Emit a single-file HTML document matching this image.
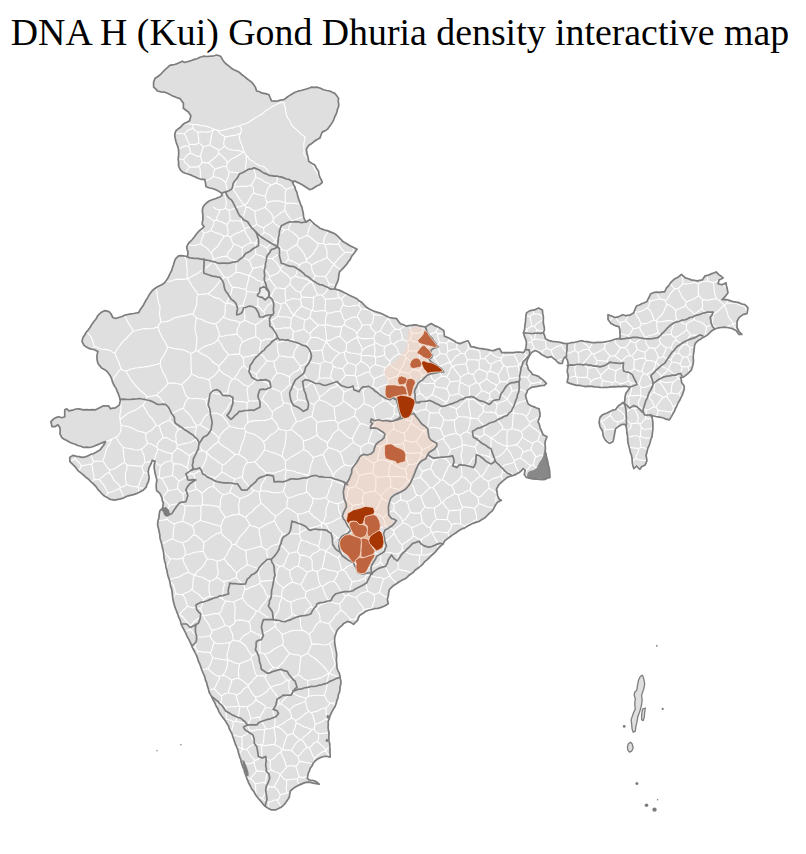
<!DOCTYPE html>
<html><head><meta charset="utf-8"><style>
html,body{margin:0;padding:0;background:#fff;}
body{width:806px;height:854px;overflow:hidden;position:relative;}
h1{position:absolute;left:-3px;top:14px;width:806px;margin:0;text-align:center;font-family:"Liberation Serif",serif;font-weight:normal;font-size:37.85px;line-height:1;color:#000;}
svg{position:absolute;left:0;top:0;}
</style></head><body>
<svg width="806" height="854" viewBox="0 0 806 854">
<polygon points="153.6,82.3 154.9,78.5 158.6,76.0 164.8,69.9 169.8,65.4 177.2,63.6 182.2,61.2 184.7,62.4 189.6,61.2 197.0,58.7 203.3,56.2 210.7,56.2 216.9,55.0 220.6,56.2 224.4,62.4 231.8,68.6 239.3,72.3 246.7,78.5 251.7,82.3 255.4,87.2 256.6,91.0 264.0,93.4 269.0,94.7 271.5,100.9 277.7,100.9 283.9,99.6 288.9,95.9 295.1,92.2 303.8,89.7 311.2,87.2 317.4,87.2 323.6,89.7 329.8,91.0 334.8,93.4 338.5,98.4 338.5,107.0 336.0,114.5 331.0,124.4 327.3,129.4 322.4,131.9 319.9,138.1 313.7,141.8 308.7,145.5 306.3,149.3 307.4,155.0 308.6,161.2 314.8,164.9 318.5,171.1 319.8,177.3 322.3,182.3 319.8,184.7 314.8,187.2 309.9,189.7 306.1,187.2 299.9,183.5 295.0,181.0 292.5,182.3 295.0,187.2 297.4,194.7 299.9,202.1 302.4,209.6 303.6,217.0 306.1,222.0 309.9,219.5 314.8,224.4 319.8,228.2 327.2,230.6 333.4,233.1 338.4,236.8 343.3,241.8 349.6,245.5 357.0,249.3 353.3,254.2 348.3,261.7 344.6,266.6 339.6,271.6 338.4,279.0 335.9,285.2 334.7,289.0 342.1,291.4 347.1,293.9 354.5,297.6 362.0,302.6 366.9,307.6 374.4,311.3 381.8,313.8 389.3,317.5 396.7,318.7 400.4,323.7 406.6,326.2 414.1,324.9 421.9,326.3 425.4,327.0 427.6,325.6 431.1,323.5 434.6,325.6 439.5,327.7 443.7,330.5 444.4,336.2 447.9,337.6 452.1,339.7 456.3,342.5 460.0,343.6 464.0,342.0 467.9,340.7 470.9,346.7 475.9,347.6 481.8,348.6 487.8,349.6 493.7,350.6 499.7,348.6 501.7,352.6 507.6,352.6 513.6,352.6 519.6,352.0 523.5,352.6 525.5,349.6 526.5,342.7 524.5,336.7 523.5,332.8 524.5,329.8 525.5,321.8 526.5,312.9 529.5,310.9 534.4,309.9 538.4,307.9 542.4,309.9 543.4,316.9 543.4,323.8 544.4,329.8 543.4,332.8 545.4,338.7 549.3,340.7 555.3,341.7 561.2,342.7 567.2,343.7 571.2,342.7 577.1,341.7 581.1,340.7 587.0,341.7 595.0,342.7 600.0,342.4 607.0,341.5 614.0,339.5 619.9,338.4 619.9,330.0 618.9,326.6 614.9,325.6 611.0,323.6 608.0,319.6 608.0,314.7 611.0,315.7 614.9,317.6 618.9,316.6 622.9,314.7 625.8,315.7 629.8,315.2 633.8,312.7 634.8,309.7 636.8,305.7 641.7,303.7 646.7,301.8 648.7,297.8 650.7,293.8 654.6,292.3 659.6,292.3 664.6,291.8 666.5,287.9 670.5,282.9 674.5,278.9 678.4,276.9 681.4,274.5 685.4,277.9 691.3,279.9 697.3,280.8 702.2,279.9 705.2,275.9 711.2,273.9 716.1,271.9 719.1,274.9 723.1,277.9 719.1,279.9 718.1,283.8 722.1,284.8 726.1,282.8 727.1,287.8 728.0,292.8 725.1,296.7 722.1,299.7 727.1,299.7 733.0,301.7 739.0,302.7 744.9,304.7 747.9,307.6 746.9,313.6 742.9,314.6 739.0,317.6 737.0,321.5 737.0,327.5 739.0,331.5 741.9,334.4 739.0,334.4 736.0,330.5 732.0,328.5 727.1,327.5 721.1,327.5 716.1,328.5 712.2,330.5 708.2,334.4 703.2,337.4 698.3,340.4 695.3,343.4 694.3,348.3 693.3,355.3 693.3,363.2 691.3,370.2 687.3,374.1 683.4,377.1 680.7,377.4 681.6,382.6 684.2,386.1 684.2,389.5 682.5,394.7 679.9,400.0 676.4,406.9 672.9,413.8 669.4,419.9 666.0,419.1 660.7,417.3 655.5,416.5 650.3,414.7 652.1,417.3 652.9,422.5 652.9,429.5 652.1,436.4 650.3,441.6 647.7,448.6 646.0,455.5 646.9,460.7 645.1,465.1 641.6,466.8 639.9,469.4 636.4,466.0 633.8,468.6 633.0,466.0 632.1,459.0 630.3,452.1 628.6,445.1 627.7,439.9 626.9,433.0 626.0,426.0 625.1,424.3 622.5,424.3 619.1,426.0 615.6,428.6 614.7,433.0 613.8,438.2 613.0,441.6 609.5,443.4 606.9,441.6 605.2,439.9 603.4,436.4 602.6,431.2 600.0,426.9 599.1,422.5 600.0,417.3 602.6,414.7 606.9,413.0 612.1,410.4 615.6,409.5 618.2,406.0 622.5,402.6 624.3,403.4 625.1,396.5 626.0,393.0 629.8,387.5 624.3,386.1 615.6,386.9 605.2,387.4 594.7,386.9 582.6,386.0 573.9,384.6 567.2,382.4 568.2,377.4 567.2,371.5 568.2,365.5 567.2,359.6 565.2,356.6 563.2,359.6 562.2,363.5 559.3,363.5 555.3,359.6 551.3,356.6 547.3,357.6 543.4,355.6 539.4,352.6 535.4,350.6 531.5,352.6 529.5,355.6 527.5,359.6 526.5,363.5 528.5,369.5 532.5,374.4 538.4,376.4 542.4,379.4 546.4,383.4 544.4,385.4 537.4,386.4 531.5,387.3 527.5,390.3 525.5,395.3 526.5,399.3 528.2,404.0 534.1,406.9 539.1,408.9 540.1,415.9 538.1,421.8 540.1,427.8 543.1,434.7 547.0,436.7 545.1,441.7 545.1,451.6 547.0,459.6 549.0,467.5 550.0,477.4 545.1,479.4 539.1,479.4 531.2,478.4 526.2,477.4 524.2,474.4 525.2,470.5 523.2,468.5 519.3,472.5 513.3,475.4 507.3,477.4 502.4,481.4 498.4,485.4 496.4,489.3 497.4,495.3 499.4,499.3 501.4,500.2 497.4,502.2 495.4,505.2 493.4,509.2 489.5,513.2 484.5,518.1 479.6,521.1 473.6,523.1 467.6,526.1 461.7,529.0 455.7,533.0 449.8,537.0 444.8,540.9 442.9,544.0 437.0,549.9 431.0,555.9 427.0,559.9 423.1,563.8 417.1,568.8 411.2,573.7 405.2,578.7 399.3,581.7 393.3,585.7 389.3,589.6 388.3,595.6 387.3,599.6 388.3,603.5 383.4,606.5 377.4,608.5 371.5,609.5 365.5,611.5 359.6,615.4 357.6,620.4 353.6,624.4 350.6,622.4 347.6,621.4 343.7,623.4 339.7,627.3 336.7,631.3 334.7,637.3 334.7,643.2 335.7,649.2 336.7,655.1 336.7,663.1 337.0,667.9 340.0,675.9 341.0,681.8 340.0,689.8 338.0,697.7 336.1,703.7 333.1,709.6 330.1,715.6 328.1,721.5 328.1,727.5 329.1,733.5 329.1,741.4 330.1,749.3 330.1,757.3 325.1,756.3 321.2,757.3 317.2,759.3 313.2,763.2 310.2,768.2 308.3,773.2 307.3,778.1 309.3,780.1 315.2,781.1 319.2,784.1 313.2,783.1 307.3,782.1 301.3,784.1 295.4,787.0 290.4,791.0 289.4,797.0 285.4,802.9 281.5,806.9 275.5,809.9 271.5,809.9 267.6,807.9 263.6,804.9 259.6,799.9 255.7,795.0 251.7,789.0 248.7,783.1 245.7,775.1 242.8,767.2 239.8,757.3 236.8,747.3 233.8,739.4 230.8,731.5 226.9,723.5 222.9,717.6 218.9,711.6 216.0,705.7 213.0,699.7 209.1,692.0 206.7,682.7 203.2,673.3 199.7,663.9 196.2,654.6 191.5,645.2 186.8,635.8 182.2,626.5 178.6,617.1 175.1,607.7 172.8,598.4 171.6,589.0 169.3,579.6 166.9,570.3 164.6,560.9 163.4,551.5 160.5,540.0 159.8,534.8 158.7,529.2 157.6,523.6 158.0,520.8 159.1,515.1 159.8,510.9 162.6,508.1 163.3,503.2 161.9,497.6 159.8,493.4 156.6,490.5 156.2,484.2 156.9,480.0 155.1,473.3 154.1,467.3 155.1,461.4 152.2,460.4 151.2,463.4 149.2,467.3 148.2,471.3 149.2,477.3 148.2,482.2 146.2,487.2 143.2,490.2 137.3,493.2 131.3,495.1 125.4,497.1 119.4,499.1 114.4,500.1 109.5,499.1 104.5,496.1 99.6,491.2 94.6,485.2 88.6,479.3 82.7,474.3 77.7,470.3 73.7,465.4 69.8,461.4 69.8,457.4 72.8,455.4 76.7,456.4 81.7,457.4 86.6,456.4 90.6,454.4 95.6,452.5 100.5,449.5 103.5,445.5 105.5,441.5 100.5,443.5 95.6,445.5 89.6,447.5 83.7,447.5 77.7,445.5 72.8,443.5 66.8,440.5 61.8,437.6 59.9,433.6 59.9,427.6 57.9,424.7 54.9,426.7 51.9,426.7 50.9,421.7 53.9,418.7 58.9,416.7 61.8,417.7 64.8,416.7 64.8,409.8 66.8,408.8 68.8,410.8 73.7,409.8 78.7,408.8 83.7,409.8 89.6,409.8 95.6,409.8 99.6,407.8 103.5,405.8 108.5,405.8 110.5,408.8 115.4,407.8 119.4,404.8 120.4,399.9 118.4,393.9 116.4,388.9 113.4,384.0 111.8,379.2 109.9,375.2 106.9,371.3 101.9,368.3 97.9,363.3 96.9,357.3 97.9,351.4 93.9,349.4 89.0,348.4 84.0,345.4 82.0,341.4 83.0,337.4 86.0,332.5 90.0,327.5 93.9,321.5 97.9,315.5 100.9,312.6 104.9,310.6 108.9,311.6 110.8,313.5 112.8,317.5 115.8,318.5 121.8,316.5 127.8,314.5 133.7,313.5 138.7,312.6 141.7,307.6 144.7,302.6 147.7,297.6 150.6,292.7 154.6,288.7 159.6,285.7 164.6,282.7 168.6,276.7 171.5,270.8 173.5,264.8 175.5,258.8 178.5,255.8 183.5,255.8 187.5,256.8 188.0,251.9 186.7,246.9 188.6,243.2 192.3,239.5 196.1,234.5 199.2,230.8 202.3,228.3 204.1,226.5 202.3,224.6 202.9,219.6 202.9,215.3 202.3,210.9 202.9,207.2 204.7,204.7 207.2,202.3 212.2,199.8 215.9,198.5 220.2,196.7 222.1,195.4 221.5,193.0 218.4,191.1 214.7,189.2 209.7,188.0 206.0,186.7 205.4,182.4 204.7,179.3 201.0,179.3 194.8,176.8 188.6,174.3 182.4,171.9 180.5,170.0 178.5,165.4 178.5,156.7 178.5,149.3 176.0,141.8 174.7,135.6 176.0,130.6 180.9,126.9 184.7,123.2 189.6,120.7 190.9,115.8 188.4,112.0 183.4,108.3 183.4,103.3 179.7,98.4 172.3,95.9 164.8,92.2 157.4,91.0 153.6,87.2" fill="#dfdfdf" stroke="none"/>
<path d="M70.2 461.9L70.4 461.8 72.5 460.2 74.8 458.8M75.8 456.2L75.7 456.4 74.8 458.8M176.0 442.0L176.1 438.9 175.7 435.7 176.2 432.6 178.1 429.8M169.4 420.3L171.4 422.0 173.1 423.9 175.1 425.6 177.1 427.3 178.1 429.8M169.4 420.3L166.7 421.3 164.1 422.5 161.5 423.8 159.1 425.6M176.0 442.0L173.4 441.1 170.9 440.0 168.5 438.6 165.9 437.6 163.1 437.4M159.1 425.6L160.1 428.5 160.8 431.6 162.3 434.4 163.1 437.4M158.1 327.0L159.0 324.4 160.8 322.3M160.8 322.3L160.5 319.8 160.1 317.3 159.5 314.9 159.6 312.3 159.9 309.8 160.0 307.2 159.5 304.7 158.3 302.4 158.0 299.9 157.6 297.4 157.1 294.9 156.9 292.4 156.7 289.9 155.9 287.9M133.3 331.1L135.8 330.5 138.2 329.7 140.7 329.6 143.1 328.8 145.6 328.6 148.2 328.8 150.7 328.8 153.2 328.5 155.6 327.6 158.1 327.0M133.3 331.1L132.0 328.8 130.7 326.5 129.3 324.2 127.7 322.1 126.6 319.7 125.4 317.3 124.6 315.6M94.6 346.5L93.6 344.0 92.8 341.4 91.9 338.8 90.7 336.4 88.9 334.3 87.1 332.3 86.7 331.7M94.6 346.5L92.7 348.4 91.9 349.0M114.9 353.0L112.4 351.9 110.1 350.4 107.5 349.8 104.9 349.4 102.1 349.2 99.5 348.5 97.1 347.3 94.6 346.5M114.9 353.0L116.3 350.8 117.6 348.5 119.3 346.5 120.7 344.3 122.3 342.2 124.1 340.3 126.3 338.8 127.9 336.7 129.6 334.8 131.5 333.0 133.3 331.1M120.9 368.6L120.0 366.0 119.3 363.3 118.2 360.7 116.9 358.2 115.8 355.7 114.9 353.0M120.9 368.6L119.3 370.6 117.7 372.6 116.2 374.6 114.7 376.6 113.5 378.8 112.5 381.2 112.5 381.3M187.6 278.6L185.0 279.1 182.4 279.4 179.8 279.4 177.2 279.1 174.6 279.7 172.1 280.8 169.6 281.3 167.0 281.3 165.6 281.2M187.6 278.6L187.1 276.1 187.1 273.6 187.3 271.0 187.0 268.5 186.7 266.1 186.7 263.5 186.6 261.0 185.6 258.6 184.5 256.2 184.5 256.1M341.4 299.3L343.0 297.1 345.1 295.5 346.8 293.8M341.4 299.3L339.1 297.5M339.1 297.5L338.2 295.2 337.8 292.7 337.4 290.1 337.4 289.9M200.6 608.8L201.6 606.5 202.3 604.1 202.7 601.6 204.0 599.3M200.6 608.8L198.0 607.9 195.4 607.7 192.6 607.8 190.1 607.0 187.5 606.1M187.5 606.1L186.4 603.2 185.6 600.1 184.6 597.2 182.7 594.6M204.0 599.3L201.9 597.8 200.2 595.8 198.3 594.0 196.0 592.6 193.7 591.2 192.2 589.0M192.2 589.0L190.0 590.7 187.7 592.2 185.0 593.1 182.7 594.6M168.9 578.1L169.9 579.3M169.9 579.3L169.6 581.0M196.4 426.5L193.8 426.9 191.1 427.0 188.5 427.3 185.8 427.6 183.3 428.3 180.7 428.9 178.1 429.8M196.4 426.5L196.1 429.6 195.2 432.6 195.0 435.7 195.8 438.9M176.0 442.0L177.3 445.5M177.3 445.5L180.0 444.8 182.7 444.0 185.5 443.4 188.3 443.0 191.0 442.1 193.5 440.8 195.8 438.9M171.7 413.4L174.1 412.6 176.3 411.2 178.6 410.0 180.8 408.8 183.5 408.5M169.4 420.3L170.8 416.9 171.7 413.4M196.4 426.5L197.1 425.6M183.5 408.5L185.3 410.5 187.2 412.5 189.1 414.4 190.9 416.5 192.4 418.8 193.5 421.4 195.1 423.6 197.1 425.6M168.0 383.5L166.3 385.6 164.7 387.7 162.6 389.5 160.7 391.4 158.5 393.0 156.7 395.0M168.0 383.5L167.3 380.9 166.1 378.4 165.2 375.9 163.7 373.6 162.3 371.2 161.7 368.5 160.6 366.0 160.1 363.3M125.7 370.7L127.1 372.9 128.3 375.3 129.6 377.6 131.0 379.8 132.5 381.8 134.1 383.9 135.7 385.9 137.6 387.7 139.3 389.7 141.4 391.3 143.5 393.0 145.4 394.8 146.7 397.1M125.7 370.7L128.1 370.2 130.5 369.3 132.9 368.5 135.4 368.0 137.9 367.8 140.4 367.3 142.9 367.3 145.4 366.6 147.9 366.6 150.3 365.8 152.8 365.4 155.2 364.7 157.7 364.0 160.1 363.3M146.7 397.1L149.2 396.3 151.8 396.3 154.2 395.6 156.7 395.0M171.7 413.4L170.0 411.5 168.6 409.2 167.0 407.0 165.2 405.1 163.9 402.7 162.1 400.8 160.6 398.6 158.8 396.7 156.7 395.0M188.4 397.8L186.8 400.3 185.1 402.8 184.1 405.6 183.5 408.5M181.7 384.6L179.0 384.0 176.3 383.5 173.6 382.9 170.8 383.1 168.0 383.5M181.7 384.6L183.0 387.3 183.9 390.1 184.8 393.0 186.1 395.7 188.4 397.8M120.9 368.6L123.0 370.3 125.7 370.7M167.7 346.7L166.2 344.4 165.1 341.9 163.5 339.6 162.0 337.3 161.0 334.8 159.7 332.3 159.0 329.6 158.1 327.0M167.7 346.7L166.9 349.2 165.8 351.6 164.7 353.9 163.2 356.1 161.8 358.3 160.6 360.6 160.1 363.3M188.0 278.8L189.2 281.2 190.7 283.5 191.9 285.9 193.6 287.9 195.0 290.2 196.6 292.3 198.1 294.5M187.6 278.6L188.0 278.8M160.8 322.3L163.3 321.7 165.9 321.6 168.4 321.1 170.7 319.9 173.0 318.6 175.4 317.4 177.9 317.1 180.4 316.5 182.9 315.9 185.5 315.7 187.9 314.8 190.3 314.1 193.0 314.1M193.0 314.1L193.9 311.7 195.2 309.4 195.9 307.0 196.6 304.6 196.9 302.1 196.8 299.4 197.1 296.9 198.1 294.5M268.8 802.3L266.3 801.4 264.1 800.1 262.2 798.3M268.8 802.3L268.6 805.0 268.3 807.7 268.3 808.3M258.2 798.1L259.5 797.8 262.2 798.3M599.8 418.3L601.0 420.6M599.3 421.5L601.0 420.6M610.2 415.3L608.2 416.9 606.2 418.6 604.1 420.2 601.4 420.7M610.2 415.3L611.8 417.3 613.2 419.6 615.1 421.3 617.9 422.0M601.4 420.7L602.8 423.5 604.5 426.2 605.6 429.2M605.6 429.2L608.2 429.5 610.9 429.4 613.6 429.1 615.4 429.8M616.7 427.8L616.8 427.4 617.5 424.7 617.9 422.0M341.4 299.3L342.9 301.9 343.2 304.9M359.8 301.1L359.5 302.3 358.8 305.2M358.8 305.2L356.2 305.3 353.6 305.6 351.0 306.2 348.4 306.5 345.8 306.1 343.2 304.9M745.7 305.5L745.0 306.5M747.2 311.9L746.2 309.9 745.0 306.5M707.8 280.9L707.5 278.0 706.9 275.3M707.8 280.9L705.3 281.4 702.7 281.6 700.3 282.3 698.4 284.4M698.4 284.4L694.6 282.3M694.6 282.3L694.4 280.4M694.6 282.3L691.7 283.2 688.8 283.6 685.8 283.9 682.8 284.0M680.9 274.9L681.3 275.5 682.4 278.1 683.0 280.9 682.8 284.0M182.7 594.6L179.3 594.5 176.0 593.6M176.0 593.6L175.0 591.0 174.4 588.1 173.6 585.4 171.8 583.1 169.7 581.1M192.2 589.0L192.6 586.2 193.0 583.4 193.0 580.5 193.6 577.7 194.6 574.9M169.9 579.3L172.3 578.5 174.8 578.0 177.3 577.4 179.7 576.5 182.0 575.3 184.2 574.1 186.5 572.9 189.0 572.3M189.0 572.3L191.5 574.1 194.6 574.9M166.3 567.9L166.5 566.7 167.8 564.1 169.2 561.5 169.9 558.6M169.9 558.6L172.5 558.8 175.2 558.9 177.8 559.3 180.5 558.5 183.1 558.1M189.0 572.3L187.8 570.0 186.7 567.7 185.5 565.4 184.2 563.2 183.2 560.8 183.1 558.1M194.1 534.7L191.8 536.3 189.8 538.3 187.8 540.4 185.2 541.6 182.6 542.7M182.6 542.7L183.7 545.6 184.7 548.5 185.4 551.5 185.1 554.7M203.6 542.2L201.5 540.0 199.2 538.0 197.0 536.0 194.1 534.7M203.6 542.2L203.8 545.2 203.3 548.2 203.0 551.2M185.1 554.7L187.7 554.5 190.3 554.0 192.7 553.0 195.2 552.3 197.8 551.7 200.4 551.6 203.0 551.2M169.9 558.6L168.0 556.3 165.7 554.3 164.2 551.6 163.0 548.8 162.6 548.4M172.4 538.7L174.8 540.0 177.3 541.2 179.9 542.0 182.6 542.7M183.1 558.1L185.1 554.7M172.4 538.7L170.0 539.8 167.6 540.9 165.3 542.2 163.0 543.4 161.8 545.0M174.4 523.9L174.1 526.9 173.4 529.8 173.1 532.8 173.3 535.8 172.4 538.7M174.4 523.9L171.6 522.8 169.2 521.1 166.9 519.2M166.9 519.2L164.0 520.1 161.1 520.3 158.1 520.8 158.0 520.8M182.9 493.9L183.2 497.2 183.4 500.5 182.6 503.8M182.6 503.8L180.0 504.0 177.3 504.0 174.6 504.3 172.0 504.6 169.5 505.8M167.8 490.9L170.2 490.3 172.7 490.0 175.2 489.5 177.7 488.7M182.9 493.9L180.1 491.5 177.7 488.7M167.8 490.9L165.8 493.1 164.3 495.5 162.8 497.9M169.5 505.8L168.1 503.6 166.1 501.9 164.5 499.8 162.8 497.9M74.8 458.8L77.3 460.8 79.6 463.0 81.3 465.7M81.3 465.7L80.4 468.1 79.1 470.3 78.7 471.1M275.3 626.1L272.9 627.8 270.6 629.5 268.2 631.1 265.4 632.2 263.1 634.1 260.8 635.8M282.1 634.4L280.3 632.4 278.5 630.4 276.5 628.6 275.3 626.1M282.5 644.8L280.2 645.9 277.9 647.1 275.6 648.2 273.4 649.5 271.3 651.2 269.2 652.7 266.7 653.5 264.0 653.7M282.1 634.4L282.3 637.0 283.0 639.6 283.3 642.2 282.5 644.8M264.0 653.7L259.9 652.6M259.9 652.6L260.0 649.8 259.8 647.0 259.9 644.2 260.5 641.4 260.7 638.6 260.8 635.8M260.8 635.8L258.4 634.5 255.8 633.5 253.4 632.1 250.8 631.2M250.8 631.2L248.3 632.9 245.8 634.5 243.1 636.0 241.3 638.5 239.6 641.0M259.9 652.6L257.3 653.5 254.5 654.0 252.3 655.8M252.3 655.8L250.5 653.7 248.8 651.5 247.4 649.0 246.0 646.5 244.1 644.5 241.9 642.7 239.6 641.0M264.0 653.7L265.6 655.9 267.1 658.2 268.2 660.7 269.7 663.1 271.3 665.2 273.3 667.2M252.3 655.8L250.6 659.0M256.9 675.8L255.6 673.5 254.8 671.1 253.9 668.7 253.4 666.1 252.8 663.6 252.2 661.1 250.6 659.0M256.9 675.8L259.6 675.7 262.3 675.4 264.9 676.6M273.3 667.2L271.4 668.9 269.6 670.7 268.0 672.6 266.5 674.7 264.9 676.6M282.5 644.8L284.4 646.9 286.1 649.1 287.6 651.6 289.9 653.3M289.9 653.3L288.1 655.3 286.4 657.4 285.0 659.8 283.5 662.0 281.5 663.8 279.5 665.7 277.5 667.5M273.3 667.2L277.5 667.5M307.5 653.2L309.5 654.9 311.7 656.5 314.1 657.8 316.3 659.5 318.2 661.3 320.1 663.2 322.1 665.0 323.8 667.0 325.7 669.0 327.4 671.1 328.7 673.5M328.7 673.6L328.7 673.5M301.2 656.4L300.6 659.0 300.3 661.6 300.1 664.3 299.6 666.9 299.6 669.6 298.9 672.2 298.3 674.8M301.2 656.4L304.4 654.9 307.5 653.2M328.7 673.6L326.2 674.8 323.7 676.1 321.3 677.6 318.7 678.4 316.0 679.2 313.2 679.2 310.5 680.0 307.7 680.3M298.3 674.8L300.7 676.2 302.7 678.1 305.0 679.6 307.7 680.3M200.9 506.0L198.2 505.7 195.5 505.8 192.9 506.1 190.2 505.8 187.5 505.5 184.9 506.3M200.9 506.0L201.1 508.8 200.8 511.6 201.1 514.4 200.5 517.1 200.5 519.9M184.9 506.3L184.8 508.9 185.0 511.5 184.5 514.0 183.7 516.5 183.1 519.0 182.8 521.5M200.5 519.9L198.5 521.5 196.1 522.6 194.0 524.0 192.7 526.4M192.7 526.4L190.5 524.8 188.0 523.5 185.4 522.5 182.8 521.5M174.4 523.9L177.1 522.7 179.8 521.7 182.8 521.5M166.9 519.2L167.2 516.5 167.4 513.7 167.6 511.0 168.2 508.3 169.5 505.8M182.6 503.8L184.9 506.3M194.1 534.7L194.1 531.9 193.7 529.1 192.7 526.4M220.7 526.3L221.3 529.4 221.0 532.5M203.6 542.2L206.1 540.9 208.5 539.4 210.7 537.4 213.1 535.9 215.5 534.3 218.1 533.1 221.0 532.5M220.7 526.3L218.1 525.6 215.7 524.6 213.0 524.3 210.5 523.4 208.0 522.5 205.4 522.0 202.9 521.2 200.5 519.9M161.7 478.5L164.3 477.3 167.0 476.8 169.8 476.5 172.3 475.2M161.7 478.5L163.2 480.8 164.4 483.3 166.0 485.6 167.4 488.0 167.8 490.9M177.7 488.7L177.8 486.1 178.0 483.5 179.1 481.0M179.1 481.0L176.9 479.1 174.9 476.9 172.3 475.2M156.1 425.3L154.3 427.1 152.7 429.2 150.6 430.8 148.2 431.9 146.2 433.4M156.1 425.3L154.8 422.9 153.5 420.6 151.9 418.4 149.9 416.5 148.4 414.3 146.8 412.1 145.7 409.6 144.2 407.4 142.6 405.2M146.2 433.4L143.7 432.4 141.1 431.7 138.4 431.2 135.9 430.1 133.5 428.8 131.1 427.5 128.5 426.7 125.8 426.2 123.1 425.8 120.6 424.8 120.5 424.8M142.6 405.2L140.3 406.6 138.3 408.4 135.9 409.7 133.3 410.8 130.9 412.0 128.4 413.1 126.2 414.7 124.0 416.2 122.0 418.0 120.0 419.5M156.6 446.9L153.7 445.4 150.9 443.8 147.5 443.5M163.1 437.4L161.1 439.5 158.8 441.4 157.5 444.1 156.6 446.9M159.1 425.6L156.1 425.3M147.5 443.5L146.8 441.0 145.9 438.6 145.9 436.0 146.2 433.4M146.7 397.1L145.7 400.0 144.8 402.9 142.6 405.2M123.1 447.3L121.3 445.0 119.5 442.8 117.9 440.3 116.5 437.7 115.9 437.1M123.1 447.3L125.7 448.0 128.4 448.3 131.0 448.9 133.6 449.5 136.2 450.0 138.9 449.9 141.6 449.1M141.6 449.1L143.8 447.4 145.5 445.3 147.5 443.5M167.7 346.7L170.3 347.5 172.8 348.4 175.5 348.7 178.2 349.1 180.9 349.5 183.6 349.9 186.1 350.9 188.5 352.1 190.8 353.6M193.0 314.1L196.3 317.7M196.3 317.7L195.9 320.2 195.8 322.8 195.4 325.4 194.9 327.9 195.2 330.5 195.7 333.1 196.4 335.7 197.1 338.2 196.8 340.8 196.4 343.4 196.3 345.9 196.2 348.5 195.3 351.0M190.8 353.6L193.3 352.6 195.3 351.0M181.7 384.6L183.6 382.5 185.8 380.5 188.1 378.7 189.9 376.4 191.3 373.8M190.8 353.6L190.8 356.1 191.1 358.6 190.8 361.2 191.2 363.7 191.1 366.2 191.1 368.7 191.5 371.2 191.3 373.8M296.7 244.5L298.4 246.6 300.1 248.6 301.8 250.6 303.5 252.6 304.6 255.1 305.6 257.5 306.5 260.1M296.7 244.5L297.8 241.8 298.7 239.0M318.4 243.2L316.0 242.0 314.0 240.2 311.9 238.5 309.8 236.8 307.4 235.6M306.5 260.1L308.3 258.2 310.4 256.5 312.2 254.6 313.8 252.6 315.2 250.4 316.5 248.2 317.7 245.8 318.4 243.2M298.7 239.0L301.6 237.9 304.3 236.3 307.4 235.6M277.0 176.3L277.2 177.6 277.3 180.4 276.3 183.1M294.6 186.4L294.2 186.6 291.6 187.6 289.0 188.3 286.5 189.4M286.5 189.4L284.0 187.7 281.8 185.6 279.1 184.2 276.3 183.1M267.2 202.5L265.8 199.3 265.4 195.8M285.4 202.4L282.8 202.0 280.2 201.3 277.6 200.9 275.0 200.9 272.4 201.1 269.8 201.7 267.2 202.5M285.4 202.4L285.3 199.8 285.2 197.1 285.1 194.5 285.5 191.9 286.5 189.4M276.3 183.1L273.7 183.9 271.2 185.1M265.4 195.8L266.5 192.9 267.3 189.9 268.6 187.1 271.2 185.1M187.5 245.4L187.9 245.3 190.4 245.3 193.1 245.6 195.6 245.4 198.1 244.5 200.6 243.8M200.6 243.8L201.3 241.1 201.9 238.4 203.2 235.9 204.0 233.2M204.0 233.2L202.4 231.2 200.7 229.6M247.0 778.6L248.1 778.3 250.7 778.8M255.8 795.1L255.9 794.2 255.9 791.6 255.6 789.1 255.6 786.5 255.2 783.9M250.7 778.8L253.1 781.3 255.2 783.9M268.8 802.3L271.7 801.3 274.5 800.0 277.6 799.9M281.6 806.8L280.0 804.8 278.4 802.6 277.6 799.9M313.0 763.6L310.4 763.2 307.6 762.7 304.9 762.2 302.1 761.4 299.3 761.6M299.3 761.6L297.9 764.2 295.8 766.2M295.8 766.2L296.7 768.8 297.5 771.4 298.3 774.1 299.1 776.8M307.6 776.7L305.5 776.9 302.3 777.6 299.1 776.8M314.5 758.2L312.8 755.8 311.8 753.1 310.7 750.4 309.3 747.9M314.5 758.2L316.6 756.4 318.6 754.5 320.8 752.9 323.2 751.6 325.9 750.9M309.3 747.9L311.2 746.1 312.9 744.0 315.0 742.5 317.6 741.7M317.6 741.7L319.9 743.7 322.3 745.6 324.4 747.8 325.9 750.5M325.9 750.9L325.9 750.5M330.1 755.8L329.3 755.2 327.2 753.5 325.9 750.9M313.3 763.1L314.0 760.9 314.5 758.2M309.3 747.9L307.4 747.4M299.3 761.6L298.6 758.9 297.9 756.1M307.4 747.4L305.3 748.9 303.2 750.5 301.7 752.7 300.0 754.7 297.9 756.1M282.5 749.6L285.4 750.1 288.3 750.1 291.2 750.5M282.5 749.6L281.7 750.0M295.8 766.2L292.6 765.9 289.5 765.6 286.5 766.7M286.5 766.7L285.6 764.2 285.0 761.6 284.1 759.0 282.6 756.7 281.4 754.3 281.1 751.6M281.7 750.0L281.1 751.6M291.2 750.5L293.5 752.3 295.5 754.4 297.9 756.1M318.2 783.3L317.5 783.7 317.5 783.8M312.5 783.0L312.1 782.0 311.6 780.5M605.6 429.2L603.3 433.4M601.0 420.6L601.4 420.7M603.3 433.4L603.0 433.6M610.2 415.3L611.3 410.8M196.5 489.2L193.8 490.3 191.0 491.0 188.2 491.6 185.3 492.2 182.9 493.9M196.5 489.2L199.3 491.0 202.0 493.0M200.9 506.0L202.2 504.6M202.2 504.6L202.6 501.7 202.6 498.8 201.9 495.9 202.0 493.0M188.4 397.8L190.8 398.5 193.3 398.7 195.9 398.3 198.4 398.8 200.9 398.8 203.4 399.1 205.8 400.2M200.0 424.4L201.6 422.4 202.8 420.1 203.9 417.7 205.7 415.8 207.7 414.2 210.2 413.0M197.1 425.6L200.0 424.4M210.2 413.0L209.1 410.5 208.2 408.0 207.0 405.5 206.2 402.9 205.8 400.2M229.5 426.2L227.4 428.1 225.1 429.7 223.1 431.6 221.4 433.7 219.8 435.9 218.9 438.7M200.0 424.4L202.1 426.0 204.4 427.3 206.7 428.7 209.0 429.9 211.3 431.3 213.5 432.7 215.5 434.5 217.3 436.4 218.9 438.7M229.5 426.2L228.2 423.9 227.0 421.6 225.3 419.6 223.7 417.6 222.0 415.7M210.2 413.0L213.2 413.3 216.4 413.1 219.3 414.2 222.0 415.7M458.8 393.9L459.0 390.9 459.0 388.0 459.4 385.0 460.4 382.2M458.8 393.9L461.6 395.6 464.5 397.1 467.0 399.3M460.4 382.2L463.3 383.7 466.3 385.2 469.4 386.4M467.0 399.3L467.4 399.3M469.4 386.4L469.4 389.1 469.6 391.8 469.7 394.4 468.7 396.9 467.4 399.3M467.5 359.9L470.4 359.8 473.2 359.7 476.0 359.9 478.8 360.4M467.5 359.9L465.9 363.8M468.4 372.9L467.7 369.8 467.0 366.8 465.9 363.8M473.2 374.4L474.9 372.5 476.5 370.4 479.0 369.3M468.4 372.9L470.7 373.9 473.2 374.4M478.8 360.4L479.3 363.4 479.1 366.4 479.0 369.3M335.9 285.3L332.7 284.8 329.6 283.8M329.6 283.8L327.9 281.5 326.8 278.9 325.1 276.6M325.1 276.6L327.0 274.8 328.2 272.6 329.9 270.7 331.3 268.5 332.4 266.2 334.2 264.3M341.1 270.1L340.4 269.6 338.3 267.9 335.9 266.5 334.2 264.3M325.1 276.6L321.8 276.3 318.6 276.2 315.4 275.8M327.2 257.6L329.4 259.8 331.5 262.2 334.1 264.0M327.2 257.6L324.8 258.6 322.6 259.8 320.3 260.7 317.9 261.5 315.7 262.7 313.6 264.0 311.1 264.6M311.1 264.6L311.7 267.5 312.1 270.6 313.4 273.3 315.4 275.8M334.2 264.3L334.1 264.0M440.3 353.5L443.2 354.0 446.2 354.5M440.3 353.5L437.4 355.9 434.0 357.4M434.0 357.4L435.7 360.3 437.8 362.9 439.0 366.0M439.0 366.0L441.8 365.4 444.4 364.3 446.9 362.9 449.8 362.6M449.8 362.6L448.8 359.8 447.5 357.1 446.2 354.5M437.6 344.9L434.9 344.9 432.3 344.9 429.7 345.9M427.3 348.8L429.7 345.9M427.3 348.8L429.2 351.3 430.6 354.0 431.4 357.0M431.4 357.0L434.0 357.4M437.6 344.9L438.5 347.8 439.2 350.7 440.3 353.5M427.3 348.8L424.5 348.6 421.8 348.6M421.8 348.6L418.8 351.3M419.6 359.7L419.6 356.9 419.3 354.1 418.8 351.3M419.6 359.7L421.6 361.5 424.0 362.7M431.4 357.0L429.8 359.1 427.9 360.9 425.8 362.6M424.0 362.7L425.8 362.6M418.8 351.3L416.3 351.1 413.7 350.8 411.1 351.1 408.5 351.2M408.5 351.2L408.0 348.7 408.3 346.2 408.3 343.7 408.2 341.2M421.8 348.6L420.1 345.6 418.9 342.3M408.2 341.2L409.9 339.9M418.9 342.3L415.8 341.8 412.8 341.3 409.9 339.9M299.7 265.0L298.3 267.7 297.2 270.5 296.6 273.5 295.0 276.1M299.7 265.0L297.5 263.7 295.2 262.6 292.8 261.6 290.5 260.4 288.0 259.7M288.0 259.7L286.0 261.9 283.8 263.8 282.2 266.3 280.4 268.6M290.8 278.8L295.0 276.1M290.8 278.8L288.9 276.8 287.0 274.8 284.7 273.2 282.5 271.5 280.3 269.8M280.4 268.6L280.3 269.8M306.6 261.5L304.2 262.5 301.6 263.1 299.7 265.0M306.6 261.5L306.5 260.1M286.6 250.9L289.2 249.5 291.6 247.6 294.2 246.2 296.7 244.5M286.6 250.9L287.6 253.8 288.3 256.7 288.0 259.7M339.1 297.5L336.4 298.1 333.7 298.9 330.9 298.9 328.1 298.9 325.3 299.2M329.6 283.8L328.4 286.3 327.4 288.9 326.4 291.5 324.5 293.6 322.0 295.2M322.0 295.2L323.7 297.2 325.3 299.2M327.2 312.8L325.3 310.7M340.6 310.7L338.0 311.4 335.3 311.8 332.6 312.3 330.0 313.1 327.2 312.8M343.2 304.9L341.3 307.6 340.6 310.7M325.3 299.2L325.5 302.1 325.4 304.9 325.1 307.8 325.3 310.7M176.0 593.6L174.0 596.0 172.8 598.4M217.3 561.2L214.9 560.2 212.5 559.3 209.9 559.3 207.3 558.7M217.3 561.2L217.0 563.9 217.3 566.8 217.9 569.6 218.2 572.4 217.7 575.1 216.4 577.8M207.3 558.7L206.1 561.0 204.8 563.2 203.6 565.6 201.7 567.4 200.0 569.3 197.8 570.9 196.0 572.7 194.7 574.9M194.7 574.9L197.1 576.0 199.8 576.7 202.5 577.2 204.8 578.8 207.2 580.1 209.6 581.3M216.4 577.8L214.3 579.3 212.0 580.4 209.6 581.3M224.0 558.7L225.5 556.5 227.2 554.3 228.3 551.8 229.5 549.3 231.0 547.1 232.0 544.5M221.0 532.5L222.6 534.7 224.4 536.8 226.6 538.4 228.8 540.1 230.9 541.8 232.0 544.5M203.0 551.2L204.5 553.7 205.8 556.3 207.3 558.7M224.0 558.7L220.8 560.3 217.3 561.2M194.6 574.9L194.7 574.9M204.0 599.3L206.7 597.3 210.0 596.2M210.0 596.2L209.4 593.2 209.0 590.3 208.9 587.3 209.3 584.3 209.6 581.3M210.0 596.2L212.5 596.6 215.0 597.0 217.5 597.5 220.0 597.6 222.4 598.6M222.4 598.6L222.5 595.8 222.9 592.9 223.1 590.1 223.7 587.3 224.3 584.5 223.8 581.6M223.8 581.6L221.3 580.4 219.1 578.7 216.4 577.8M256.4 611.1L255.2 613.4 254.1 615.8 252.2 617.7 250.7 619.8 248.9 621.7M256.4 611.1L254.3 609.4 251.8 608.0 249.6 606.3 247.4 604.6 245.5 602.6 243.8 600.5 242.5 597.8M248.9 621.7L246.2 621.1 243.5 620.3 240.7 619.9 238.0 620.1 235.2 621.3M235.2 621.3L234.8 618.6 234.9 615.8 234.8 613.0 235.0 610.2 235.3 607.4 234.4 604.7 233.7 602.0M242.5 597.8L239.6 599.3 236.6 600.5 233.7 602.0M275.3 626.1L275.1 623.0M273.5 620.5L275.1 623.0M273.5 620.5L271.0 619.1 268.2 618.0 265.9 616.2 263.6 614.5 261.1 612.9 258.9 611.1M258.9 611.1L256.4 611.1M250.8 631.2L250.4 628.0 250.0 624.8 248.9 621.7M239.6 641.0L236.3 641.1 233.2 640.0M229.7 626.8L230.4 629.4 231.5 631.9 232.7 634.4 232.9 637.2 233.2 640.0M229.7 626.8L231.9 625.3 234.0 623.7 235.2 621.3M212.0 630.4L214.7 629.6 217.5 629.0 220.0 627.8 222.6 626.7 225.0 625.2M212.0 630.4L210.4 628.1 209.4 625.5 208.0 623.1 206.2 620.9 204.7 618.6 204.0 615.9M225.0 625.2L223.9 622.8 223.0 620.3 221.8 617.9 220.3 615.8 218.9 613.5M204.0 615.9L206.4 615.3 208.9 614.9 211.4 614.4 213.8 613.6 216.3 613.6 218.9 613.5M225.5 601.3L228.2 601.4 230.9 601.8 233.7 602.0M225.5 601.3L224.1 603.7 222.9 606.2 222.1 608.9 221.2 611.6 218.9 613.5M229.7 626.8L225.0 625.2M200.6 608.8L201.7 611.8 202.3 615.0M222.4 598.6L225.5 601.3M202.3 615.0L204.0 615.9M108.1 492.9L110.5 492.2 112.9 491.4 115.2 490.6 117.5 489.5 119.8 488.5M123.4 497.8L123.2 496.4 122.4 493.7 121.1 491.1 119.8 488.5M108.1 492.9L106.3 495.3 105.3 496.6M162.8 497.9L162.0 498.0M277.5 667.5L279.6 669.4 281.1 671.7 282.3 674.1 284.0 676.3 285.5 678.6 287.9 680.1M264.9 676.6L265.9 679.4 267.3 682.1 268.8 684.7 270.8 687.1M270.8 687.1L273.3 686.3 275.7 685.3 278.3 684.6 280.9 684.1 283.3 682.9 285.5 681.3 287.9 680.1M289.9 653.3L292.7 654.2 295.6 654.6 298.6 654.9 301.2 656.4M298.3 674.8L295.9 676.1 293.4 677.2 291.3 679.1 288.9 680.4M287.9 680.1L288.9 680.4M337.2 700.1L337.2 700.2 335.4 702.1 333.1 703.4M333.1 703.4L335.1 705.5 335.2 705.5M328.7 673.5L329.8 673.2M312.0 644.2L310.6 646.3 309.8 648.7 308.6 650.9 307.5 653.2M312.0 644.2L314.9 643.9 317.8 644.1 320.8 644.5 323.7 645.0 326.6 644.7 329.5 643.4M329.5 643.4L330.2 645.9 331.3 648.4 331.9 650.9 332.5 653.4 332.6 656.1 333.5 658.6 334.5 661.0 335.2 663.6M329.8 673.2L330.9 670.7 332.5 668.4 334.2 666.2 335.2 663.6M336.7 662.3L335.2 663.6M340.4 678.1L339.6 677.8 337.3 676.5 334.7 675.6 332.0 674.7 329.8 673.2M196.5 489.2L195.5 486.8 195.1 484.3 195.2 481.6 195.0 479.1 194.4 476.6 193.3 474.2M179.1 481.0L181.6 479.7 184.0 478.3 186.1 476.5 188.5 475.1 190.7 473.4M193.3 474.2L190.7 473.4M156.6 446.9L157.9 449.1M141.6 449.1L142.3 451.7 143.6 454.2 144.3 456.8 144.6 459.5 145.0 462.2M157.9 449.1L157.1 452.1 155.7 454.9 154.9 457.9 153.5 460.8M153.5 460.8L153.3 460.8M152.0 461.1L150.7 461.4 147.9 462.1 145.0 462.2M127.3 465.1L124.6 462.5M124.6 462.5L124.4 460.0 123.8 457.5 123.7 454.9 123.5 452.4 123.1 449.9 123.1 447.3M127.3 465.1L130.2 465.5 133.2 465.6 136.1 465.9 139.0 466.2 141.9 466.4M141.9 466.4L143.5 464.3 145.0 462.2M94.4 479.5L93.8 477.0 93.7 474.4 92.9 471.9 92.6 469.3 92.4 466.7 91.6 464.2M94.4 479.5L99.2 479.6M99.2 479.6L101.5 477.6 104.0 475.7 106.3 473.6 109.2 472.4M102.7 461.2L104.6 463.2 106.0 465.7 107.5 468.0 109.8 469.7M102.7 461.2L99.7 461.2 96.6 461.0 93.7 461.8M109.8 469.7L109.2 472.4M93.7 461.8L91.6 464.2M81.3 465.7L83.9 465.4 86.4 465.0 88.9 464.2 91.6 464.2M91.1 481.7L92.1 480.9 94.4 479.5M108.1 492.9L106.9 490.5 105.5 488.2 104.4 485.8 102.6 483.7 101.2 481.5 99.2 479.6M119.8 488.5L120.5 487.4M120.5 487.4L118.9 485.2 117.1 483.2 115.1 481.4 113.3 479.4 112.3 476.8 110.8 474.6 109.2 472.4M124.6 462.5L122.1 463.7 119.8 465.2 117.6 466.8 115.2 468.3 112.8 469.5 109.8 469.7M112.2 438.9L111.5 439.9 110.3 442.2 109.1 444.4 107.7 446.6 106.8 449.0 105.7 451.3 105.4 453.9 104.4 456.3 103.7 458.8 102.7 461.2M90.7 454.4L90.7 454.5 91.5 457.0 92.6 459.4 93.7 461.8M126.7 484.5L123.8 486.3 120.5 487.4M127.3 465.1L127.0 467.9 126.2 470.6 125.5 473.4 125.4 476.1 125.5 478.9 125.9 481.7 126.7 484.5M226.5 303.1L229.2 303.4 232.0 304.1 234.6 305.2 237.3 306.0 240.1 305.9 243.0 305.2M226.5 303.1L227.8 300.6 228.8 298.0 229.9 295.4 231.3 292.9 231.8 290.1 232.4 287.4M243.0 305.2L243.7 302.4 244.6 299.6 245.8 296.9 246.2 294.0 246.6 291.2M232.4 287.4L235.1 287.4 237.8 287.6 240.4 288.3 243.1 288.8 245.7 289.5M246.6 291.2L245.7 289.5M198.1 294.5L201.4 294.4 204.6 293.9 207.8 294.0M207.8 294.0L210.2 294.9 212.4 296.2 214.6 297.4 217.1 298.1 219.6 298.8 221.6 300.4 223.6 302.1 225.7 303.5M196.3 317.7L198.7 318.7 201.2 319.1 203.5 320.2 205.7 321.7 208.2 322.3 210.6 323.1 213.1 323.8 215.8 323.9M225.7 303.5L225.2 306.2 225.1 309.0 225.2 311.8 224.8 314.6 223.1 317.1M215.8 323.9L217.9 322.5 219.8 320.9 221.3 318.8 223.1 317.1M300.8 204.7L299.7 204.3 297.1 203.7 294.4 203.4 291.6 203.1 288.9 203.0 286.0 203.6M303.6 216.7L301.9 217.1 299.4 218.0 296.9 219.0 294.4 220.0 291.8 220.9M291.8 220.9L290.5 218.6 288.8 216.6 287.1 214.7 285.9 212.3 284.9 209.9M286.0 203.6L284.9 206.6 284.9 209.9M285.4 202.4L286.0 203.6M311.7 221.3L311.6 222.8 310.5 225.3 309.1 227.7 308.6 230.3 307.8 232.9 307.4 235.6M288.2 229.5L290.6 231.1 293.1 232.6 295.1 234.5 297.3 236.3 298.7 239.0M288.2 229.5L289.2 226.6 290.7 223.8 291.8 220.9M284.5 230.0L281.9 228.5 279.5 226.7 277.0 225.2 274.5 223.6 273.0 220.8M273.2 218.9L273.0 220.8M273.2 218.9L275.4 216.9 277.8 215.2 280.0 213.3 282.6 211.8 284.9 209.9M284.5 230.0L288.2 229.5M265.1 207.2L266.3 204.9 267.2 202.5M265.1 207.2L267.0 209.3 269.2 211.2 271.2 213.3 272.6 215.8 273.2 218.9M271.2 185.1L268.7 183.6 265.9 182.6 263.4 181.0 261.0 179.3 258.3 178.2 255.7 177.0M253.4 168.1L253.5 168.7 254.3 171.4 255.4 174.1 255.7 177.0M253.8 193.1L256.7 194.1 259.5 194.8 262.4 195.7 265.4 195.8M253.8 193.1L253.4 190.3 253.3 187.5 251.5 185.1M251.5 185.1L252.9 182.4 254.3 179.7 255.7 177.0M211.1 253.2L212.6 251.0 214.5 249.0 216.7 247.3 218.5 245.3 219.7 242.8 221.2 240.6 222.8 238.5 224.4 236.3M211.1 253.2L209.3 251.0 207.6 248.7 205.4 246.9 202.8 245.5 200.6 243.8M204.0 233.2L207.5 231.9 210.9 230.4M210.9 230.4L213.5 231.7 216.2 232.9 219.1 233.6 221.8 234.9 224.4 236.3M254.8 211.0L255.1 213.7 255.2 216.3 255.9 218.8 256.1 221.5 256.6 224.0M265.1 207.2L262.6 208.3 260.0 209.3 257.5 210.5 254.8 211.0M273.0 220.8L270.9 222.9 268.4 224.6 265.7 226.0 263.6 228.1M256.6 224.0L258.8 225.7 261.2 226.9 263.6 228.1M284.5 230.0L282.6 232.1 280.4 233.9 278.3 235.9 276.5 238.1 275.6 241.0M275.6 241.0L273.5 238.9 271.6 236.6 269.4 234.7 266.6 233.5 264.0 232.2M263.6 228.1L264.0 232.2M236.7 261.3L234.2 260.2 231.5 259.5 228.9 258.4 227.0 256.1M236.7 261.3L236.2 264.1 236.1 266.9 236.2 269.7 235.6 272.5M235.6 272.5L233.1 274.6 230.5 276.4 227.5 277.7M227.0 256.1L224.2 256.4 221.4 256.9 218.7 257.5 216.1 258.6 213.4 259.5M224.2 276.9L222.6 274.7 221.0 272.6 219.7 270.1 217.9 268.1 216.5 265.8 215.0 263.5 212.9 261.8M224.2 276.9L227.5 277.7M213.4 259.5L212.9 261.8M249.2 275.6L248.6 278.4 248.1 281.3 247.2 284.0 246.8 286.9 245.7 289.5M232.4 287.4L230.9 285.1 229.4 282.8 228.3 280.3 227.5 277.7M249.2 275.6L249.2 275.6M249.2 275.6L246.5 274.8 243.9 273.9 241.2 273.0 238.5 272.3 235.6 272.5M224.4 236.3L227.3 235.4M230.2 236.9L227.3 235.4M211.1 253.2L212.7 256.2 213.4 259.5M230.2 236.9L231.4 239.2 232.0 241.8 233.6 243.9M233.6 243.9L232.7 246.5 231.3 249.0 229.3 251.1 227.6 253.3 227.0 256.1M188.0 278.8L190.1 277.5 192.3 276.1 194.5 274.9 196.8 273.8 198.8 272.4 200.9 271.0 203.3 270.0 205.2 268.4 207.3 267.0 209.1 265.1 211.1 263.6 212.9 261.8M207.8 294.0L209.8 292.2 211.9 290.6 213.6 288.6 215.4 286.7 217.2 284.7 218.5 282.4 220.5 280.6 222.6 279.0 224.2 276.9M225.7 303.5L226.5 303.1M259.7 717.2L256.8 717.4 253.9 718.0 251.0 718.2M265.8 728.5L264.5 726.2 263.4 723.9 261.8 721.9 260.1 719.9 259.7 717.2M265.8 728.5L264.6 729.5M249.8 730.6L252.8 730.6 255.7 730.1 258.7 729.5 261.7 729.7 264.6 729.5M249.8 730.6L248.2 727.5 247.6 723.9M247.6 723.9L249.7 721.3 251.0 718.2M325.9 750.5L327.6 748.4 329.5 746.3 329.7 746.1M265.2 783.1L265.4 780.4 266.3 777.8 266.4 775.1 267.0 772.5M265.2 783.1L267.4 784.7 268.9 787.1M274.1 786.9L271.5 786.6 268.9 787.1M274.1 786.9L275.3 784.4 276.8 782.1 278.2 779.7 279.2 777.2 280.1 774.5M280.1 774.5L280.0 774.2M280.0 774.2L277.4 772.4 274.3 771.4 271.5 770.1M271.5 770.1L269.0 770.7 267.0 772.5M256.4 771.0L254.5 773.6 252.4 776.0 250.7 778.8M256.4 771.0L259.1 771.1 261.8 771.1 264.4 771.7 267.0 772.5M255.2 783.9L258.5 783.3 261.8 782.5 265.2 783.1M262.2 798.3L263.7 796.1 264.9 793.8 265.7 791.2 267.3 789.1 268.9 787.1M280.3 794.7L279.5 797.6 277.6 799.9M280.3 794.7L278.6 791.8 276.7 789.1 274.1 786.9M286.5 766.7L284.7 769.6 282.6 772.0 280.0 774.2M281.1 751.6L278.8 753.2 276.8 755.2 275.1 757.5 272.7 759.0 270.3 760.4M270.3 760.4L270.3 763.7 270.1 767.0 271.5 770.1M286.6 779.9L289.4 779.6 292.1 779.2 294.9 779.1 297.6 778.8M286.6 779.9L286.7 782.4 286.5 785.0 286.3 787.6 286.4 790.2 287.2 792.7M297.6 778.8L297.5 781.4 298.2 783.8 298.6 785.4M287.2 792.7L290.0 793.6M299.1 776.8L297.6 778.8M280.1 774.5L282.0 776.7 283.8 778.9 286.6 779.9M280.3 794.7L283.8 793.9 287.2 792.7M641.1 395.7L640.2 398.4 638.9 401.1 638.2 403.8 639.0 406.9M641.1 395.7L643.6 396.5 646.1 397.4 648.9 397.1M648.9 397.1L650.6 399.3 652.5 401.4 653.3 404.0 654.2 406.7M639.0 406.9L641.4 408.1 644.1 408.7 646.3 410.3M654.2 406.7L651.6 407.9 649.1 409.4 646.3 410.3M655.9 407.1L654.2 406.7M658.0 409.9L655.9 407.1M652.5 419.7L651.0 419.3 648.3 418.4 645.4 418.8M658.0 409.9L657.7 412.7 657.1 415.4 657.2 416.8M645.4 418.8L645.6 415.9 646.1 413.1 646.3 410.3M542.3 432.9L540.6 433.3M537.6 440.7L538.7 438.2 539.7 435.8 540.6 433.3M537.6 440.7L539.8 442.2 542.1 443.8 543.9 445.9 545.1 447.2M223.8 581.6L226.4 580.9 229.1 580.5 231.5 579.5 234.0 578.4 236.3 577.2M242.5 597.8L242.8 594.9 243.8 592.3 244.9 589.6M236.3 577.2L237.6 579.3 239.4 581.2 241.4 582.8 243.3 584.6 244.4 586.9 244.9 589.6M224.0 558.7L225.7 560.8 227.3 563.1 229.2 565.0 231.3 566.9 232.8 569.1 234.9 571.0 236.7 573.0M236.3 577.2L236.7 573.0M238.9 514.1L239.2 511.6 239.0 509.0 238.3 506.4 239.0 503.8 239.3 501.3 240.0 498.7M238.9 514.1L236.1 514.7 233.2 514.9 230.5 515.7 227.9 516.8 225.1 517.4M225.1 517.4L223.8 515.0 222.1 512.9 220.7 510.5 219.8 507.9M219.8 507.9L220.2 505.2 220.4 502.4 220.5 499.6 221.5 497.0 223.2 494.5M240.0 498.7L237.5 496.9 234.8 495.6 232.4 493.7 229.7 492.5M229.7 492.5L226.6 494.1 223.2 494.5M249.9 524.9L248.3 527.0 246.6 529.1 245.1 531.4 243.2 533.3 241.2 535.2 239.6 537.4 238.2 539.7 236.9 542.1 235.5 544.4M232.0 544.5L235.5 544.4M220.7 526.3L222.0 523.2 223.0 520.0 225.1 517.4M245.7 517.4L246.9 520.0 248.5 522.4 249.9 524.9M245.7 517.4L243.4 516.3 241.2 515.0 238.9 514.1M202.2 504.6L204.8 505.0 207.3 505.1 209.9 505.2 212.5 505.5 215.0 506.1 217.5 506.5 219.8 507.9M213.7 486.6L216.0 488.7 218.0 491.1 220.5 492.9 223.2 494.5M202.0 493.0L204.2 491.5 206.2 489.5 208.2 487.8 210.7 486.8 213.7 486.6M247.0 402.7L244.6 402.0 242.1 401.6 239.5 401.6 237.0 401.4 234.6 400.7 232.1 400.2M247.0 402.7L247.0 405.6 247.0 408.4 246.9 411.2 247.1 414.0 247.6 416.8 247.9 419.6 247.7 422.5M229.5 426.2L232.4 427.0 235.3 427.5 238.2 428.4 241.2 428.7 244.3 428.3M222.0 415.7L223.3 413.4 224.9 411.2 226.8 409.3 228.1 407.0 229.1 404.5 230.8 402.5 232.1 400.2M247.7 422.5L245.7 425.2 244.3 428.3M248.6 401.2L251.2 401.0 254.0 400.9 256.7 401.0 259.3 400.3 262.0 400.1M247.0 402.7L248.6 401.2M272.3 411.6L270.5 409.8 269.1 407.7 267.9 405.3 266.0 403.5 264.2 401.7 262.0 400.1M272.3 411.6L272.3 414.8 271.7 417.9M247.7 422.5L250.4 421.6 253.0 420.9 255.7 420.6 258.4 420.6 261.2 420.5 263.9 420.4 266.6 420.1 269.2 419.2 271.7 417.9M205.8 400.2L207.9 397.7 210.0 395.2 211.3 392.2M232.1 400.2L230.3 398.0 228.4 395.8 227.5 393.0M227.5 393.0L224.8 393.3 222.1 393.9 219.3 394.2 216.6 393.7 214.0 393.3 211.3 392.2M191.3 373.8L193.6 375.0 196.0 376.1 198.4 377.2 201.0 377.6 203.6 378.0 206.1 379.0 208.7 379.6M208.7 379.6L209.7 382.0 210.1 384.5 210.5 387.1 211.1 389.6 211.3 392.2M300.1 366.1L300.0 367.3M293.3 357.1L295.2 359.1 296.7 361.6 298.7 363.6 300.1 366.1M289.6 376.6L291.4 374.4 293.5 372.6 296.1 371.3 298.6 369.9 300.0 367.3M279.2 355.8L282.0 356.2 284.8 356.4 287.6 357.2 290.4 357.1 293.3 357.1M279.2 355.8L277.6 357.9 276.1 360.1 273.7 361.3M289.6 376.6L287.1 375.9 284.7 374.6 282.3 373.7 279.7 373.3 277.1 372.9M273.7 361.3L274.2 364.3 274.9 367.3 276.0 370.1 277.1 372.9M498.2 374.4L495.3 373.3 492.5 371.7 489.3 371.4M498.2 374.4L498.6 376.9 499.4 379.3 500.3 381.6M500.3 381.6L498.6 383.6 496.5 385.3M489.3 371.4L487.8 372.5M487.8 372.5L486.9 375.6 486.7 378.8M496.5 385.3L494.0 383.8 491.3 382.6 489.0 380.6 486.7 378.8M479.0 369.3L482.1 369.9 484.9 371.4 487.8 372.5M473.2 374.4L474.1 377.2 475.3 379.8 476.4 382.5M476.4 382.5L479.4 384.2M486.7 378.8L484.2 380.5 481.6 382.0 479.4 384.2M468.5 399.9L467.4 399.3M473.2 399.3L468.5 399.9M469.4 386.4L471.5 384.9 474.0 383.7 476.4 382.5M473.2 399.3L475.5 397.2 477.4 394.9 479.8 392.9 481.7 390.5M481.7 390.5L480.5 387.4 479.4 384.2M446.2 354.5L448.0 351.2M461.1 353.2L458.6 354.8 456.0 356.3 454.0 358.5 452.3 360.9 450.1 362.8M461.1 353.2L459.3 350.7 456.6 348.9M450.1 362.8L449.8 362.6M456.6 348.9L453.7 349.3 450.8 350.2 448.0 351.2M459.7 380.7L456.5 381.3 453.3 381.3 450.2 381.9M459.7 380.7L461.0 377.4M461.0 377.4L459.1 375.3 457.5 373.1 455.8 370.9 454.2 368.7 452.7 366.4M446.5 376.6L448.7 379.0 450.2 381.9M446.5 376.6L448.4 374.3 449.6 371.6 450.5 368.7 452.3 366.3M452.3 366.3L452.7 366.4M468.4 372.9L465.8 374.2 463.1 375.3 461.0 377.4M460.4 382.2L459.7 380.7M465.9 363.8L463.2 364.1 460.5 364.2 457.8 364.7 455.2 365.2 452.7 366.4M450.1 362.8L452.3 366.3M464.8 353.8L466.0 356.9 467.5 359.9M464.8 353.8L461.1 353.2M478.8 360.4L480.5 358.8M464.8 353.8L466.3 351.3 468.2 349.0M468.2 349.0L470.8 348.9 473.3 348.9 475.8 349.6 478.3 349.9M480.5 358.8L480.1 355.7 480.0 352.6 478.3 349.9M468.2 349.0L468.3 345.6 467.8 342.3M467.8 342.3L468.3 341.5M478.3 349.9L479.5 348.2M352.9 252.6L353.8 253.5M352.9 252.6L353.3 249.5 353.2 247.4M345.1 252.4L347.7 252.3 350.3 252.4 352.9 252.6M334.1 264.0L335.7 261.9 337.4 259.8 339.2 257.9 341.2 256.1 343.1 254.2 345.1 252.4M448.0 351.2L447.6 348.6 447.4 346.0 446.4 343.5M437.6 344.9L439.4 342.8M439.4 342.8L443.0 342.5 446.4 343.5M411.9 362.4L412.7 365.9 412.8 369.5M419.6 359.7L416.9 360.1 414.2 360.8 411.9 362.4M424.0 362.7L422.3 365.4 420.8 368.4 419.1 371.1M419.1 371.1L416.0 369.9 412.8 369.5M402.5 339.5L402.1 336.9 401.7 334.3 400.9 331.8 399.6 329.5M399.6 329.5L402.1 327.8 404.7 326.3 405.3 325.7M408.2 341.2L405.2 340.7 402.5 339.5M409.9 339.9L411.2 336.6 412.0 333.1M412.0 333.1L410.9 330.8 410.1 328.3 409.1 326.0 408.8 325.8M387.8 318.7L385.9 321.0 384.6 323.6 382.8 325.9 381.5 328.5 380.1 331.1M387.8 318.7L389.6 320.6 390.7 322.9 392.0 325.1 393.6 327.1 395.1 329.1M380.1 331.1L382.4 332.5 384.8 333.9 387.2 335.1 389.9 335.6M395.1 329.1L393.1 331.1 391.0 332.9 389.9 335.6M340.6 310.7L341.5 313.3 342.4 315.9 343.4 318.5 345.3 320.7M345.3 320.7L347.6 319.6 349.9 318.5 352.1 317.3 354.7 317.1 357.3 317.2M358.8 305.2L361.1 308.8M361.1 308.8L359.7 311.5 358.0 314.2 357.3 317.2M371.1 309.7L370.9 310.6M361.1 308.8L364.4 309.1 367.7 309.7 370.9 310.6M385.9 315.8L383.2 315.8 380.2 315.2 377.1 315.2 374.1 314.5M370.9 310.6L372.0 312.9 374.1 314.5M327.2 312.8L326.3 315.7 325.6 318.5 325.4 321.5 325.4 324.4M325.4 324.4L328.1 325.1 330.8 325.8 333.5 326.4 336.2 326.9 339.0 326.6 341.8 326.6M345.3 320.7L344.2 324.5M344.2 324.5L341.8 326.6M375.7 332.8L373.5 330.5 371.1 328.4 370.4 325.1M375.7 332.8L374.5 335.4 373.8 338.1M373.8 338.1L371.0 338.3 368.2 338.6 365.5 338.6 362.7 338.6 360.0 338.0 357.4 336.6M370.4 325.1L367.6 324.7 364.8 324.7 362.0 325.5M362.0 325.5L360.6 328.4 358.6 330.8 357.0 333.6M357.0 333.6L357.4 336.6M374.1 314.5L373.4 317.3 373.1 320.1 372.6 322.9 370.4 325.1M387.8 318.0L386.5 316.1M380.1 331.1L375.7 332.8M387.8 318.0L387.8 318.7M357.3 317.2L359.4 319.7 360.8 322.5 362.0 325.5M344.2 324.5L346.3 326.1 348.5 327.5 351.0 328.5 353.4 329.6 355.5 331.2 357.0 333.6M450.2 381.9L448.9 384.2 447.6 386.6 447.0 389.2M458.8 393.9L455.7 394.3 452.6 395.2 449.4 395.1M447.0 389.2L448.4 392.0 449.4 395.1M290.3 384.5L292.9 386.1 295.7 387.6 298.0 389.8M290.3 384.5L287.8 386.4 285.6 388.6 283.3 390.7 281.0 392.7M298.0 389.8L297.5 393.1 296.9 396.4 298.0 399.7M281.0 392.7L281.6 395.2 282.0 397.8 282.4 400.4 283.8 402.7M298.0 399.7L295.5 401.2 293.2 402.9 290.9 404.7M283.8 402.7L287.4 403.3 290.9 404.7M289.6 376.6L289.5 379.2 289.4 381.9 290.3 384.5M300.0 367.3L301.3 369.7 302.8 372.1 304.0 374.6 305.7 376.9 307.2 379.2 309.3 381.1 311.5 383.0M311.5 383.0L309.4 384.4 307.5 386.2 305.1 387.0 302.7 388.0 300.5 389.2 298.0 389.8M268.7 384.3L270.7 382.2 272.1 379.8 273.6 377.4 275.3 375.1 277.1 372.9M269.6 387.2L268.7 384.3M269.6 387.2L271.9 388.3 274.2 389.3 276.6 390.0 279.1 390.9 281.0 392.7M319.2 399.6L319.4 397.6M313.4 383.6L314.6 385.9 315.7 388.1 316.3 390.6 317.6 392.9 318.7 395.1 319.4 397.6M314.2 404.6L316.5 401.9 319.2 399.6M313.4 383.6L311.5 383.0M314.2 404.6L311.6 403.6 308.9 402.8 306.3 401.5 303.7 400.5 300.9 400.1 298.0 399.7M272.3 411.6L274.7 410.0 277.1 408.3 279.7 406.9 282.2 405.5 283.8 402.7M269.6 387.2L268.0 389.2 266.8 391.4 265.6 393.6 264.0 395.5 263.0 397.8 262.0 400.1M296.4 421.8L299.1 421.3 301.8 420.6 304.2 419.3 306.6 417.9 309.1 417.0 311.9 416.6M314.2 404.6L313.7 407.6 313.3 410.6 312.4 413.6 311.9 416.6M296.4 421.8L295.7 419.3 294.7 416.9 293.6 414.6 292.5 412.3 291.6 409.8 291.4 407.2 290.9 404.7M340.1 336.1L340.5 332.9 341.2 329.8 341.8 326.6M357.4 336.6L356.8 337.7M340.1 336.1L342.3 338.5 344.4 341.0 346.7 343.3M346.7 343.3L349.2 341.8 351.6 340.1 354.1 338.7 356.8 337.7M322.0 350.0L319.3 350.4 316.6 350.6 313.9 351.0 311.2 350.3M322.0 350.0L322.7 352.7 323.0 355.6 323.4 358.4 324.6 361.1M324.6 361.1L322.4 362.6 320.0 363.9M320.0 363.9L317.6 363.3 315.1 363.0 312.7 362.5 310.2 362.1 307.7 362.2M307.7 362.2L308.4 359.2 308.7 356.1 309.6 353.1 311.2 350.3M326.4 341.5L324.9 344.3 323.6 347.2 322.0 350.0M339.6 353.1L337.5 351.7 335.1 350.6 333.0 349.2 331.0 347.7 329.4 345.8 327.9 343.6 326.4 341.5M339.6 353.1L337.7 354.8 335.8 356.5 334.2 358.4 332.8 360.6 331.4 362.7M331.4 362.7L327.9 362.3 324.6 361.1M300.1 366.1L302.8 365.2 305.3 363.9 307.7 362.2M313.4 383.6L315.7 382.3 317.3 380.2 319.3 378.4M319.3 378.4L319.1 375.5 319.6 372.6 319.9 369.8 320.3 366.9 320.0 363.9M293.3 357.1L293.9 354.5 294.1 351.8 295.3 349.5 296.9 347.4 297.6 344.8M306.6 343.7L303.6 344.2 300.6 344.9 297.6 344.8M306.6 343.7L307.9 346.0 309.2 348.4 311.2 350.3M326.4 341.4L323.9 340.5 321.3 339.4 318.9 338.1 316.2 337.5 313.5 337.3 310.6 337.7M326.4 341.4L326.8 340.7M326.8 340.7L326.3 338.1 326.4 335.5 325.8 332.9 325.7 330.2 325.2 327.7 324.8 325.1M310.0 333.3L310.6 337.7M310.0 333.3L311.9 331.1 313.9 329.0 316.3 327.3 318.4 325.3M318.4 325.3L321.6 325.1 324.8 325.1M326.4 341.5L326.4 341.4M306.6 343.7L308.7 340.8 310.6 337.7M325.4 324.4L324.8 325.1M340.1 336.1L337.4 336.9 334.8 337.9 332.3 339.4 329.7 340.4 326.8 340.7M305.1 320.1L307.7 319.1 309.9 317.5M305.1 320.1L304.1 322.9 304.0 325.9 303.8 328.8M303.8 328.8L305.7 330.6 307.4 332.5 310.0 333.3M309.9 317.5L312.0 319.5 314.0 321.5 316.1 323.5 318.4 325.3M309.9 317.5L310.5 314.0 311.7 310.7M311.7 310.7L312.4 310.3M325.3 310.7L322.7 310.6 320.1 310.8 317.5 311.3 315.0 311.4 312.4 310.3M317.6 294.6L313.7 297.4M317.6 294.6L316.1 292.0 314.9 289.4 314.1 286.5 312.9 283.9 311.2 281.4M313.7 297.4L310.7 297.5 307.6 297.4 304.5 297.1 301.5 297.0M311.2 281.4L310.6 281.6M310.6 281.6L308.4 283.5 305.8 285.1 303.9 287.3 302.4 290.0 300.4 292.2M301.5 297.0L300.4 292.2M322.0 295.2L317.6 294.6M312.4 310.3L313.0 307.7 313.5 305.2 313.3 302.6 313.4 300.0 313.7 297.4M315.4 275.8L313.6 278.8 311.2 281.4M306.6 261.5L308.9 262.9 311.1 264.6M295.0 276.1L297.6 276.9 300.3 277.7 303.0 278.2 305.7 278.9 308.2 280.2 310.6 281.6M289.8 284.4L290.4 281.6 290.8 278.8M289.8 284.4L291.8 286.1 293.5 288.2 295.4 290.2 297.6 291.5 300.4 292.2M275.2 329.3L277.7 328.8 280.3 328.6 282.8 328.0 285.4 327.8 288.0 327.9 290.6 327.7M275.2 329.3L274.7 332.5 274.6 335.8 273.6 338.8M273.6 338.8L275.5 340.8 277.3 342.8M277.3 342.8L279.9 341.9 282.5 341.4 285.3 341.1 288.0 340.7 290.6 340.0 293.0 338.4M293.0 338.4L292.7 335.0 293.6 331.7M290.6 327.7L293.6 331.7M279.2 355.8L278.4 353.3 277.8 350.7 277.5 348.1 277.2 345.5 277.3 342.8M297.6 344.8L295.6 343.0 294.0 340.9 293.0 338.4M303.8 328.8L301.4 330.0 298.8 330.6 296.2 331.5 293.6 331.7M305.1 320.1L302.4 318.7 299.4 317.8 296.8 316.3 294.0 315.1M311.7 310.7L309.2 309.5 306.7 308.2 304.0 307.2 301.5 306.0M294.0 315.1L295.5 312.5 297.4 310.2 299.4 308.1 301.5 306.0M301.5 297.0L300.3 299.2M300.3 299.2L301.3 302.5 301.5 306.0M285.4 288.2L285.1 290.8 285.1 293.4 285.3 296.0 285.8 298.6 286.2 301.1M289.8 284.4L287.4 286.1 285.4 288.2M300.3 299.2L297.5 299.2 294.5 298.7 291.6 298.8 288.9 300.0 286.2 301.1M698.8 295.7L696.4 297.1 694.1 298.7 691.6 300.0 688.9 300.7 686.4 301.9M698.8 295.7L698.3 292.9 698.4 290.0 698.3 287.2 698.4 284.4M682.8 284.0L680.6 286.3 678.1 288.3M678.1 288.3L679.2 290.7 680.3 293.2 681.4 295.6 682.7 297.9 684.5 299.9 686.4 301.9M716.3 298.7L718.6 299.9 720.4 301.7 722.3 303.4 724.2 305.0M716.3 298.7L713.5 299.0 710.7 299.6 707.9 300.2 705.1 299.9 702.2 299.7M724.2 305.0L722.1 307.1 720.0 309.2 717.8 311.3 715.4 313.0 713.1 314.9M713.1 314.9L710.7 313.8 708.1 313.2 705.6 312.3 703.5 310.7 701.9 308.3M702.2 299.7L702.4 302.6 702.6 305.5 701.9 308.3M707.8 280.9L710.6 281.9 713.5 282.6M698.8 295.7L700.7 297.5 702.2 299.7M713.5 282.6L713.7 285.3 714.1 288.1 714.2 290.8 714.7 293.5 715.6 296.1 716.3 298.7M694.7 314.1L697.2 312.3 699.7 310.5 701.9 308.3M694.7 314.1L692.6 312.4 690.8 310.6 688.7 309.1 686.9 307.3 685.4 305.1M685.4 305.1L686.4 301.9M727.0 287.5L724.8 286.6 722.9 284.5 722.8 284.4M718.9 280.8L718.8 280.8M721.7 276.8L720.8 278.3 719.9 279.5M718.9 280.8L718.8 280.8M745.0 306.5L742.5 305.9 740.0 304.9 737.4 303.9 734.9 303.1 732.2 303.1 729.5 303.3 726.8 303.2M726.8 303.2L727.8 300.6 728.0 300.0M724.3 305.0L724.2 305.0M713.5 282.6L716.1 281.4 718.8 280.8M724.3 305.0L726.8 303.2M735.9 330.5L735.6 329.3 734.6 326.7 733.0 324.5M733.2 324.1L735.9 323.1 737.0 322.7M733.2 324.1L733.0 324.5M724.3 305.0L725.3 307.4 726.4 309.8 727.2 312.4 727.9 315.0 728.8 317.4 730.5 319.6 732.1 321.7 733.2 324.1M711.4 324.4L712.5 321.3 713.1 318.2 713.1 314.9M719.4 327.8L718.8 327.7 716.2 327.0 713.6 326.1 711.4 324.4M726.6 327.5L728.1 326.2 730.5 325.2 733.0 324.5M690.2 365.0L688.0 367.0M690.2 365.0L692.9 364.6M688.0 367.0L688.8 370.2 689.4 372.1M661.0 335.3L658.1 332.4M658.1 332.4L657.5 329.7 656.8 327.0 656.9 324.3 656.8 321.5M656.8 321.5L659.6 321.7 662.5 321.5 665.3 321.1 668.1 320.6 671.0 320.7 673.8 321.7M661.0 335.3L663.6 335.3 666.1 334.8 668.7 334.5 671.3 334.4M671.3 334.4L671.3 331.8 672.0 329.3 672.9 326.8 673.4 324.2 673.8 321.7M656.2 320.7L656.8 321.5M656.2 320.7L657.9 318.4 660.0 316.5 662.1 314.4 663.6 312.1 664.6 309.4 665.7 306.8 666.8 304.1M666.8 304.1L669.3 305.3 671.8 306.6 673.9 308.4 675.8 310.4M675.8 310.4L675.7 313.4 675.8 316.3 676.7 319.2M676.7 319.2L673.8 321.7M694.0 319.5L696.2 320.7 698.6 321.5 701.2 322.2 703.2 323.6 705.1 325.3 706.6 327.6M694.0 319.5L691.5 321.0 688.9 322.3 686.5 324.0M686.5 324.0L686.5 326.9 686.6 329.8M686.6 329.8L688.7 332.1 690.4 334.8M690.4 334.8L693.1 335.1 696.0 334.9 698.7 335.4 701.5 335.6 704.3 336.2M706.6 327.6L705.9 330.5 705.6 333.5 704.3 336.2M694.7 314.1L694.4 316.8 694.0 319.5M711.4 324.4L708.8 325.7 706.6 327.6M675.8 310.4L678.3 309.1 680.8 308.1 683.4 307.1 685.4 305.1M676.7 319.2L679.1 320.5 681.3 322.2 683.5 323.9 686.5 324.0M671.3 334.4L672.9 336.4 675.2 337.5M675.2 337.5L677.7 336.2 680.1 334.9 682.3 333.3 684.5 331.6 686.6 329.8M704.4 336.7L704.3 336.2M187.5 606.1L185.6 608.2 183.3 610.0 181.4 612.3 179.4 614.4M179.4 614.4L177.6 614.3M202.3 615.0L200.3 616.7 198.3 618.5 196.3 620.2 194.0 621.6 192.4 623.8 190.7 625.8M179.4 614.4L181.6 616.0 183.7 617.7 185.2 619.9 187.0 621.9 188.7 624.0 190.7 625.8M248.1 685.3L249.9 683.5 251.8 681.7 253.3 679.5 255.2 677.7 256.9 675.8M248.1 685.3L245.9 683.2 243.6 681.4 241.0 679.8 238.5 678.3M250.6 659.0L248.0 660.6 245.2 661.6 242.3 662.5 239.6 664.0M238.5 678.3L238.7 675.5 238.4 672.6 238.5 669.7 238.9 666.8 239.6 664.0M228.4 692.8L228.8 690.2 229.7 687.8 230.3 685.2 231.4 682.8 231.7 680.2M228.4 692.8L231.1 693.5 233.9 693.7 236.3 695.4M236.3 695.4L238.4 694.0 240.6 692.8 242.3 690.8 243.9 688.8 246.0 687.5 248.1 686.1M248.1 685.3L248.1 686.1M238.5 678.3L234.9 678.7 231.7 680.2M248.1 686.1L249.3 688.5 250.6 690.8 252.1 693.1 253.4 695.3 255.7 697.0M270.8 687.1L270.7 687.4M270.7 687.4L268.8 689.1 267.1 691.2 265.1 692.8 263.0 694.2 260.8 695.4 258.4 696.5 255.7 697.0M251.0 718.2L249.9 715.3 249.2 712.4 247.9 709.7 247.1 706.7M247.1 706.7L249.6 705.2 252.2 703.7 254.5 701.9 255.8 699.1M259.7 717.2L261.1 714.8 262.7 712.4 263.9 709.9 265.7 707.7M255.8 699.1L257.6 701.0 259.8 702.5 262.1 703.8 264.4 705.3 265.7 707.7M317.6 741.7L318.3 739.0 318.7 736.3 318.5 733.5M318.5 733.5L321.4 733.5 324.4 733.4 327.3 732.7 329.0 732.7M307.7 680.3L307.6 682.9 308.0 685.5 308.6 688.1 308.7 690.8 308.8 693.4 308.5 696.1M288.9 680.4L289.1 683.2 288.9 686.0 289.0 688.8 290.7 691.3M290.7 691.3L293.0 692.9 295.4 694.3 297.8 695.9 300.6 696.6 303.2 697.6 305.9 698.5M308.5 696.1L305.9 698.5M328.7 673.6L328.3 676.4 327.7 679.1 327.1 681.8 327.0 684.6 326.7 687.4 326.0 690.1 325.1 692.7 324.4 695.4M308.5 696.1L311.2 695.9 313.8 695.5 316.5 695.3 319.1 695.2 321.8 695.5 324.4 695.4M333.1 703.4L329.9 702.9M324.4 695.4L325.9 698.2 327.2 701.1 329.9 702.9M326.1 718.7L328.0 720.4 328.4 720.7M326.1 718.7L326.5 715.9 326.1 713.2 325.9 710.4 326.4 707.7M329.9 702.9L328.5 705.6 326.4 707.7M189.6 455.5L189.2 458.6 188.4 461.7 187.8 464.7 187.1 467.7M189.6 455.5L187.1 454.0 184.6 452.6 182.2 450.8 179.7 449.3 176.9 448.1M187.1 467.7L184.6 466.5 182.2 465.0 179.6 464.1 176.8 463.7 173.8 463.9M176.9 448.1L174.8 451.2 172.1 453.6M172.1 453.6L172.1 457.2 171.5 460.7M173.8 463.9L171.5 460.7M195.8 438.9L196.9 441.4 198.5 443.6 199.6 446.1 200.9 448.5 202.6 450.6M177.3 445.5L176.9 448.1M202.6 450.6L199.9 451.3 197.0 451.6 194.3 452.1 191.9 453.7 189.6 455.5M172.3 475.2L172.8 472.4 173.2 469.6 173.1 466.7 173.8 463.9M190.7 473.4L188.7 470.7 187.1 467.7M157.9 449.1L160.7 450.0 163.4 451.3 166.3 452.2 169.1 453.1 172.1 453.6M153.5 460.8L153.8 461.0M155.0 461.8L155.8 462.4 157.9 464.4 160.5 465.7M160.5 465.7L163.0 464.0 165.4 462.0 168.4 461.2 171.5 460.7M160.5 465.7L160.0 468.5 159.6 471.4 159.5 474.3 158.9 477.1M161.7 478.5L158.9 477.1M143.8 472.2L146.6 473.4 148.6 473.9M156.0 476.6L157.8 477.5M143.8 472.2L143.0 474.8 141.9 477.2 140.6 479.5 139.9 482.1 139.2 484.7 137.5 486.9M137.5 486.9L138.5 488.0M138.5 488.0L141.2 487.9 143.8 488.3 145.0 488.4M156.6 478.9L157.8 477.5M141.9 466.4L142.5 469.5 143.8 472.2M158.9 477.1L157.8 477.5M126.7 484.5L129.3 485.4 131.9 486.5 134.7 486.7 137.5 486.9M138.5 492.6L138.5 490.8 138.5 488.0M257.9 306.1L260.0 307.8 261.7 310.0 263.8 311.6M265.4 318.2L264.9 314.9 263.8 311.6M244.5 306.9L244.2 309.6 244.5 312.3 244.8 315.0 245.1 317.7 244.3 320.4M244.5 306.9L247.2 306.9 249.9 306.7 252.6 307.1 255.2 306.9 257.9 306.1M265.4 318.2L263.0 319.9 260.5 321.6 258.0 323.3 255.5 324.9M244.3 320.4L247.2 321.2 249.9 322.7 252.7 323.6 255.5 324.9M243.0 305.2L244.5 306.9M223.1 317.1L225.5 317.9 227.8 319.0 230.2 319.9 232.8 320.3 235.3 320.9 237.8 321.5 240.0 323.0M244.3 320.4L242.1 321.8 240.0 323.0M210.9 230.4L211.8 228.0 213.2 225.8 213.8 223.4 214.1 220.8M207.0 216.0L207.3 216.2 209.6 217.7 211.6 219.5 214.1 220.8M227.0 224.4L227.2 227.2 228.0 229.9 228.1 232.6 227.3 235.4M227.0 224.4L224.3 223.2 221.7 221.9 218.9 221.0 216.2 219.9M216.2 219.9L214.1 220.8M241.0 221.0L238.3 220.8 235.6 220.8 232.8 221.1 230.1 220.2M241.0 221.0L241.9 218.2 243.3 215.6 244.5 212.9 245.2 210.0 246.0 207.1M246.0 207.1L244.4 204.8M230.1 220.2L230.1 217.7 229.8 215.2 229.5 212.7 228.8 210.3M228.8 210.3L231.5 209.5 234.0 208.5 236.5 207.4 239.2 206.8 241.9 206.1 244.3 204.7M244.4 204.8L244.3 204.7M230.2 236.9L232.6 235.6 234.8 233.9 237.3 232.9 239.8 231.9 242.2 230.7 244.7 229.7M244.7 229.7L245.0 228.8M245.0 228.8L243.6 226.3 242.3 223.7 241.0 221.0M227.0 224.4L228.6 222.4 230.1 220.2M245.0 228.8L247.3 227.8 249.7 227.1 252.2 226.5 254.6 225.8 256.6 224.0M254.8 211.0L252.0 209.5 249.3 207.6 246.0 207.1M253.8 193.1L251.6 195.2 250.0 197.8 248.7 200.6 247.2 203.2 244.4 204.8M233.3 189.2L235.0 186.7M233.3 189.2L234.7 191.6 236.3 193.8 237.8 196.1 239.1 198.5 240.8 200.6 242.2 202.9 244.3 204.7M251.5 185.1L248.8 185.7 246.0 186.4 243.3 186.4 240.5 186.4 237.8 186.8 235.0 186.7M235.0 186.7L235.1 184.2 235.9 181.7 235.8 179.2M280.4 268.6L279.0 266.4 277.6 264.3 276.1 262.1 274.1 260.4 272.0 258.8M286.6 250.9L284.0 250.0 281.5 249.3M272.0 258.8L274.2 257.2 276.5 255.7 278.8 254.2 280.5 252.0 281.5 249.3M275.6 241.0L275.6 241.6M281.5 249.3L279.8 246.5 277.7 244.1 275.6 241.6M233.6 243.9L236.5 245.1 239.5 246.2 242.3 247.8M236.7 261.3L239.5 259.1 242.9 257.6M242.9 257.6L242.2 254.4 242.1 251.1 242.3 247.8M249.2 275.6L250.3 273.2 251.9 271.0 252.6 268.4M252.6 268.4L251.3 265.8 250.5 263.0 249.1 260.4M242.9 257.6L246.0 259.0 249.1 260.4M244.7 229.7L245.6 232.5 246.9 235.0 248.5 237.4 250.2 239.8 251.2 242.5M242.3 247.8L244.3 246.2 246.4 244.6 248.8 243.5 251.2 242.5M225.5 707.2L226.2 710.1 226.1 713.1 226.4 716.0 226.3 719.0M225.5 707.2L228.3 707.0 231.0 706.7 233.8 706.8 236.6 706.3 239.3 706.1M239.3 706.1L240.0 706.6M240.0 706.6L239.4 709.1 239.2 711.7 238.7 714.1 237.6 716.4 236.6 718.8 235.6 721.1M226.3 719.0L228.8 719.7 231.4 720.2 233.3 722.1M235.6 721.1L233.3 722.1M215.8 705.4L216.4 705.0 218.4 703.4 220.9 702.6M220.9 702.6L223.3 704.8 225.5 707.2M224.4 719.8L226.3 719.0M228.4 692.8L224.8 693.8 221.7 695.7M220.9 702.6L221.7 699.2 221.7 695.7M236.3 695.4L236.6 698.2 237.6 700.8 238.4 703.5 239.3 706.1M247.1 706.7L243.5 706.6 240.0 706.6M255.7 697.0L255.8 699.1M247.6 723.9L244.6 723.0 241.6 722.4 238.5 722.0 235.6 721.1M233.3 722.1L233.0 725.1 232.3 728.0 231.6 731.0 232.1 734.1M232.1 734.1L231.8 734.2M616.4 408.4L618.6 410.1 621.2 411.5 623.1 413.6 624.8 416.0M618.8 405.6L621.0 406.1 623.7 406.0 626.3 405.8 629.0 406.0M629.0 406.0L630.6 408.2M630.6 408.2L628.3 410.5 626.0 412.9 624.8 416.0M617.9 422.0L620.4 421.3 622.9 420.6 624.6 418.4M624.6 418.4L624.8 416.0M655.9 407.1L657.4 404.5 659.4 402.1 661.0 399.5 663.4 397.6M648.9 397.1L651.1 394.3 653.8 392.0M663.4 397.6L661.2 395.8 658.7 394.7 656.1 393.5 653.8 392.0M641.1 395.7L640.9 392.9 640.2 390.1 641.2 387.3M641.1 395.7L641.1 395.7M654.5 383.6L651.8 384.4 649.4 385.8 646.8 386.8 644.1 387.5 641.2 387.3M654.5 383.6L654.6 383.7M653.8 392.0L654.3 389.3 654.3 386.5 654.6 383.7M673.2 409.5L673.2 407.1M673.2 409.5L675.1 409.4M673.2 407.1L675.5 405.1 677.7 402.8 679.3 401.1M671.6 411.9L673.2 409.5M671.6 411.9L668.8 411.9 666.1 411.5 663.4 410.7 660.6 410.7 658.0 409.9M663.4 397.6L666.8 396.2M673.2 407.1L672.1 404.9 671.2 402.5 669.5 400.5 667.9 398.5 666.8 396.2M659.7 382.0L661.5 384.4 663.3 386.7 664.7 389.4 666.3 391.8 667.7 394.4M654.6 383.7L657.0 382.2 659.7 382.0M666.8 396.2L667.7 394.4M544.1 454.6L546.2 456.4M544.1 454.6L545.2 451.9M244.9 589.6L247.5 588.9 249.9 587.5 252.4 586.6 255.0 585.8 257.5 584.8 259.7 583.1M258.9 611.1L260.1 608.4 261.6 605.9 263.5 603.7 265.4 601.5 266.8 599.0 267.9 596.3M259.7 583.1L261.2 585.2 262.9 587.2 264.2 589.5 265.2 591.9 266.0 594.4 267.9 596.3M273.5 620.5L274.6 617.9 275.5 615.4 277.0 612.9 278.5 610.6 279.2 607.9 279.3 605.0 280.0 602.3 281.2 599.8 281.9 597.1M281.9 597.1L281.6 596.5M267.9 596.3L270.7 596.1 273.4 595.8 276.1 595.8 278.9 596.5 281.6 596.5M236.7 573.0L238.7 571.2 240.5 569.1 243.0 567.8 245.1 566.1 247.5 564.7M235.5 544.4L237.9 546.2 240.2 548.3 242.9 549.5 245.9 550.4M247.5 564.7L247.0 561.8 246.5 559.0 246.0 556.1 246.2 553.2 245.9 550.4M513.3 406.7L515.4 405.0 517.5 403.3 519.9 402.2 522.7 401.5 525.3 400.7 526.5 399.2M513.4 412.4L513.7 412.9M513.3 406.7L513.8 409.6 513.4 412.4M531.5 405.6L530.9 407.5 530.0 409.9 529.2 412.4 527.8 414.6 526.0 416.5M513.7 412.9L516.3 413.2 518.8 413.7 521.4 414.0 523.9 414.6 526.0 416.5M539.9 416.6L539.1 417.0 536.6 418.0 534.4 419.6 532.0 420.7 529.7 422.2M526.0 416.5L527.5 419.6 529.7 422.2M540.6 433.3L538.2 431.7 536.1 429.8 533.7 428.3 531.4 426.6 529.6 424.3M529.6 424.3L529.7 422.2M449.4 395.1L448.7 397.6 448.1 400.1 446.1 402.0M446.1 402.0L446.1 402.7M467.0 399.3L464.9 401.2 462.8 403.1 460.8 405.1 458.9 407.2 456.5 408.7M456.5 408.7L453.7 407.6 450.7 406.7 448.3 404.9 446.1 402.7M471.0 418.3L470.4 418.6M471.0 418.3L474.5 418.4 477.9 418.7M470.4 418.6L470.0 421.3 469.9 424.2 468.9 426.8 468.3 429.5 466.5 431.8M477.9 418.7L479.5 421.1 481.5 423.1 483.3 425.2 484.3 428.0M466.5 431.8L469.2 432.9 471.8 434.1 474.6 435.0 477.3 436.1 480.1 436.9M484.3 428.0L483.9 431.1 484.5 434.2M484.5 434.2L482.3 435.7 480.1 436.9M468.5 399.9L468.9 402.5 468.8 405.2 469.2 407.8 469.7 410.4 470.3 413.0 470.3 415.7 471.0 418.3M458.0 416.7L457.3 414.1 456.2 411.5 456.5 408.7M458.0 416.7L460.5 416.8 463.0 417.0 465.6 416.9 468.0 417.4 470.4 418.6M483.5 411.5L481.5 413.8 479.4 416.0 477.9 418.7M482.9 406.7L483.5 411.5M482.9 406.7L480.6 404.7 478.1 403.0 475.9 400.9 473.2 399.3M497.4 420.1L495.2 421.3 492.7 422.2 490.6 423.6 488.4 424.9 486.3 426.3 484.3 428.0M498.0 416.1L497.4 420.1M483.5 411.5L485.9 412.2 488.5 412.3 491.1 411.9 493.5 412.6 495.9 413.4M495.9 413.4L498.0 416.1M495.5 389.0L493.2 390.1 491.1 391.6 489.5 393.7M495.5 389.0L497.4 390.7 499.2 392.7 501.1 394.3 503.2 395.9 505.2 397.5 507.6 398.6M497.1 404.0L499.6 402.5 502.4 401.7 505.1 400.5 507.6 399.0M497.1 404.0L494.9 402.1 492.8 399.9 490.0 398.6M490.0 398.6L489.5 393.7M507.6 399.0L507.6 398.6M496.5 385.3L495.5 389.0M481.7 390.5L484.3 391.5 487.0 392.6 489.5 393.7M506.3 381.8L503.3 381.5 500.3 381.6M512.0 391.0L510.5 393.5 508.9 395.9 507.6 398.6M506.3 381.8L508.0 383.9 510.1 385.8 511.5 388.1 512.0 391.0M498.0 416.1L500.6 415.6 503.2 415.0 505.6 414.1 508.1 413.0 510.7 412.6 513.4 412.4M513.3 406.7L511.3 404.2 508.9 402.0 507.6 399.0M495.9 413.4L495.9 410.2 496.7 407.2 497.1 404.0M482.9 406.7L484.6 404.5 486.4 402.6 488.0 400.3 490.0 398.6M480.5 358.8L484.5 358.7M489.5 349.9L490.2 352.5M490.2 352.5L488.5 354.8 486.5 356.7 484.5 358.7M489.3 371.4L490.6 368.0 491.1 364.4M484.5 358.7L486.6 360.6 488.6 362.8 491.1 364.4M498.2 374.4L499.7 372.3 501.1 370.0 502.3 367.6 504.0 365.6M491.1 364.4L493.4 362.9 495.8 361.5 498.4 360.8 501.1 360.4M504.0 365.6L502.1 363.2 501.1 360.4M506.3 381.8L509.4 378.4M509.4 378.4L508.9 375.6 508.0 372.9 507.0 370.1 507.3 367.2M504.0 365.6L507.3 367.2M490.2 352.5L492.2 354.0 494.2 355.7 496.5 356.8 498.9 357.5 501.4 358.1M501.4 358.1L501.1 360.4M448.9 341.0L449.0 338.2M448.9 341.0L451.4 341.8 453.9 342.5 456.5 342.9M456.7 342.6L456.5 342.9M437.7 333.6L437.8 336.8 438.8 339.7 439.4 342.8M437.7 333.6L440.4 333.4 443.1 333.8 444.1 334.1M446.4 343.5L448.9 341.0M456.6 348.9L456.9 345.9 456.5 342.9M467.8 342.3L464.9 341.8 464.8 341.7M422.6 326.4L422.3 326.7M437.6 326.9L437.4 329.1 435.8 331.6M435.8 331.6L433.4 332.9 430.9 333.9 428.2 334.0M428.2 334.0L424.5 332.9M422.3 326.7L423.1 331.4M424.5 332.9L423.1 331.4M437.7 333.6L435.8 331.6M429.7 345.9L429.0 342.9 428.3 340.0 427.5 337.1 428.2 334.0M418.9 342.3L419.9 339.7 421.0 337.2 422.3 334.7 424.5 332.9M412.0 333.1L414.9 333.1 417.7 333.3 420.5 332.8 423.1 331.4M387.8 318.0L390.6 318.1 391.6 317.9M422.3 326.7L421.9 326.3M399.6 329.5L395.1 329.1M439.0 366.0L438.1 367.8M446.5 376.6L441.8 376.1M441.8 376.1L440.5 373.4 439.5 370.5 438.1 367.8M425.8 362.6L427.9 364.9 430.1 367.1 431.0 370.2M438.1 367.8L435.8 368.8 433.5 369.7 431.0 370.2M419.1 371.1L420.9 373.0 421.7 375.4M431.0 370.2L430.2 372.3M421.7 375.4L424.7 374.7 427.6 374.1 430.2 372.3M441.8 376.1L439.3 377.7 436.8 379.3 435.0 381.7M430.2 372.3L431.0 374.8 431.4 377.6 433.0 379.7 435.0 381.7M431.8 394.8L433.2 392.1 434.1 389.2 435.2 386.4M431.8 394.8L429.1 396.7 426.2 398.2M426.2 398.2L424.1 396.6 422.2 394.6 419.8 393.5M435.2 386.4L434.4 383.7M434.4 383.7L431.6 383.4 428.8 383.5 426.0 383.7 423.2 383.4 420.7 381.8M419.8 393.5L419.2 390.5 418.7 387.5 417.8 384.6M417.8 384.6L420.7 381.8M447.0 389.2L444.2 388.1 441.1 387.8 438.1 387.4 435.2 386.4M446.1 402.0L443.7 400.7 441.3 399.5 439.1 398.0 436.7 397.0 434.3 395.8 431.8 394.8M430.4 412.5L433.2 413.1 436.1 412.8 439.0 412.8M430.4 412.5L428.0 410.9 425.8 409.2M446.1 402.7L443.9 404.9 441.6 407.1 439.7 409.5 439.0 412.8M425.8 409.2L426.4 406.4 426.9 403.7 427.4 401.0 426.2 398.2M435.0 381.7L434.4 383.7M421.7 375.4L421.2 378.6 420.7 381.8M411.6 383.0L411.2 380.4 410.9 377.8 410.3 375.3 408.3 373.3M411.6 383.0L414.8 383.3 417.8 384.6M412.8 369.5L410.8 371.7 408.3 373.3M410.9 421.2L411.8 418.7 412.4 416.2 413.5 413.9 415.9 412.4M410.9 421.2L408.4 420.4 405.8 419.8 403.4 418.9 401.3 417.3 399.2 415.5 397.0 414.0 394.3 413.7M415.9 412.4L414.2 410.4 412.7 408.3 410.8 406.4 408.7 404.8 407.0 402.9 405.8 400.5M394.3 413.7L394.0 410.2 394.4 406.7M394.4 406.7L396.4 405.1 398.6 403.7 400.8 402.4 402.9 400.9 405.6 400.4M405.6 400.4L405.8 400.5M425.8 409.2L423.3 409.9 420.7 410.3 418.4 411.6 415.9 412.4M419.8 393.5L417.4 394.6 414.9 395.4 412.7 396.9 410.3 397.8 408.0 399.1 405.8 400.5M402.4 388.1L404.5 386.4 406.5 384.6 408.7 383.2 411.6 383.0M402.4 388.1L402.8 390.6 403.2 393.1 403.4 395.7 404.6 398.0 405.6 400.4M362.2 350.3L360.8 354.6M356.8 337.7L358.3 340.0 359.2 342.6 360.5 345.0 361.8 347.5 362.2 350.3M346.7 343.3L346.4 346.0 346.4 348.8 345.2 351.3M360.8 354.6L358.2 354.0 355.6 353.5 352.9 353.3 350.2 353.0 347.7 352.1 345.2 351.3M339.6 353.1L342.1 352.8 344.5 352.0M344.5 352.0L345.2 351.3M271.1 295.8L272.7 293.1 274.0 290.2 276.0 287.8M271.1 295.8L268.2 295.5 265.4 295.2 262.6 294.7 259.8 293.7M259.3 293.0L259.8 293.7M259.3 293.0L260.0 290.3 261.3 287.8 261.8 285.0 262.3 282.3M276.0 287.8L274.5 285.4 272.6 283.3 271.2 280.9 269.5 278.7M262.3 282.3L264.9 281.5 267.1 279.9 269.5 278.7M263.8 311.6L265.4 309.2 266.7 306.7 268.8 304.7 271.2 303.1 273.0 300.9M257.9 306.1L258.0 303.6 257.9 301.0 258.0 298.5 259.0 296.1 259.8 293.7M273.0 300.9L272.5 298.2 271.1 295.8M246.6 291.2L249.1 291.8 251.7 292.0 254.3 292.2 256.9 292.2 259.3 293.0M249.2 275.6L251.9 276.8 254.5 278.1 256.9 280.0 259.6 281.0 262.3 282.3M285.4 288.2L282.2 288.6 279.1 288.0 276.0 287.8M270.1 276.7L272.8 275.2 275.7 274.0 278.5 272.6 280.3 269.8M270.1 276.7L269.5 278.7M270.1 276.7L268.7 274.5 267.5 272.3 265.6 270.5 263.6 268.8 262.5 266.5M262.5 266.5L260.0 266.6 257.6 267.4 255.1 267.9 252.6 268.4M277.6 316.2L280.3 316.6 283.1 316.7 285.8 316.8 288.5 317.5 291.2 318.3M277.6 316.2L278.3 313.8 279.0 311.4 280.3 309.1 281.0 306.7 281.1 304.1M281.1 304.1L285.3 302.6M285.3 302.6L286.8 304.6 288.2 306.7 289.5 308.9 290.5 311.3 292.1 313.2 293.8 315.1M291.2 318.3L293.8 315.1M271.0 320.5L273.3 319.2 275.7 318.1 277.6 316.2M271.0 320.5L272.7 323.3 274.2 326.2 275.2 329.3M290.6 327.7L290.6 324.5 291.1 321.4 291.2 318.3M273.0 300.9L275.8 301.7 278.4 302.9 281.1 304.1M271.0 320.5L268.2 319.4 265.4 318.2M286.2 301.1L285.3 302.6M294.0 315.1L293.8 315.1M641.2 387.3L638.7 383.8M638.7 383.8L640.0 381.3 640.8 378.5 641.9 375.8 644.0 373.7M654.5 383.6L652.5 381.3 650.3 379.2 648.8 376.5 646.9 374.2M646.9 374.2L644.0 373.7M674.6 288.9L672.6 291.1 670.6 293.4 669.2 296.1 667.6 298.6 665.3 300.6M674.6 288.9L672.9 287.0 671.4 284.7 669.9 283.6M656.9 292.3L657.2 293.9 658.3 296.5 660.4 298.9M660.4 298.9L662.9 299.6 665.3 300.6M678.1 288.3L674.6 288.9M666.8 304.1L665.3 300.6M648.0 299.1L648.2 299.3 650.0 301.2M650.0 301.2L652.6 300.4 655.2 300.0 657.8 299.3 660.4 298.9M647.5 308.1L649.2 304.8 650.0 301.2M654.1 319.9L653.1 317.3 652.4 314.6 651.2 312.2 649.8 309.9 647.5 308.1M654.1 319.9L656.2 320.7M609.2 321.2L609.4 321.0 611.4 318.8 612.7 316.5M689.9 354.1L689.9 350.9 690.4 347.8M689.9 354.1L692.5 354.9 693.3 355.4M690.4 347.8L692.9 347.3 694.6 346.9M687.5 356.7L688.5 359.5 689.7 362.1 690.2 365.0M687.5 356.7L689.9 354.1M687.0 344.7L690.4 347.8M687.0 344.7L687.5 342.1 687.6 339.4 689.0 337.1 690.4 334.8M275.1 623.0L277.7 622.1 280.5 621.4 283.2 620.5 285.7 619.5 288.1 618.1 290.4 616.4 292.4 614.3M281.9 597.1L284.0 598.8 286.1 600.2 288.4 601.4 291.0 602.0M292.4 614.3L291.7 611.3 291.4 608.2 291.0 605.2 291.0 602.0M212.7 657.8L211.7 660.6 210.7 663.4 209.6 666.1 207.8 668.5M212.7 657.8L215.2 658.4 217.7 658.7 220.2 659.2 222.8 659.4 225.3 659.9 227.9 659.8M207.8 668.5L209.9 670.4 211.9 672.5 214.1 674.2 216.6 675.6 219.5 676.3M227.9 659.8L228.1 660.1M228.1 660.1L227.5 662.8 227.3 665.6 226.7 668.3 225.6 670.8 224.2 673.2 222.3 675.4M219.5 676.3L222.3 675.4M230.0 642.9L233.2 640.0M230.0 642.9L229.2 645.7 228.6 648.4 227.9 651.2 227.1 654.0 227.1 656.8 227.9 659.8M239.6 664.0L236.6 663.3 233.7 662.6 231.0 661.1 228.1 660.1M231.7 680.2L229.4 678.8 227.4 677.1 225.1 675.6 222.3 675.4M214.3 688.6L215.9 690.6 217.6 692.5 219.4 694.4 221.7 695.7M214.3 688.6L215.6 686.2 216.7 683.8 217.9 681.4 219.2 679.1 219.5 676.3M305.5 701.2L303.0 702.2 300.5 703.3 298.0 704.2 295.4 705.0 293.2 706.6 291.2 708.6 289.1 710.3M305.9 698.5L305.5 701.2M290.7 691.3L289.3 693.5 287.9 695.8 285.9 697.5 284.0 699.4 282.3 701.4 281.2 703.8M281.2 703.8L283.2 705.4 285.4 706.8 287.3 708.5 289.1 710.3M270.7 687.4L272.2 689.6 273.7 691.8 275.5 693.9 276.9 696.1 278.0 698.5 278.9 701.1 279.2 703.9M281.2 703.8L279.2 703.9M265.7 707.7L269.3 707.8 272.8 708.2M279.2 703.9L277.2 705.6 275.3 707.4 272.8 708.2M273.9 727.5L271.2 728.2 268.6 729.0 265.8 728.5M273.9 727.5L274.9 726.8M272.8 708.2L273.0 710.9 273.5 713.5 274.2 716.1 275.1 718.7 275.0 721.4 274.9 724.1 274.9 726.8M289.1 710.3L290.3 712.6 291.3 715.0 291.5 717.7M274.9 726.8L275.8 726.9M291.5 717.7L289.3 719.2 287.0 720.4 285.0 722.1 283.0 723.7 280.5 724.7 278.3 726.0 275.8 726.9M274.4 744.6L277.2 746.0 280.0 747.3 281.7 750.0M273.9 727.5L274.4 730.4 275.0 733.2 275.3 736.1 275.7 738.9 275.5 741.8 274.4 744.6M282.5 749.6L283.4 747.2 283.8 744.7 284.7 742.3 285.4 739.9 286.3 737.5 287.3 735.2M287.3 735.2L285.2 733.2 283.4 730.8 281.3 728.9 278.8 727.5 275.8 726.9M326.1 718.7L323.6 720.5 320.9 722.1 318.1 723.4 315.2 724.5M318.5 733.5L316.0 731.7 314.1 729.1M314.1 729.1L315.2 724.5M326.4 707.7L323.8 708.2 321.2 709.0 318.8 710.4 316.4 711.4 313.7 711.9 311.2 712.8M315.2 724.5L314.5 721.5 313.6 718.5 312.9 715.4 311.2 712.8M305.5 701.2L306.1 703.8 306.6 706.6 307.3 709.2 309.2 711.5M291.5 717.7L293.7 718.9 295.5 720.7M295.5 720.7L297.9 719.2 300.2 717.9 302.4 716.1 304.5 714.3 306.7 712.7 309.2 711.5M311.2 712.8L309.2 711.5M356.2 597.2L358.3 595.7 360.3 593.9 362.5 592.4 365.1 592.0 367.7 591.3M356.2 597.2L357.6 599.8 359.1 602.3 360.9 604.7 362.8 607.0 364.0 609.8M364.0 609.8L366.5 608.9 369.0 608.6 371.6 609.1M371.6 609.1L372.3 606.2 373.4 603.4 374.3 600.5 374.6 597.6 373.9 594.5M367.7 591.3L370.9 592.7 373.9 594.5M348.3 595.0L350.9 596.0 353.4 597.0 356.2 597.2M348.3 595.0L349.1 592.3 349.9 589.7 350.3 586.9 351.4 584.3 352.1 581.7M352.1 581.7L354.7 581.1 357.4 581.0 360.0 580.4 362.5 579.3 364.8 578.0M364.8 578.0L365.7 580.6 366.2 583.3 366.4 586.0 367.1 588.7 367.7 591.3M227.5 393.0L228.3 390.1 228.7 387.1 229.5 384.3 230.5 381.5 232.7 379.2M208.7 379.6L211.0 377.8 213.6 376.3 215.6 374.1 217.5 371.9 219.2 369.5M219.2 369.5L221.2 371.5 223.2 373.4 225.6 374.8 228.1 376.0 230.4 377.6 232.7 379.2M195.3 351.0L198.0 351.0M198.0 351.0L199.9 352.7 202.2 354.0 204.6 355.1 206.9 356.3 209.0 357.9 210.9 359.7 212.6 361.8 214.6 363.3 216.9 364.6 219.1 366.0M219.2 369.5L219.1 366.0M340.9 239.3L339.5 241.7 338.4 244.2M328.3 231.1L327.1 233.2 325.5 235.6 324.3 238.1 323.7 240.8 323.9 243.8M338.4 244.2L335.8 244.4 333.1 244.3 330.4 243.9 327.7 244.1 325.1 245.0M325.1 245.0L323.9 243.8M345.1 252.4L343.1 250.6 341.3 248.7 340.0 246.3 338.4 244.2M318.4 243.2L321.1 243.5 323.9 243.8M327.2 257.6L326.9 255.1 327.1 252.5 326.8 249.9 325.8 247.5 325.1 245.0M212.8 206.8L213.7 207.4 216.3 209.2 219.4 209.9M224.8 192.1L224.8 194.1 225.1 196.9 225.9 199.7 226.5 202.6 226.0 205.4 225.4 208.3M225.4 208.3L222.6 209.7 219.4 209.9M216.2 219.9L216.8 217.3 218.0 215.0 219.3 212.7 219.4 209.9M228.8 210.3L225.4 208.3M233.3 189.2L230.5 190.0 228.9 190.4M266.2 258.9L263.7 257.3 261.2 255.8 258.4 255.1 255.7 254.0M266.2 258.9L266.9 258.4M266.9 258.4L267.4 255.8 268.2 253.1 268.1 250.5 266.7 248.0M266.7 248.0L264.1 246.3 261.3 244.9 258.6 243.4 255.4 243.1M255.7 254.0L255.6 251.3 255.7 248.6 255.4 246.0 254.9 243.3M255.4 243.1L254.9 243.3M262.5 266.5L264.2 264.2 265.8 261.8 266.2 258.9M249.1 260.4L251.4 258.3 253.6 256.1 255.7 254.0M272.0 258.8L269.5 258.3 266.9 258.4M275.6 241.6L273.2 243.0 270.7 244.2 268.6 245.9 266.7 248.0M264.0 232.2L262.2 234.3 260.2 236.3 258.3 238.3 256.6 240.5 255.4 243.1M251.2 242.5L254.9 243.3M274.4 744.6L271.4 744.6 268.4 745.1 265.4 745.6 262.3 745.0M270.3 760.4L267.3 759.4 264.6 757.7 261.7 756.3M261.7 756.3L261.8 753.5 261.8 750.6 261.4 747.8 262.3 745.0M264.6 729.5L264.4 732.1 264.1 734.6 263.9 737.3 263.7 739.8 263.3 742.4 262.2 744.9M262.2 744.9L262.3 745.0M214.3 688.6L211.6 689.3 208.8 689.9 208.5 689.8M202.1 670.3L202.9 669.8 205.4 669.2 207.8 668.5M603.3 433.4L604.1 436.0 605.4 438.4 606.5 440.8M606.5 440.8L606.2 440.9M603.2 380.6L606.2 381.4 609.2 381.7 612.2 382.6M602.0 387.2L601.9 386.2 601.5 383.3 603.2 380.6M612.2 382.6L612.0 385.2 611.9 387.1M660.5 343.2L658.8 345.4 657.1 347.4 654.4 348.4M661.0 335.3L660.3 337.9 659.3 340.5 660.5 343.2M658.1 332.4L655.5 333.8 652.8 334.7 649.9 335.2 647.3 336.4 644.7 337.6M644.7 337.6L645.5 340.2 646.0 343.0 647.3 345.5 649.3 347.7M654.4 348.4L651.9 347.9 649.3 347.7M644.6 337.5L644.7 337.6M635.8 342.7L637.7 341.0 639.8 339.4 642.0 338.0 644.6 337.5M637.1 349.3L639.7 350.5 642.3 351.7 645.2 351.9M635.8 342.7L636.2 346.0 637.1 349.3M649.3 347.7L647.5 350.0 645.2 351.9M637.1 349.3L635.6 351.7 633.6 353.8 631.7 356.0M634.6 359.9L631.7 356.0M634.6 359.9L637.2 359.2 639.7 358.3 642.4 358.4 645.1 358.4M645.2 351.9L645.0 355.1 645.1 358.4M641.9 371.2L642.9 368.4 643.5 365.4 645.1 362.8 646.6 360.2M634.0 368.8L636.5 370.1 639.0 371.3 641.9 371.2M634.0 368.8L634.1 365.8 633.9 362.8 634.6 359.9M646.6 360.2L645.1 358.4M614.2 339.5L615.2 341.5 616.3 343.9 618.1 345.7 620.2 347.4M619.9 333.5L620.2 333.5 622.9 334.2 625.6 335.0 628.4 335.4M630.7 340.9L628.9 343.4 627.1 345.9 624.3 347.6M630.7 340.9L629.1 338.3 628.4 335.4M624.3 347.6L620.2 347.4M620.3 322.6L617.7 320.6 615.5 318.2 614.5 317.4M620.3 322.6L620.0 325.4 620.2 328.2 619.8 329.6M635.8 342.7L633.0 342.3 630.7 340.9M629.9 355.6L631.7 356.0M629.9 355.6L628.5 352.6 627.2 349.5 624.3 347.6M621.5 361.2L623.4 359.4 625.1 357.5 627.2 356.2 629.9 355.6M615.1 355.6L617.2 353.0 619.0 350.4 620.2 347.4M615.1 355.6L617.0 357.7 619.4 359.3 621.5 361.2M678.6 393.6L676.0 393.7 673.4 393.4 670.9 392.7M678.6 393.6L680.6 391.2 682.3 388.6 683.1 385.5M670.9 392.7L671.4 390.0 671.6 387.2 672.1 384.5 673.3 381.9M683.1 385.5L681.7 382.9 681.7 382.7M673.3 381.9L675.9 380.4 678.0 378.3M678.0 378.3L681.2 380.1M667.7 394.4L670.9 392.7M681.2 397.4L680.1 395.9 678.6 393.6M684.2 386.4L683.1 385.5M660.4 381.2L659.7 382.0M660.4 381.2L662.9 381.8 665.5 382.7 668.1 382.4 670.7 382.2 673.3 381.9M681.9 367.1L684.9 366.5 688.0 367.0M677.4 376.6L678.7 374.3 680.4 372.2 681.8 370.0 681.9 367.1M677.4 376.6L678.0 378.3M549.9 476.8L549.1 477.8M548.4 465.2L546.0 465.9 543.3 466.5 540.8 467.8 538.3 468.9M547.6 478.4L546.1 477.3 544.0 475.7 541.5 474.8 539.2 473.7M539.2 473.7L538.3 468.9M535.8 456.9L534.6 459.4 534.0 462.1 533.4 464.9M533.4 464.9L535.5 467.3 538.3 468.9M544.1 454.6L541.2 455.0 538.5 455.9 535.8 456.9M259.7 583.1L260.4 581.8M281.6 596.5L281.7 593.6 282.1 590.7 283.5 588.1M283.5 588.1L281.3 586.2 279.1 584.3 276.8 582.4 275.2 579.9M260.4 581.8L263.3 581.1 266.3 580.6 269.3 580.7 272.2 580.1 275.2 579.9M247.5 564.7L249.9 565.5 252.3 566.4 254.7 567.2 257.1 568.3 259.3 569.7M260.4 581.8L259.8 578.8 258.8 575.9 258.4 572.8 259.3 569.7M244.3 428.3L245.5 431.3M278.7 428.5L277.0 430.3 275.2 432.1 273.3 433.7 270.9 434.8 269.2 436.6 267.4 438.5 265.6 440.2 263.4 441.5M271.7 417.9L273.4 419.8 275.2 421.6 276.9 423.6 277.7 426.1 278.7 428.5M245.5 431.3L247.9 432.4 250.4 433.2 252.9 434.0 255.2 435.0 257.4 436.4 259.6 437.8 261.5 439.6 263.4 441.5M213.7 486.6L213.7 483.7 214.5 480.8 214.6 477.9M229.7 492.5L230.7 489.8 231.8 487.1 233.1 484.5 233.9 481.8 234.7 479.0M234.7 479.0L232.0 477.8 229.5 476.4 227.0 474.8 224.7 473.1 221.9 472.2M214.6 477.9L217.3 476.4 219.5 474.2 221.9 472.2M193.3 474.2L195.9 472.9 198.5 471.5 201.3 470.7M214.6 477.9L212.2 477.0 209.7 476.4 207.2 475.7 205.1 474.1 203.3 472.2 201.3 470.7M234.7 479.0L237.2 478.5 239.6 477.4 242.2 476.7M240.0 498.7L242.4 497.7 245.0 496.8 247.3 495.7 249.6 494.3 251.7 492.7 253.4 490.4M253.4 490.4L251.7 488.6 249.8 486.8 247.9 485.1 246.3 483.2 244.6 481.3 243.1 479.2 242.2 476.7M245.7 517.4L247.5 515.5 249.3 513.5 251.5 512.1 253.3 510.3 254.9 508.2 257.1 506.6 259.1 505.0 260.8 503.0M253.4 490.4L256.3 491.0 259.3 491.8M260.8 503.0L260.3 500.2 259.6 497.4 259.6 494.6 259.3 491.8M469.2 464.2L466.1 464.5 462.9 464.6M469.2 464.2L470.7 462.0 472.0 459.5 474.0 457.7 476.3 456.3 478.5 454.6M462.9 464.6L462.6 461.9 461.8 459.2 460.9 456.6 461.2 453.9 462.0 451.1 462.3 448.4 461.9 445.7M478.5 454.6L476.8 452.3 476.0 449.6 475.0 447.0M475.0 447.0L472.4 446.6 469.9 446.0 467.4 445.3 464.9 444.9 462.2 445.2M461.9 445.7L462.2 445.2M482.0 476.2L480.5 476.2M482.0 476.2L483.7 473.9 485.3 471.6 486.5 469.0 488.2 466.7 489.5 464.1 490.9 461.6 491.4 458.7M489.9 457.3L491.4 458.7M489.9 457.3L487.1 456.1 484.3 455.3 481.4 454.9 478.5 454.6M480.5 476.2L478.9 473.9 477.3 471.7 475.3 469.8 473.0 468.2 470.7 466.6 469.2 464.2M480.1 436.9L478.8 439.4 477.5 442.0 476.7 444.7 475.0 447.0M484.5 434.2L486.8 435.2 489.0 436.5 491.0 438.1M491.0 438.1L491.0 440.8 491.1 443.6 490.8 446.3 490.4 449.0 490.3 451.8 489.7 454.5 489.9 457.3M460.3 435.6L461.3 438.7 462.3 441.9 462.2 445.2M466.5 431.8L463.0 433.2 460.3 435.6M542.9 379.9L541.9 379.8M541.5 378.7L541.9 379.8M541.1 385.9L540.7 384.7 539.9 382.1M541.9 379.8L539.9 382.1M608.8 367.8L606.8 369.7 604.8 371.5 602.8 373.4 600.7 375.2M607.3 360.9L608.4 364.2 608.8 367.8M607.3 360.9L604.8 361.1 602.2 360.8 599.7 360.6 597.1 360.2M600.7 375.2L599.4 373.0 597.8 371.0 596.5 368.9 594.8 367.0M597.1 360.2L596.4 363.8 594.8 367.0M514.2 354.8L511.5 354.8 508.8 355.1 506.1 355.3 503.4 355.1M514.2 354.8L516.5 352.3M503.1 352.6L503.4 355.1M501.4 358.1L503.4 355.1M518.9 364.7L521.0 362.5 523.0 360.2 524.8 357.8 526.8 355.5M518.9 364.7L517.7 362.3 516.7 359.7 515.6 357.2 514.2 354.8M523.5 352.6L524.4 353.5 526.8 355.5M523.8 334.0L524.9 332.2 526.5 329.5M524.7 328.2L526.5 329.3M526.5 329.3L526.5 329.5M532.0 326.0L531.3 322.8 530.6 319.6 530.1 316.3M526.1 316.1L530.1 316.3M532.0 326.0L529.3 327.7 526.5 329.3M563.5 359.2L561.1 359.3 558.4 360.2 556.4 360.7M551.0 349.9L551.8 352.8 553.1 355.5 554.4 358.1 555.0 359.4M564.4 357.7L565.5 354.4M551.0 349.9L553.5 348.5 555.9 346.9 558.6 345.9 561.2 344.7M561.2 344.7L562.4 347.1 564.0 349.3 565.5 351.5 565.5 354.4M376.3 420.8L375.6 418.2 374.8 415.7 374.5 413.0 373.8 410.4 373.1 407.9M373.1 407.9L375.2 406.4 377.1 404.8 379.3 403.6 381.4 402.2 383.4 400.7M394.4 406.7L391.9 405.3 389.7 403.5 387.8 401.3M391.0 418.1L388.0 418.3 385.1 419.0 382.2 419.8 379.2 420.1 376.3 420.8M391.0 418.1L393.1 416.3 394.3 413.7M387.8 401.3L383.4 400.7M408.5 351.2L406.7 353.2 405.1 355.3M411.9 362.4L409.8 360.9 408.1 359.1 405.9 357.7M405.1 355.3L405.9 357.7M362.2 350.3L364.3 348.5 366.7 347.1 369.2 346.0 371.8 345.1 374.1 343.6M373.8 338.1L374.8 342.4M374.8 342.4L374.1 343.6M337.8 385.3L337.8 385.3M337.8 385.3L335.7 383.8 334.0 381.9 332.7 379.6 330.8 377.9M337.8 385.3L339.6 382.8 341.2 380.1 343.6 377.9 345.4 375.4M330.8 377.9L330.9 374.8 331.6 371.8 332.6 368.8 333.1 365.8M345.4 375.4L344.2 372.1 342.5 368.9M342.5 368.9L339.3 368.1 336.0 367.7 333.1 365.8M319.3 378.4L322.1 378.0 325.0 377.8 327.9 378.1 330.8 377.9M319.4 397.6L321.6 395.9 323.7 394.1 325.9 392.4 327.9 390.5 330.0 388.7 332.7 387.6 335.4 386.8 337.8 385.3M331.4 362.7L333.1 365.8M347.8 363.0L350.6 363.5 353.2 364.3 355.6 365.6M347.8 363.0L345.8 364.7 344.1 366.8 342.5 368.9M355.1 375.6L355.4 373.1 355.9 370.7 356.2 368.1 355.6 365.6M355.1 375.6L351.9 375.5 348.6 375.2 345.4 375.4M347.8 363.0L346.7 360.3 345.4 357.7 344.7 354.9 344.5 352.0M480.5 476.2L477.9 477.8 475.5 479.8 473.2 481.8 471.1 484.0M461.0 465.7L462.9 464.6M461.0 465.7L461.5 468.5 461.9 471.2 462.0 474.0 461.4 476.7M471.1 484.0L468.9 481.9 466.9 479.5 464.6 477.5 461.4 476.7M461.4 476.7L459.6 478.7 457.9 480.8 455.7 482.2 453.6 483.8 451.7 485.6M450.0 464.1L448.6 466.2 447.3 468.4 446.5 470.8 445.1 472.9 444.5 475.4 443.2 477.5 442.2 479.8M461.0 465.7L458.3 465.2 455.6 464.5 452.8 464.3 450.0 464.1M442.2 479.8L444.7 481.1 446.8 483.0 449.0 484.8 451.7 485.6M489.2 488.2L486.9 490.1 484.9 492.2 482.8 494.3 480.7 496.4 477.8 497.3M488.1 481.3L488.7 484.7 489.2 488.2M488.1 481.3L485.8 479.9 483.4 478.7 482.0 476.2M471.1 484.0L470.6 487.1 470.2 490.1M477.8 497.3L475.9 495.5 473.7 494.0 471.5 492.5 470.2 490.1M451.7 485.6L452.9 488.2 454.2 490.7 454.7 493.5M454.7 493.5L458.2 495.0M470.2 490.1L467.7 490.8 465.3 491.8 463.1 493.2 460.6 494.0 458.2 495.0M681.9 367.1L679.9 363.9M687.5 356.7L683.1 357.1M683.1 357.1L681.9 359.3 681.1 361.7 679.9 363.9M670.8 347.6L672.9 350.5 674.7 353.6M670.8 347.6L672.3 344.9 673.5 341.9 675.9 339.8M675.9 339.8L678.2 341.6 680.7 343.1 683.1 344.8M683.1 344.8L681.1 347.3 679.0 349.8 678.6 353.2M678.6 353.2L674.7 353.6M660.5 343.2L663.2 345.7 666.2 347.8M675.2 337.5L675.9 339.8M666.2 347.8L670.8 347.6M687.0 344.7L683.1 344.8M683.1 357.1L680.8 355.2 678.6 353.2M674.7 353.6L672.6 356.6 670.9 359.9M666.2 347.8L665.4 350.8 664.0 353.5 663.6 356.6M663.6 356.6L665.8 358.2 668.3 359.3 670.9 359.9M654.4 348.4L655.3 350.8 656.8 353.0 657.8 355.4 658.1 358.0M663.6 356.6L660.9 357.6 658.1 358.0M677.4 376.6L675.0 375.0 672.7 373.1 670.6 371.2 668.3 369.5M679.9 363.9L677.2 362.8 674.4 362.3 671.5 362.0M668.3 369.5L669.2 366.9 670.5 364.6 671.5 362.0M671.5 362.0L670.9 359.9M634.9 311.5L634.3 311.3M634.9 311.5L635.9 314.2 637.4 316.6 639.0 318.9 640.0 321.6 641.3 324.1M628.4 315.4L627.7 316.5 626.6 318.8 625.5 321.0M625.5 321.0L627.6 322.7 629.4 324.8 631.5 326.5 633.1 328.7M633.1 328.7L636.4 328.3 639.6 327.4M639.6 327.4L641.3 324.1M647.5 308.1L645.1 309.1 642.8 310.5 640.4 311.6 637.8 312.0 634.9 311.5M654.1 319.9L651.6 321.0 649.2 322.4 646.7 323.3 644.0 323.6 641.3 324.1M620.3 322.6L622.9 321.8 625.5 321.0M628.4 335.4L630.3 333.4 631.7 331.0 633.1 328.7M644.6 337.5L643.7 334.8 642.0 332.5 640.5 330.1 639.6 327.4M299.9 617.6L302.0 616.1 303.8 614.3 305.4 612.2 307.1 610.2 308.8 608.3 311.2 607.0M299.9 617.6L300.4 620.1 300.4 622.8 300.6 625.4 301.3 627.9 302.8 630.2M308.9 634.3L306.1 631.9 302.8 630.2M308.9 634.3L311.1 632.3 313.1 630.3 314.5 627.7 316.0 625.2 317.8 623.0 320.4 621.4M320.4 621.4L319.9 618.8 319.8 616.1 319.0 613.6 317.5 611.3 316.4 608.9M316.4 608.9L313.6 608.3 311.2 607.0M292.4 614.3L295.0 615.3 297.4 616.6 299.9 617.6M291.0 602.0L293.3 601.0 295.7 600.0 298.0 599.0 300.7 598.8 303.1 598.0 305.5 597.1M305.5 597.1L307.0 599.5 308.8 601.8 310.7 604.0 311.2 607.0M282.1 634.4L284.6 633.5 287.1 632.5 289.6 631.6 292.1 630.8 294.7 630.3 297.4 630.3 300.2 630.5 302.8 630.2M312.0 644.2L311.3 641.7 310.8 639.1 310.1 636.7 308.9 634.3M328.8 623.3L330.2 625.7 331.3 628.1 332.8 630.4 334.6 632.4 335.5 634.8M328.8 623.3L325.9 623.3 323.2 622.3 320.4 621.4M329.5 643.4L332.0 641.6 334.4 639.8 334.7 639.5M339.5 603.8L336.8 603.6 334.2 603.1 331.7 602.1 329.1 601.4M339.5 603.8L340.2 607.1 341.1 610.3M328.8 623.3L330.9 621.7 332.6 619.8 334.0 617.7 335.4 615.4 337.4 613.8 339.0 611.8 341.1 610.3M329.1 601.4L326.5 602.8 323.6 603.8 320.8 604.8 318.4 606.5 316.4 608.9M329.1 601.4L327.7 599.1 326.1 596.8 325.1 594.2 324.0 591.8 323.1 589.2 322.6 586.4M345.6 596.3L343.7 598.9 342.0 601.7 339.5 603.8M345.6 596.3L343.8 594.3 341.9 592.2 340.3 590.0 338.7 587.7 337.5 585.2 335.9 583.0 333.7 581.2M322.6 586.4L325.2 584.7 327.7 582.7 330.6 581.8 333.7 581.2M305.5 597.1L305.3 594.2 306.4 591.5M292.5 582.2L290.0 583.3 287.6 584.5 285.5 586.2 283.5 588.1M292.5 582.2L295.2 582.9 297.9 584.0 300.8 584.3M300.8 584.3L302.3 587.0 303.8 589.6 306.4 591.5M322.6 586.4L320.6 585.6M306.4 591.5L308.6 590.4 311.1 589.5 313.6 588.9 316.1 588.1 318.5 587.1 320.6 585.6M212.7 657.8L211.5 655.2 210.2 652.7M196.4 655.0L196.9 653.6 197.6 651.1M197.6 651.1L200.1 651.4 202.6 652.0 205.2 652.1 207.7 652.1 210.2 652.7M230.0 642.9L227.4 642.8 224.8 643.2 222.1 643.5 219.5 643.7 216.9 643.7 214.3 642.6M210.2 652.7L211.7 650.4 212.4 647.7 213.1 645.1 214.3 642.6M212.0 630.4L211.6 633.2 210.1 635.6M214.3 642.6L212.8 640.3 211.0 638.2 210.1 635.6M311.6 729.6L309.0 728.5 306.4 727.5 303.7 726.7 301.3 725.3 298.8 724.0 296.2 722.8M311.6 729.6L309.9 732.0 307.7 733.8 305.5 735.7 303.1 737.3 301.5 739.8M301.5 739.8L300.1 739.7M300.1 739.7L297.6 737.7 295.0 735.8 293.0 733.3M293.0 733.3L293.6 730.6 294.9 728.1 295.5 725.5 296.2 722.8M314.1 729.1L311.6 729.6M295.5 720.7L296.2 722.8M307.4 747.4L305.4 744.9 303.8 742.0 301.5 739.8M291.2 750.5L292.8 748.1 294.3 745.8 295.8 743.4 297.7 741.4 300.1 739.7M287.3 735.2L290.2 734.4 293.0 733.3M366.6 575.4L364.8 578.0M366.6 575.4L366.5 572.1 365.9 569.0M352.1 581.7L350.7 579.6 349.1 577.7 347.9 575.4 346.7 573.1 345.1 571.2 342.6 569.9M365.9 569.0L364.7 566.7 363.1 564.7 361.7 562.5 359.7 560.7M342.6 569.9L345.0 568.5 347.1 566.5 349.7 565.5 352.2 564.4 354.8 563.3 357.2 562.0 359.7 560.7M345.6 596.3L348.3 595.0M333.7 581.2L335.3 578.4 337.1 575.7 337.6 572.4M337.6 572.4L341.6 569.7M342.6 569.9L341.6 569.7M337.9 558.1L339.3 560.9 340.1 563.8 340.9 566.8 341.6 569.7M337.6 572.4L335.2 571.3 332.6 570.8 330.0 570.4 327.5 569.8 325.0 568.8 322.5 568.2M337.9 558.1L335.7 556.4 333.2 555.2 330.9 553.7 328.4 552.5 325.8 551.5M325.8 551.5L325.3 554.3 324.4 557.0 324.3 559.9 323.6 562.6 322.7 565.4 322.5 568.2M320.6 585.6L319.5 582.9 318.5 580.2 318.2 577.2 317.7 574.4 317.2 571.5M322.5 568.2L319.9 569.9 317.2 571.5M300.8 584.3L302.4 582.0 303.5 579.5 304.9 577.1 306.2 574.6 307.1 571.9M307.1 571.9L310.0 571.3 312.6 569.9M312.6 569.9L317.2 571.5M350.7 619.3L349.4 621.5 349.1 621.9M350.7 619.3L355.3 619.3M355.3 619.3L356.8 621.2M341.1 610.3L343.3 611.8 345.4 613.4 347.0 615.5 348.8 617.5 350.7 619.3M364.0 609.8L362.1 611.5 359.8 612.9 357.9 614.7 356.4 616.7 355.3 619.3M371.8 609.4L371.6 609.1M248.6 401.2L248.0 398.3 247.8 395.4 247.4 392.5 247.1 389.5 248.3 386.6M268.7 384.3L266.6 382.8 264.2 381.7 261.9 380.7 259.5 379.8 257.2 378.5M248.3 386.6L250.8 384.9 253.0 382.8 254.8 380.4 257.2 378.5M232.7 379.2L234.2 378.8M248.3 386.6L245.8 385.5 243.4 384.4 241.3 382.7 239.2 380.8 237.0 379.3 234.2 378.8M198.0 351.0L200.0 349.4 202.1 347.9 204.3 346.5 206.8 345.6 209.3 344.8 211.9 344.1 214.2 343.0 216.2 341.4 218.0 339.3M219.1 366.0L221.0 363.7 223.1 361.5 224.9 359.2 226.8 356.9 228.6 354.6M228.6 354.6L226.9 352.5 225.0 350.6 223.4 348.4 222.2 346.0 221.0 343.7 219.4 341.5 218.0 339.3M215.8 323.9L216.9 326.8 218.0 329.7 219.0 332.6 219.0 335.8M240.0 323.0L239.0 325.8 237.6 328.4 237.1 331.3 237.1 334.3M237.1 334.3L234.5 334.4 231.9 334.9 229.3 335.0 226.7 335.2 224.2 336.0 221.6 336.4 219.0 335.8M219.0 335.8L218.0 339.3M236.7 746.9L237.0 746.9 239.8 747.5 242.4 748.9M242.4 748.9L241.0 751.2 239.8 753.5 239.1 755.0M242.7 766.8L242.8 766.4 243.4 763.9M241.1 761.5L243.4 763.9M256.4 771.0L255.5 767.8 254.5 764.6 254.0 761.3M243.4 763.9L246.2 763.7 249.0 763.8 251.7 763.3 254.0 761.3M261.7 756.3L259.5 758.0 257.3 759.8 254.5 760.4M254.0 761.3L254.5 760.4M606.5 440.8L609.7 442.2M609.7 442.2L609.8 443.3M609.7 442.2L611.9 440.6 613.3 440.2M651.7 428.6L652.8 430.6M651.7 428.6L652.9 426.9M671.6 411.9L671.9 414.4M671.9 414.4L671.0 417.0 670.9 417.3M627.1 435.0L628.2 436.9M626.8 432.1L627.7 430.9 629.6 428.9 631.1 426.6 631.3 423.6M628.2 436.9L631.1 436.6 634.0 435.8 636.9 435.7 639.8 437.1M631.3 423.6L634.5 423.4 637.7 422.9M639.8 437.1L640.6 436.0M640.6 436.0L640.5 433.2 640.9 430.5 641.4 427.8M641.4 427.8L639.7 423.7M639.7 423.7L637.7 422.9M627.5 438.0L628.2 436.9M624.6 418.4L626.9 420.1 628.9 422.1 631.3 423.6M640.7 447.2L638.7 448.6M640.7 447.2L640.9 444.6 640.5 442.1 640.0 439.6 639.8 437.1M638.7 448.6L635.9 448.1 633.0 448.0 630.3 447.3 629.1 447.0M630.6 408.2L634.9 408.9M634.9 408.9L635.9 411.6 637.3 414.3 638.1 417.0 637.9 419.9 637.7 422.9M651.5 438.1L648.9 438.1 646.0 438.1 643.2 437.5 640.6 436.0M651.7 428.6L649.1 428.8 646.5 429.2 643.9 429.1 641.4 427.8M645.4 418.8L643.6 420.6 642.1 422.7 639.7 423.7M639.0 406.9L634.9 408.9M671.9 414.4L672.3 414.8M612.2 382.6L615.5 381.4M600.4 377.5L600.7 375.2M603.2 380.6L600.4 377.5M608.8 367.8L611.0 369.2 613.5 369.9 616.0 370.7M615.5 381.4L615.2 378.7 615.1 376.0 615.8 373.3 616.0 370.7M634.0 368.8L631.9 370.5 629.3 371.6M621.5 361.2L622.1 364.5 621.7 367.8M629.3 371.6L626.6 370.7 623.9 369.8 621.7 367.8M610.2 356.2L615.1 355.6M610.2 356.2L608.2 358.2 607.3 360.9M616.0 370.7L618.7 369.0 621.7 367.8M539.2 473.7L537.4 476.4 535.3 478.8 535.3 478.9M533.4 464.9L530.7 465.5M530.7 465.5L529.0 467.9 527.0 470.0 525.3 472.5 524.5 473.1M528.8 477.9L527.6 476.8 525.1 475.8 525.1 475.8M513.7 412.9L513.2 415.4 513.1 418.0 512.7 420.6 512.7 423.2 512.4 425.8 511.9 428.4M529.6 424.3L527.6 426.3 525.4 428.0 523.0 429.7 521.4 432.1M511.9 428.4L514.4 429.2 516.8 429.9 519.3 430.6 521.4 432.1M249.9 524.9L252.2 526.0 254.7 526.6 257.0 527.6 259.4 528.4M245.9 550.4L248.4 549.5 251.0 549.0 253.6 548.3 256.1 547.6 258.7 546.7 261.3 546.4M261.3 546.4L261.1 543.9 261.1 541.3 260.7 538.7 260.0 536.2 259.4 533.6 259.0 531.1 259.4 528.4M307.1 571.9L305.0 570.4 302.8 568.9 300.5 567.6 298.2 566.2M292.5 582.2L291.6 579.3 290.4 576.4 289.9 573.4 289.8 570.3M289.8 570.3L292.5 568.7 295.0 566.8 298.2 566.2M235.2 454.5L233.2 456.4 231.1 458.1 229.2 460.2 227.1 461.9 225.1 463.9 222.4 464.9M235.2 454.5L233.1 453.0 231.0 451.3 229.0 449.6 226.7 448.2 224.4 446.9 222.1 445.5 220.0 443.8 218.4 441.5M222.4 464.9L220.3 463.5 218.4 462.0 216.3 460.5 214.4 458.9 212.1 457.7 210.2 456.2 208.5 454.3 206.5 452.7M218.4 441.5L216.3 443.2 214.0 444.7 212.2 446.7 210.2 448.5 208.1 450.2 206.5 452.5M206.5 452.5L206.5 452.7M242.2 476.7L242.9 474.3 243.1 471.7 243.7 469.2 244.3 466.7 245.5 464.5 247.5 462.5M238.5 454.3L241.1 456.0 243.9 457.4 246.1 459.4 247.5 462.5M221.9 472.2L221.8 468.5 222.4 464.9M238.5 454.3L235.2 454.5M238.5 454.3L239.5 451.8 240.5 449.3 240.9 446.6 242.0 444.2 243.0 441.7 243.8 439.2 244.8 436.7 245.1 434.0 245.5 431.3M218.9 438.7L218.4 441.5M201.3 470.7L202.1 468.1 203.2 465.6 204.4 463.2 205.7 460.8 206.3 458.2 206.8 455.6 206.5 452.7M202.6 450.6L206.5 452.5M263.4 441.5L264.2 444.2 264.9 447.0 264.5 449.9M247.5 462.5L251.1 462.5 254.6 461.8M264.5 449.9L263.0 452.0 261.7 454.3 259.9 456.1 258.4 458.2 256.6 460.1 254.6 461.8M259.3 491.8L260.4 490.9M260.4 490.9L260.9 488.3 261.1 485.5 262.2 483.1 263.8 480.8 265.3 478.5 265.9 475.9 265.9 473.1M254.6 461.8L256.6 463.6 258.3 465.6 260.0 467.7 262.3 469.2 264.1 471.1 265.9 473.1M286.0 430.7L286.0 433.3 286.1 436.0 285.8 438.7 285.3 441.3 285.4 444.0 284.8 446.6 283.8 449.1 283.0 451.7 282.5 454.3 282.8 457.1M286.0 430.7L288.7 430.5 291.1 429.5M291.1 429.5L293.4 431.1 295.7 432.7 297.7 434.6 300.0 436.2 301.9 438.2 303.3 440.7M282.8 457.1L285.3 460.8M285.3 460.8L287.6 459.4 289.8 457.9 292.1 456.4 294.5 455.3 296.7 453.7 299.1 452.4 301.3 450.9 303.5 449.4M303.3 440.7L303.3 443.6 304.0 446.5 303.5 449.4M264.5 449.9L267.2 450.8 269.8 451.8 272.5 452.5 275.3 453.2 277.8 454.5 280.4 455.5 282.8 457.1M278.7 428.5L281.0 429.7 283.6 430.0 286.0 430.7M296.4 421.8L294.3 424.1 292.4 426.6 291.1 429.5M317.1 435.1L317.0 432.5 316.3 429.9 316.5 427.3 316.5 424.7 317.0 422.0M317.1 435.1L314.4 436.4 311.8 437.9 309.1 439.3 306.3 440.1 303.3 440.7M311.9 416.6L313.6 418.4 315.4 420.2 317.0 422.0M265.9 473.1L268.4 472.8 271.0 473.0 273.6 473.0 276.1 472.6 278.4 471.5 280.9 470.9 283.2 469.8 285.6 468.9M285.6 468.9L285.5 466.2 285.4 463.5 285.3 460.8M339.8 452.0L341.0 454.5 342.0 457.0 342.7 459.7 343.3 462.5 344.7 464.9M344.7 464.9L342.6 466.5 340.2 467.9 338.2 469.7 336.1 471.3 334.4 473.4 333.3 476.0M328.3 447.8L331.4 448.4 334.2 449.5 337.2 450.2 339.8 452.0M328.3 447.8L326.5 449.9 324.6 452.2 323.0 454.6M323.0 454.6L324.1 457.0 325.1 459.4 326.1 461.9 327.1 464.4 328.5 466.6 329.9 468.9 331.3 471.1 332.3 473.6 333.3 476.0M327.5 442.7L327.3 445.3 328.3 447.8M317.1 435.1L318.9 437.0 320.8 438.9 323.1 440.0 325.4 441.2 327.5 442.7M303.5 449.4L305.8 450.7 308.2 451.8 309.9 453.8 311.6 455.6 313.2 457.7M323.0 454.6L320.4 454.9 318.1 456.0 315.6 456.5 313.2 457.7M352.7 465.5L350.0 465.7 347.3 465.4 344.7 464.9M353.5 442.3L355.8 444.2 358.3 445.6 361.0 446.9M353.5 442.3L351.2 443.9 349.0 445.6 346.9 447.5 344.7 449.2 342.5 450.9 339.8 452.0M352.7 465.5L354.7 463.5 357.1 461.8 359.2 459.8 360.8 457.4 361.7 454.5M361.7 454.5L361.0 452.0 360.6 449.5 361.0 446.9M319.2 399.6L321.7 400.7 324.5 401.3 327.0 402.6 329.2 404.4 331.7 405.6 334.1 407.1M344.0 392.1L342.2 389.6 340.1 387.3 337.8 385.3M344.0 392.1L343.3 395.0 342.8 397.9 343.1 401.0M334.1 407.1L336.6 405.9 339.1 404.7 341.4 403.3 343.1 401.0M317.0 422.0L319.7 421.9 322.3 421.3 324.9 421.1 327.5 420.7 330.1 420.3 332.7 420.5 335.4 420.6M334.1 407.1L334.4 409.8 334.5 412.5 334.8 415.2 335.5 417.9 335.4 420.6M440.5 429.1L441.5 426.8 442.5 424.5 443.1 422.0 443.8 419.6M440.5 429.1L441.8 431.6 442.6 434.3 444.3 436.5M444.3 436.5L446.7 435.9 449.0 434.7 451.5 434.4 454.0 433.8 456.5 433.5M456.5 433.5L455.7 430.9 454.9 428.4 454.7 425.7 454.4 423.0 454.2 420.3M443.8 419.6L446.4 420.2 449.0 420.2 451.6 419.9 454.2 420.3M439.0 412.8L440.7 415.0 442.6 417.0 443.8 419.6M427.6 428.3L427.8 425.6 428.3 423.0 428.9 420.4 429.0 417.7 429.3 415.1 430.4 412.5M427.6 428.3L430.2 428.0 432.8 427.3 435.4 427.5 438.0 427.9 440.5 429.1M460.3 435.6L456.5 433.5M458.0 416.7L456.4 418.8 454.2 420.3M461.9 445.7L459.0 447.0 456.2 448.1 453.2 448.8 450.3 449.8M444.3 436.5L443.5 438.3M450.3 449.8L449.1 447.4 447.7 445.1 445.9 443.1 444.3 441.0 443.5 438.3M450.0 464.1L448.0 461.7 446.1 459.2M450.3 449.8L449.6 452.3 448.3 454.6 446.9 456.7 446.1 459.2M442.2 479.8L440.4 480.2M454.7 493.5L452.2 495.3 449.6 496.7 446.9 498.1 444.5 499.9 442.9 502.7M441.4 502.6L442.9 502.7M441.4 502.6L440.2 499.9 439.1 497.2 437.4 494.9 436.3 492.2 434.6 489.8 432.8 487.5M432.8 487.5L434.8 485.7 436.7 483.9 438.8 482.3 440.4 480.2M518.9 364.7L518.9 364.8M526.8 355.5L529.3 355.6M529.4 355.7L529.3 355.6M527.6 366.9L524.9 366.2 522.0 365.1 518.9 364.8M507.3 367.2L510.0 366.6 512.7 366.7 515.4 366.0 518.1 365.7M518.1 365.7L518.9 364.8M509.4 378.4L512.5 378.1 515.6 378.0 518.6 377.1M518.1 365.7L518.6 368.6 519.3 371.4 519.1 374.2 518.6 377.1M530.1 316.3L533.5 313.6M532.7 310.3L532.7 310.4 533.5 313.6M532.0 326.0L534.4 326.5M534.4 326.5L536.0 324.4 538.1 322.6 540.6 321.3 542.4 319.4M542.4 319.4L542.3 315.9M533.5 313.6L536.5 314.0 539.5 314.4 542.3 315.9M526.5 329.5L527.7 332.4 529.4 335.0 531.3 337.4 532.1 340.5M526.5 342.9L531.2 342.0M532.1 340.5L531.2 342.0M529.3 355.6L530.7 353.0 531.9 350.4 534.1 348.3M531.2 342.0L533.0 345.0 534.1 348.3M542.1 354.6L542.3 353.8 542.4 351.2M534.1 348.3L536.7 349.7 539.4 351.0 542.4 351.2M551.0 349.9L546.6 348.2M542.4 351.2L544.3 349.4 546.6 348.2M408.3 373.3L405.5 372.6 402.7 372.2 400.0 371.6M405.9 357.7L404.8 360.4 404.1 363.3 402.8 366.0 401.1 368.4 399.7 371.0M400.0 371.6L399.7 371.0M390.0 361.0L392.0 358.8 394.0 356.7 396.4 355.2 399.2 354.1M390.0 361.0L387.8 359.3 385.7 357.6 384.7 354.8M384.7 354.8L384.4 352.0 384.0 349.1 385.4 346.3M399.2 354.1L398.1 351.4 397.3 348.7 395.7 346.3 393.6 344.2M385.4 346.3L388.3 344.7 391.2 343.4M393.6 344.2L391.2 343.4M399.7 371.0L397.1 369.4 394.1 368.2 391.8 366.1 389.7 363.7M389.7 363.7L390.0 361.0M405.1 355.3L402.0 355.1 399.2 354.1M402.5 339.5L400.2 340.5 397.7 341.2 395.5 342.5 393.6 344.2M389.9 335.6L390.0 338.3 390.2 340.9 391.2 343.4M374.8 342.4L377.4 343.6 379.8 345.1 382.5 346.1 385.4 346.3M376.9 388.6L378.6 390.8 379.7 393.4 381.0 395.8 382.5 398.1 383.4 400.7M373.1 407.9L370.9 406.6 368.7 405.2 366.2 404.5 363.8 403.6M363.8 403.6L364.1 401.1 364.2 398.5 363.4 396.0 363.3 393.4 363.3 390.9M376.9 388.6L373.0 386.4M373.0 386.4L370.3 387.1 367.6 387.4 365.1 388.5 363.3 390.9M344.0 392.1L346.4 391.1 348.6 389.7 350.9 388.6 353.4 388.0 356.0 387.7 358.7 388.1M355.1 375.6L356.2 376.8M356.2 376.8L356.9 379.6 357.5 382.4 358.2 385.2 358.7 388.1M355.6 409.5L353.4 408.2 351.3 406.8 349.6 404.9 347.4 403.7 345.4 402.1 343.1 401.0M363.8 403.6L361.9 405.4 360.2 407.2 358.1 408.7 355.6 409.5M363.3 390.9L361.1 389.2 358.7 388.1M360.8 354.6L361.2 355.5M355.6 365.6L358.6 363.7 360.8 361.0M361.2 355.5L361.1 358.2 360.8 361.0M374.1 343.6L374.5 346.1 375.0 348.7 375.0 351.3 374.6 353.9 374.7 356.5M361.2 355.5L363.9 355.5 366.6 355.5 369.3 355.6 372.0 356.0 374.7 356.5M384.7 354.8L381.7 356.1 378.6 356.6 375.4 357.3M374.7 356.5L375.4 357.3M406.2 477.3L403.3 477.0 400.4 476.4 397.5 476.6 394.6 476.6 391.7 476.9 388.8 476.5M406.2 477.3L408.1 480.3M408.1 480.3L406.8 482.5 405.0 484.3 403.4 486.3 401.3 487.9 399.6 489.7M399.6 489.7L396.6 488.9 393.5 488.5 390.8 486.8M390.8 486.8L390.5 484.2 390.7 481.5 390.5 478.8 388.8 476.5M496.7 494.2L496.1 496.8 495.9 499.4 496.1 502.1 496.0 504.3M489.2 488.2L491.9 490.0 494.6 491.7 496.7 494.2M477.8 497.3L478.6 500.4 478.4 503.6M478.4 503.6L481.2 504.2 483.9 505.3 486.6 506.6 489.4 507.2 492.3 507.5 494.3 507.4M337.9 558.1L339.8 555.9 342.0 554.1 343.9 551.8 345.8 549.7 348.3 548.1M359.7 560.7L359.8 559.7M359.8 559.7L358.6 557.3 357.8 554.6 356.5 552.2 354.7 550.2 352.2 548.6M348.3 548.1L352.2 548.6M348.3 548.1L346.7 545.8 345.1 543.5 343.0 541.6 340.7 539.9 339.2 537.5M352.2 548.6L354.3 546.5 356.4 544.3 358.1 541.9 359.3 539.1M359.3 539.1L358.7 536.0 357.8 533.1M357.8 533.1L354.6 532.0 351.4 530.9 348.9 528.5M348.9 528.5L347.2 530.6 345.8 533.0 343.9 534.9 341.9 536.6 339.2 537.5M325.8 551.4L325.8 551.5M325.8 551.4L327.3 549.4 329.3 547.7 330.7 545.5 331.7 543.0 333.5 541.1 335.5 539.4 337.1 537.4M337.1 537.4L339.2 537.5M654.1 368.6L655.4 365.5 655.5 362.2M654.1 368.6L656.0 370.6 657.9 372.4 660.1 374.1 661.3 376.6M661.3 376.6L663.5 374.2 666.0 372.2 667.9 369.6M667.9 369.6L665.5 368.1 662.8 366.9 660.0 366.0 657.8 364.2 655.8 362.0M655.5 362.2L655.8 362.0M646.6 360.2L649.6 360.8 652.7 360.9 655.5 362.2M646.9 374.2L649.6 372.7 652.2 371.2 654.1 368.6M641.9 371.2L644.0 373.7M660.4 381.2L661.3 376.6M668.3 369.5L667.9 369.6M658.1 358.0L655.8 362.0M196.7 637.1L196.4 639.6 195.8 642.1 195.7 644.7 195.1 647.2M196.7 637.1L195.3 634.9 193.6 633.1 192.0 631.1 190.1 629.5M195.1 647.2L192.8 647.8M190.1 629.5L187.6 630.5 184.8 631.2 184.6 631.3M210.1 635.6L207.5 636.2 204.8 637.0 202.1 637.0 199.4 637.0 196.7 637.1M197.6 651.1L195.1 647.2M190.7 625.8L190.1 629.5M373.9 594.5L376.8 593.8 379.4 592.4M366.6 575.4L369.2 575.6 371.7 576.1 374.1 576.9 376.6 577.2 379.2 577.4 381.7 577.8 383.9 579.2M379.4 592.4L380.2 589.8 381.0 587.1 381.7 584.4 382.7 581.8 383.9 579.2M379.4 592.4L381.5 594.2 383.6 595.8 386.1 597.0 387.7 598.2M273.7 361.3L270.2 361.3 266.7 360.6M257.2 378.5L256.1 373.9M266.7 360.6L265.3 363.1 263.5 365.3 261.5 367.3 259.9 369.7 258.2 371.9 256.1 373.9M234.2 378.8L235.5 376.3 237.2 374.2 238.6 371.8 239.9 369.3 241.7 367.2 244.1 365.6M256.1 373.9L253.5 372.5 250.7 371.4 248.3 369.8 246.1 367.8 244.1 365.6M242.5 748.9L246.7 749.5M242.5 748.9L242.1 745.8 242.2 742.7 242.0 739.6 241.8 736.6M246.7 749.5L248.4 747.5 250.6 746.2 252.8 744.9 254.7 743.2M254.7 743.2L253.5 741.0 252.3 738.8 251.6 736.3 250.4 734.1 249.4 731.8M249.4 731.8L247.0 733.7 244.4 735.2 241.8 736.6M242.4 748.9L242.5 748.9M254.5 760.4L252.9 758.2 250.9 756.3 249.6 754.0 248.4 751.5 246.7 749.5M232.1 734.1L235.2 735.5 238.4 736.3 241.8 736.6M262.2 744.9L259.6 744.9 257.1 744.3 254.7 743.2M249.8 730.6L249.4 731.8M620.3 383.7L623.3 383.1 626.2 382.3 628.9 380.8M620.3 383.7L619.9 386.5 619.9 386.5M625.3 395.5L625.8 395.7 628.3 396.3M630.8 382.5L631.1 385.1 631.5 387.8 631.5 390.4 630.7 392.9 629.6 395.4M630.8 382.5L628.9 380.8M628.3 396.3L629.6 395.4M615.5 381.4L617.9 382.5 620.3 383.7M629.3 371.6L628.6 374.6 627.7 377.6 628.9 380.8M629.0 406.0L628.9 402.8 629.1 399.5 628.3 396.3M641.1 395.7L638.2 395.3 635.4 395.4 632.5 395.9 629.6 395.4M638.7 383.8L636.1 383.2 633.4 383.3 630.8 382.5M561.2 344.7L561.9 342.8M565.5 354.4L567.9 353.3 570.5 352.6 572.9 351.5 575.3 350.4M572.3 342.5L575.0 342.7M575.0 342.7L575.0 345.3 574.5 347.9 575.3 350.4M575.0 342.7L575.7 341.9M488.1 481.3L490.7 480.2 493.0 478.6 495.7 477.9 498.3 476.9 500.9 475.8M496.7 494.2L497.2 494.1M500.9 475.8L501.9 478.1 502.5 480.6 502.6 481.2M522.3 437.1L520.5 439.7 518.8 442.5 516.4 444.6M522.3 437.1L524.6 439.1 527.3 440.5 530.0 441.9 532.7 443.4M516.4 444.6L518.3 446.4 520.4 447.9 522.3 449.6 522.8 452.5M522.8 452.5L525.5 451.5 528.1 450.1 531.0 449.7M532.7 443.4L531.7 446.5 531.0 449.7M521.4 432.1L522.4 434.5 522.3 437.1M537.6 440.7L534.9 441.7 532.7 443.4M507.3 446.1L510.4 445.9 513.4 445.2 516.4 444.6M506.8 447.9L507.3 446.1M514.6 460.9L513.4 458.6 512.2 456.5 511.2 454.1 509.8 452.0 508.1 450.0 506.8 447.9M514.6 460.9L517.3 459.0 520.5 458.3M520.5 458.3L521.5 455.3 522.8 452.5M535.8 456.9L534.3 454.4 532.7 452.0 531.0 449.7M530.7 465.5L528.5 464.3 526.6 462.7 524.9 460.7 522.6 459.6 520.5 458.3M491.2 438.0L493.4 439.3 495.4 441.0 497.4 442.7 499.8 443.6 502.1 444.7 504.4 445.7 507.2 445.9M491.2 438.0L493.8 436.4 496.2 434.8 498.3 432.7 500.5 430.6 503.0 429.0M507.2 445.9L507.0 443.3 507.2 440.7 506.9 438.1 507.1 435.5 507.2 432.9 507.7 430.3M503.0 429.0L507.7 430.3M491.0 438.1L491.2 438.0M493.6 459.1L491.4 458.7M493.6 459.1L496.1 457.5 498.9 456.3 501.3 454.7 503.4 452.8 505.2 450.5 506.8 447.9M507.3 446.1L507.2 445.9M497.4 420.1L499.2 422.1 500.8 424.2 502.4 426.2 503.0 429.0M511.9 428.4L507.7 430.3M266.8 549.9L269.0 548.4 271.0 546.6 273.3 545.3 275.8 544.6 278.4 543.9M266.8 549.9L266.8 552.6 267.2 555.2 267.9 557.8 268.3 560.5M278.4 543.9L280.8 545.5 283.2 546.9 285.1 549.0 287.0 551.1 288.7 553.3M268.3 560.5L270.8 561.3 273.0 562.4 275.0 564.0 277.3 564.9 279.4 566.4M288.7 553.3L287.8 556.0 286.4 558.4 285.6 561.1 284.8 563.8 282.7 565.9M279.4 566.4L282.7 565.9M259.3 569.7L261.0 567.7 262.3 565.5 263.8 563.3 265.9 561.7 268.3 560.5M261.3 546.4L263.9 548.4 266.8 549.9M275.2 579.9L276.4 577.3 276.8 574.5 277.1 571.6 278.0 568.9 279.4 566.4M289.8 570.3L287.3 569.2 284.9 567.6 282.7 565.9M275.6 516.4L277.7 514.6 280.1 513.1 282.3 511.3 284.4 509.3 286.9 507.9M275.6 516.4L274.4 520.8M274.4 520.8L275.6 523.1 276.7 525.4 278.1 527.5 279.1 529.8 281.0 531.7 282.6 533.7M297.5 514.4L295.1 512.3 292.4 510.9 289.8 509.1 286.9 507.9M297.5 514.4L298.0 517.1 298.5 519.7 298.9 522.4 299.7 525.0 300.0 527.7 299.9 530.4 299.9 533.1M282.6 533.7L285.4 534.0 288.2 534.1 291.0 533.9 293.8 533.7 296.6 533.8 299.4 534.0M299.9 533.1L299.4 534.0M260.8 503.0L263.0 504.8 265.1 506.7 267.3 508.6 269.4 510.5 271.3 512.7 273.5 514.4 275.6 516.4M259.4 528.4L261.9 527.1 264.2 525.5 266.7 524.2 269.3 523.1 271.8 522.0 274.4 520.8M278.4 543.9L279.4 541.3 280.0 538.6 281.2 536.1 282.6 533.7M322.5 523.2L321.6 524.1M322.5 523.2L320.3 521.7 318.6 519.9 316.5 518.4 314.2 517.1 312.5 515.1 310.6 513.5 309.1 511.3M309.1 511.3L306.2 512.1 303.4 513.2 300.4 513.7 297.5 514.4M321.6 524.1L319.3 525.4 316.9 526.3 314.4 527.1 311.8 527.7 309.2 528.3 306.6 528.7 304.4 530.3 302.1 531.6 299.9 533.1M320.3 549.3L318.3 551.1 316.0 552.4 313.5 553.5 311.6 555.2 310.2 557.7M320.3 549.3L318.3 546.2M318.3 546.2L315.9 545.2 313.5 544.3 310.9 543.8 308.6 542.5 306.3 541.2 303.7 540.7 301.3 539.7M310.2 557.7L307.8 556.8 305.3 555.8 302.8 555.1 300.1 555.4M301.3 539.7L300.2 542.1 299.1 544.3 298.6 546.9 298.0 549.3 297.4 551.8M300.1 555.4L297.4 551.8M325.8 551.4L323.2 549.8 320.3 549.3M312.6 569.9L312.2 566.8 312.2 563.6 312.1 560.5 310.2 557.7M321.6 524.1L321.5 526.9 321.7 529.8 321.0 532.5 320.8 535.3 320.6 538.1 319.8 540.8 319.2 543.5 318.3 546.2M299.4 534.0L300.2 536.9 301.3 539.7M298.2 566.2L298.8 563.5 299.5 560.9 299.8 558.1 300.1 555.4M288.7 553.3L291.6 553.1 294.5 552.1 297.4 551.8M260.4 490.9L263.0 490.9 265.5 491.0 268.1 491.4 270.6 492.1 273.2 492.7 275.7 492.8 278.3 492.6 280.9 492.3 283.4 491.5M286.9 507.9L286.9 504.7 287.0 501.4 288.0 498.2M283.4 491.5L285.0 493.7 286.2 496.2 288.0 498.2M285.6 468.9L286.4 470.0M283.4 491.5L284.1 488.8 285.1 486.2 285.8 483.6 285.7 480.9 285.2 478.1 285.3 475.4 285.8 472.7 286.4 470.0M313.2 457.7L312.8 460.3 311.9 462.7 310.8 465.1 310.3 467.7 309.8 470.3 309.3 472.9 307.9 475.2M286.4 470.0L289.2 470.4 291.9 470.7 294.6 471.5 297.1 472.6 299.9 473.0 302.5 474.0 305.2 474.6 307.9 475.2M338.7 429.1L337.8 426.2 338.1 423.3M338.7 429.1L340.9 430.7 342.8 432.7 345.0 434.5 347.0 436.3 349.3 437.9 352.2 438.5M338.1 423.3L340.4 422.2 342.6 420.9 345.1 420.2 347.6 419.7 349.9 418.6 352.0 417.1 354.4 416.2M352.2 438.5L353.5 436.1 354.6 433.5 356.0 431.0 357.2 428.5 358.5 426.0 360.5 423.9M360.5 423.9L358.6 421.3 357.0 418.3 354.4 416.2M327.5 442.7L329.0 440.7 330.6 438.7 331.7 436.4 332.8 434.0 334.7 432.4 336.7 430.7 338.7 429.1M335.4 420.6L338.1 423.3M353.5 442.3L352.2 438.5M355.6 409.5L355.1 412.9 354.4 416.2M373.4 426.5L372.5 429.3 371.9 432.1 370.8 434.7 369.7 437.4 368.7 440.0 368.3 442.9M373.4 426.5L373.3 425.9M361.0 446.9L363.2 445.2 365.7 444.0 368.3 442.9M373.3 425.9L370.7 425.8 368.1 425.8 365.6 424.9 363.1 423.8 360.5 423.9M376.3 420.8L375.2 423.6 373.3 425.9M408.2 480.3L410.0 482.6 412.1 484.7 413.6 487.1 414.5 490.0 415.2 492.9 417.0 495.2M408.2 480.3L410.6 479.8 413.1 479.1 415.6 478.7 418.0 478.3 420.2 476.7M420.2 476.7L422.0 479.1 424.3 481.0 426.4 483.1 428.0 485.6 430.1 487.7M430.1 487.7L427.7 489.7 425.4 491.8 423.3 494.1 420.8 496.0M420.8 496.0L417.0 495.2M408.1 480.3L408.2 480.3M405.5 469.6L406.1 472.1 406.9 474.7 406.2 477.3M408.5 465.1L406.5 467.0 405.5 469.6M417.4 463.1L418.9 466.0 420.1 469.1 422.7 471.2M422.7 471.2L421.5 474.0 420.2 476.7M408.5 465.1L411.4 464.3 414.5 464.1 417.4 463.1M440.4 480.2L438.2 478.1 435.7 476.3 433.8 474.0 432.5 471.2 430.8 468.7M422.7 471.2L425.5 470.4 428.0 469.2 430.8 468.7M432.8 487.5L430.1 487.7M434.5 507.7L437.1 506.5 439.4 504.7 441.4 502.6M434.5 507.7L431.2 508.0 428.0 507.9 425.0 506.8M425.0 506.8L423.6 504.2 422.6 501.5 421.7 498.7 420.8 496.0M519.0 377.5L521.9 377.1 524.7 376.7 527.5 377.6M519.0 377.5L519.3 380.4 519.3 383.3 519.6 386.3 519.1 389.2M527.5 377.6L529.0 380.7 530.9 383.4M530.9 383.4L529.8 385.7 529.0 388.2 528.6 389.5M526.6 392.6L526.5 392.6M519.1 389.2L521.8 389.8 524.3 390.9 526.5 392.6M530.7 372.2L530.7 372.3 529.4 375.1 527.5 377.6M518.6 377.1L519.0 377.5M512.0 391.0L515.7 390.6 519.1 389.2M539.9 382.1L536.9 382.5 534.0 383.4 530.9 383.4M526.5 392.7L526.5 392.6M542.3 315.9L543.1 315.0M542.4 319.4L543.4 320.6M543.5 332.4L542.6 330.7M546.1 339.1L545.8 339.7M545.8 339.7L542.9 340.1 540.1 339.7 537.2 339.1 534.4 339.2M534.4 339.2L535.0 336.0 535.9 332.9 537.1 329.9M537.1 329.9L539.8 330.8 542.6 330.7M544.1 328.1L542.6 330.7M546.6 348.2L546.0 345.4 545.6 342.6 545.8 339.7M532.1 340.5L534.4 339.2M534.4 326.5L537.1 329.9M397.9 375.7L394.9 376.8 392.1 378.2 388.9 378.8M397.9 375.7L398.7 378.1 399.9 380.4 400.6 382.8 401.0 385.4 401.8 387.8M401.8 387.8L398.8 388.2 395.6 388.0 392.7 389.0M392.7 389.0L390.4 387.0 388.4 384.7M388.4 384.7L388.1 381.7 388.9 378.8M402.4 388.1L401.8 387.8M400.0 371.6L397.9 375.7M387.8 401.3L389.1 399.0 390.0 396.5 391.4 394.2 392.0 391.6 392.7 389.0M376.9 388.6L379.7 387.3 382.5 386.0 385.2 384.8 388.4 384.7M384.3 374.3L384.1 370.9 385.1 367.6M384.3 374.3L381.7 375.5 379.2 376.6 376.6 377.6 374.1 378.9M385.1 367.6L382.6 366.7 380.2 365.8 377.6 365.4 375.3 364.3M374.1 378.9L372.3 376.7 370.5 374.5 369.7 371.7M375.3 364.3L372.3 366.1 370.0 368.7M369.7 371.7L370.0 368.7M389.7 363.7L387.6 365.9 385.1 367.6M388.9 378.8L386.5 376.6 384.3 374.3M373.0 386.4L373.3 383.9 374.1 381.5 374.1 378.9M375.4 357.3L375.7 360.8 375.3 364.3M356.2 376.8L358.9 375.7 361.7 374.8 364.2 373.3 366.8 372.2 369.7 371.7M360.8 361.0L363.4 362.5 366.0 364.1 368.2 366.2 370.0 368.7M446.1 459.2L443.0 458.1 439.8 458.0M443.5 438.3L441.2 439.5 438.7 440.5 436.5 441.8 434.7 443.8M439.8 458.0L438.7 455.2 438.2 452.2 437.4 449.3 435.8 446.6 434.7 443.8M430.8 468.7L431.5 466.0 432.4 463.5 433.6 461.0M439.8 458.0L436.5 459.2 433.6 461.0M417.4 463.1L418.4 460.8 419.7 458.6 420.7 456.3 421.1 453.7M433.6 461.0L431.3 459.2 428.9 457.5 426.2 456.5 423.4 455.6 421.1 453.7M404.6 452.8L404.9 452.3M404.9 452.3L407.5 452.7 410.2 453.3 412.9 453.3 415.7 453.0 418.4 452.8 421.0 453.6M408.5 465.1L407.8 462.6 407.0 460.2 406.2 457.7 405.6 455.2 404.6 452.8M421.0 453.6L421.1 453.7M386.2 436.0L387.0 438.7 387.1 441.5 387.0 444.3M386.2 436.0L388.2 434.3 389.9 432.3 391.7 430.4 393.9 429.1M393.9 429.1L396.3 430.5 398.8 431.5 401.3 432.5 404.0 433.0M387.0 444.3L387.2 444.4M387.2 444.4L389.9 444.3 392.7 444.8 395.4 444.6 398.1 444.5 400.8 444.2 403.4 442.8M404.0 433.0L405.1 436.5 405.0 440.2M403.4 442.8L405.0 440.2M368.3 442.9L370.8 443.4 373.2 444.1 375.5 445.4 377.9 446.2 380.2 447.2M373.4 426.5L375.6 428.1 377.5 430.0 379.3 432.0 381.5 433.5 384.0 434.6 386.2 436.0M380.2 447.2L383.4 445.3 387.0 444.3M391.0 418.1L392.1 420.7 393.1 423.4 393.9 426.1 393.9 429.1M410.9 421.2L411.2 423.2M411.2 423.2L409.4 425.6 408.0 428.3 406.5 431.0 404.0 433.0M393.1 458.8L391.9 456.5 390.8 454.1 390.2 451.5 389.8 448.9 388.6 446.6 387.2 444.4M404.6 452.8L402.2 453.8 399.7 454.7 397.3 455.6 395.1 457.1 393.1 458.8M404.9 452.3L404.8 449.1 404.2 446.0 403.4 442.8M400.4 499.9L403.5 500.6 406.6 501.6M400.4 499.9L398.2 501.2 396.2 502.8 393.9 504.0M406.6 501.6L408.0 504.0 408.9 506.7 409.2 509.5 410.7 511.9M393.9 504.0L394.0 507.2 393.7 510.3M393.7 510.3L395.7 512.3 397.5 514.4 399.6 516.2 401.3 518.4 402.5 521.1M410.7 511.9L408.8 514.4 407.1 516.9 405.1 519.3 402.5 521.1M399.6 489.7L400.1 492.2 400.3 494.8 400.6 497.3 400.4 499.9M417.0 495.2L414.7 497.2 412.2 499.1 409.7 500.8 406.6 501.6M381.0 495.6L382.8 493.6 384.7 491.7 386.6 490.0 388.6 488.3 390.8 486.8M382.0 498.2L381.0 495.6M382.0 498.2L384.2 499.8 386.6 500.9 389.2 501.5 391.7 502.5 393.9 504.0M420.3 512.9L421.9 510.9 423.2 508.7 425.0 506.8M420.3 512.9L417.0 513.1 413.8 513.4 410.7 511.9M422.6 522.5L419.9 523.9 417.2 525.5 414.4 526.7 411.4 527.7M402.5 522.5L404.9 523.4 407.3 524.5 409.5 525.9 411.4 527.7M420.3 512.9L421.3 516.0 421.8 519.3 422.6 522.5M402.5 522.5L402.5 521.1M380.1 562.1L380.7 558.6 380.9 555.1M365.9 569.0L368.3 568.0 370.8 567.0 373.3 566.3 375.9 565.5 378.2 564.3 380.1 562.1M359.8 559.7L362.2 558.4 364.4 557.0 366.8 555.7 368.8 554.0 370.3 551.5M380.9 555.1L378.1 554.5 375.6 553.1 373.2 551.6 370.3 551.5M359.3 539.1L361.6 540.3 364.0 541.4 366.5 542.2 369.1 542.2M370.3 551.5L369.7 548.5 368.9 545.4 369.1 542.2M374.8 537.7L371.9 539.9 369.1 542.2M380.9 555.1L384.5 552.3M374.8 537.7L377.8 538.8 380.4 540.6 383.3 542.0M383.3 542.0L383.5 544.6 384.0 547.2 384.0 549.8 384.5 552.3M367.2 524.2L368.9 526.4 371.1 528.0 373.0 529.9 374.9 531.7M367.2 524.2L367.4 521.0 367.3 517.8M367.3 517.8L368.5 515.5 370.2 513.6M374.9 531.7L377.4 529.8 380.0 528.1 382.6 526.6 385.7 526.0M373.7 512.7L376.1 513.8 378.6 514.7 381.0 515.8 383.0 517.6M373.7 512.7L370.2 513.6M385.7 526.0L385.0 523.1 384.1 520.3 383.0 517.6M357.8 533.1L359.5 531.1 361.3 529.2 363.5 527.8 365.4 526.0 367.2 524.2M374.8 537.7L374.7 534.7 374.9 531.7M394.0 533.4L392.1 535.4 390.2 537.4 388.0 539.1 385.9 540.8 383.3 542.0M393.9 530.7L391.4 528.8 388.6 527.4 385.7 526.0M393.9 530.7L394.0 533.4M393.7 510.3L391.3 511.4 389.0 512.6 387.0 514.3 385.0 516.0 383.0 517.6M382.0 498.2L380.6 500.6 379.4 503.1 378.6 505.8 377.0 508.1 375.5 510.4 373.7 512.7M393.9 530.7L395.8 528.4 398.1 526.5 400.6 524.9 402.5 522.5M348.9 528.5L348.3 525.6 347.9 522.6 347.5 519.6M367.3 517.8L364.6 517.3 361.9 516.4 359.3 515.7 356.6 515.8 353.8 516.2 351.1 516.8M351.1 516.8L347.5 519.6M396.4 583.6L395.2 581.6 393.1 579.9 391.3 577.9 389.8 575.9M412.7 572.5L410.9 572.2 408.3 571.7 405.9 570.8 403.3 570.4 400.8 569.9 398.4 568.9M398.4 568.9L396.1 570.4 393.8 572.0 391.5 573.5 389.8 575.7M389.8 575.7L389.8 575.9M383.9 579.2L386.9 577.6 389.8 575.9M398.1 554.0L395.4 553.5 392.7 553.2 390.0 552.6 387.3 552.2 384.5 552.3M398.1 554.0L398.0 556.9 398.0 559.9 397.8 562.9 398.2 565.9 398.4 568.9M380.1 562.1L382.0 564.2 383.9 566.3 386.0 568.2 387.5 570.5 388.5 573.2 389.8 575.7M474.4 508.5L475.2 511.2 476.0 514.0 476.7 516.7 476.4 519.6M474.4 508.5L471.5 507.8 468.6 507.4 465.7 506.8 462.7 507.4M462.7 507.4L460.6 509.8M460.6 509.8L460.3 512.6 460.1 515.4 460.4 518.3 460.7 521.1 460.5 523.9M476.4 519.6L474.1 521.0 471.9 522.8 469.3 523.8 466.7 524.6 464.3 526.1M464.3 526.1L460.5 523.9M478.4 503.6L476.7 506.2 474.4 508.5M479.2 521.2L478.7 520.9 476.4 519.6M458.2 495.0L458.8 497.6 459.6 500.1 460.6 502.6 461.4 505.1 462.7 507.4M442.9 502.7L444.3 504.8 445.7 507.0 447.6 508.7 449.0 510.8M449.0 510.8L451.9 510.6 454.8 510.4 457.7 510.3 460.6 509.8M464.5 527.6L464.3 526.1M239.6 354.1L239.8 350.9 239.9 347.8 240.6 344.7 242.5 342.0M239.6 354.1L243.0 357.5M243.0 357.5L245.7 356.9 248.6 356.6 251.3 355.6 254.0 354.9 256.9 354.8 259.6 354.2M242.5 342.0L245.1 340.7 247.7 339.4 250.4 338.6 253.0 337.4 255.9 336.8M259.6 354.2L259.8 351.6 259.7 348.9 260.2 346.3 260.4 343.7 261.3 341.1M261.3 341.1L258.8 338.6 255.9 336.8M228.6 354.6L231.4 354.8 234.1 354.4 236.9 354.1 239.6 354.1M237.1 334.3L239.3 336.6 241.5 338.9 242.5 342.0M244.1 365.6L243.6 362.9 243.7 360.1 243.0 357.5M266.7 360.6L264.7 358.1 262.8 355.5 259.6 354.2M255.5 324.9L255.9 327.9 255.7 330.9 255.6 333.9 255.9 336.8M273.6 338.8L271.1 339.1 268.5 339.1 266.0 339.1 263.6 340.0 261.3 341.1M646.9 460.8L645.0 460.5 641.9 460.1 638.8 459.7 635.8 458.5M633.8 465.9L635.9 466.5M637.5 467.0L638.7 467.4 640.7 468.1M633.8 465.9L633.4 463.4 632.7 461.0M632.7 461.0L635.8 458.5M633.3 467.0L633.8 465.9M632.3 460.8L632.7 461.0M638.7 448.6L638.3 451.2 637.3 453.6 636.1 455.9 635.8 458.5M640.7 447.2L644.1 447.8 647.2 449.5M647.6 449.1L647.2 449.5M647.2 449.5L647.4 449.8M519.0 472.6L518.9 472.4 517.5 469.8 516.0 467.3 515.2 464.4 514.2 461.6M514.1 475.0L513.4 474.6 510.9 473.4 508.3 472.4 505.5 472.0 502.5 472.3M514.2 461.6L511.9 463.0 509.3 463.8 506.6 464.4 504.0 465.3 502.1 467.5M502.1 467.5L502.5 472.3M514.6 460.9L514.2 461.6M500.9 475.8L502.5 472.3M493.6 459.1L495.8 461.1 498.1 463.1 500.4 464.9 502.1 467.5M308.1 475.5L308.0 478.3 307.3 480.9 306.7 483.6 306.4 486.3 306.5 489.1 306.5 491.8M308.1 475.5L310.8 475.6 313.6 475.8 316.3 476.1 319.0 476.6 321.6 477.2 324.3 478.1 326.9 478.9 329.6 478.9 332.4 478.8M326.2 497.5L327.5 495.0 328.6 492.5 329.0 489.7 330.2 487.2 331.6 484.7 332.0 482.0 332.5 479.2M326.2 497.5L323.5 498.0 320.7 498.6 318.0 498.8 315.3 498.9 312.5 497.8M312.5 497.8L310.4 495.9 308.7 493.6 306.5 491.8M332.5 479.2L332.4 478.8M288.0 498.2L290.6 497.3 293.4 496.8 295.9 495.5 298.5 494.5 301.3 494.0 304.1 493.5 306.5 491.8M307.9 475.2L308.1 475.5M333.3 476.0L332.4 478.8M309.1 511.3L310.1 508.7 311.1 506.1 312.4 503.5 313.0 500.8 312.5 497.8M575.9 376.1L572.8 376.7 569.8 377.5 568.1 378.1M575.9 376.1L575.4 372.8 574.7 369.6 575.3 366.3M568.8 364.4L568.1 365.1M568.8 364.4L572.0 365.6 575.3 366.3M567.8 363.2L568.8 364.4M575.3 350.4L577.9 352.6M577.9 352.6L578.6 355.4 578.9 358.1 578.8 360.9 578.9 363.7M578.9 363.7L575.3 366.3M576.8 377.0L577.4 379.9 577.4 382.9 577.0 385.1M576.8 377.0L580.1 377.5 583.5 377.4 586.8 377.3M586.8 377.3L589.3 379.0 591.2 381.3M589.4 386.5L589.8 386.2M591.2 381.3L589.9 383.6 589.8 386.2M575.9 376.1L576.8 377.0M578.9 363.7L582.7 363.9M588.1 367.9L585.3 366.0 582.7 363.9M588.1 367.9L587.6 371.0 587.5 374.2 586.8 377.3M594.8 367.0L591.5 368.0 588.1 367.9M600.4 377.5L597.2 378.4 593.9 379.1 591.2 381.3M590.1 386.6L589.8 386.2M416.8 441.3L417.8 439.0 419.3 437.0 420.5 434.7 422.3 432.9 423.9 430.9M416.8 441.3L417.8 443.7 419.4 445.8 421.3 447.8 421.8 450.4M421.8 450.4L424.0 448.9 426.4 447.8 428.9 446.9 431.1 445.3 433.1 443.5M433.1 443.5L432.0 441.2 430.4 439.2 428.8 437.2 426.9 435.4 425.2 433.5 424.6 430.8M424.6 430.8L423.9 430.9M411.2 423.2L413.6 425.0 416.1 426.5 418.4 428.5 420.9 430.1 423.9 430.9M405.0 440.2L407.9 441.0 410.8 442.1 413.8 441.9 416.8 441.3M421.0 453.6L421.8 450.4M434.7 443.8L433.1 443.5M427.6 428.3L424.6 430.8M388.5 476.2L385.5 476.5 382.4 476.8 379.3 477.1 376.2 476.8M388.5 476.2L388.8 473.4 389.0 470.6 389.1 467.8 390.1 465.2 391.7 462.7M391.7 462.7L391.6 462.5M391.6 462.5L388.9 461.9 386.2 460.8 383.5 459.9 380.7 459.8 377.8 460.7M372.8 473.2L374.5 475.0 376.2 476.8M372.8 473.2L372.9 470.6 373.5 468.1 373.8 465.6 374.2 463.0M374.2 463.0L377.8 460.7M388.8 476.5L388.5 476.2M381.0 495.6L378.0 493.4 375.1 491.0M375.1 491.0L375.7 488.2 376.0 485.4 375.8 482.5 375.7 479.7 376.2 476.8M405.5 469.6L403.1 468.7 400.4 468.2 398.3 466.7 396.0 465.6 393.7 464.5 391.7 462.7M393.1 458.8L391.6 462.5M380.2 447.2L379.6 449.9 378.8 452.5 378.1 455.2 377.7 457.9 377.8 460.7M359.4 475.6L362.0 474.8 364.7 474.1 367.3 473.5 370.0 473.2 372.8 473.2M352.7 465.5L354.7 467.8 356.4 470.4 357.6 473.2 359.4 475.6M361.7 454.5L363.5 456.3 365.2 458.3 367.5 459.4 369.5 460.9 371.5 462.5 374.2 463.0M346.1 499.8L348.5 501.4 350.7 503.3 352.6 505.6M346.1 499.8L347.0 496.9 347.6 494.0 348.0 491.0 348.9 488.1M352.6 505.6L355.0 504.8 357.7 504.7 360.2 504.3 362.6 503.0M348.9 488.1L352.2 487.6 355.3 486.2M355.3 486.2L357.7 487.8 360.4 489.0 362.9 490.6 364.4 493.4M362.6 503.0L362.7 499.7 362.7 496.4 364.4 493.4M351.1 516.8L351.4 514.0 351.7 511.2 351.7 508.3 352.6 505.6M370.2 513.6L368.7 511.5 367.3 509.3 365.3 507.5 363.9 505.2 362.6 503.0M359.4 475.6L358.5 478.3 357.6 481.0 356.8 483.7 355.3 486.2M332.5 479.2L334.7 480.8 337.1 482.0 339.8 482.7 342.0 484.1 344.4 485.3 346.6 486.7 348.9 488.1M375.1 491.0L372.4 491.6 369.7 491.9 367.0 492.7 364.4 493.4M328.5 500.8L330.8 501.7 333.2 502.6 335.6 503.4 338.2 503.6M328.5 500.8L328.1 503.3 327.4 505.8 326.2 508.1 325.9 510.7 325.9 513.3 325.9 515.9 324.7 518.3 324.1 520.7 322.9 523.1M338.2 503.6L338.4 506.5 338.5 509.3 339.4 512.0 340.6 514.6 341.2 517.3M341.2 517.3L338.8 518.2 336.6 519.5 334.3 520.8 332.0 521.9 329.7 522.9 327.2 523.6 324.5 523.5M322.9 523.1L324.5 523.5M326.2 497.5L328.5 500.8M346.1 499.8L343.7 501.5 340.9 502.4 338.2 503.6M322.5 523.2L322.9 523.1M347.5 519.6L344.2 519.0 341.2 517.3M337.1 537.4L335.1 535.6 333.0 533.9 330.6 532.5 329.0 530.2 327.8 527.8 326.5 525.3 324.5 523.5M420.0 555.6L421.3 554.5M420.0 555.6L417.4 554.9 414.7 554.7 411.9 554.6 409.4 553.7 406.9 552.5 404.5 551.4 402.2 549.7M421.3 554.5L421.6 551.5 421.7 548.5 421.4 545.6 421.4 542.6 421.4 539.6M402.2 549.7L402.2 544.8M402.2 544.8L404.3 543.1 406.8 541.7 409.0 540.0 411.2 538.4 412.9 536.1M412.9 536.1L415.7 537.3 418.5 538.7 421.4 539.6M419.1 567.1L419.4 564.9 419.1 561.8 419.4 558.7 420.0 555.6M433.8 553.1L431.8 553.1 429.3 553.9 426.7 554.7 424.1 555.2 421.3 554.5M398.1 554.0L400.6 552.3 402.2 549.7M394.0 533.4L395.5 535.8 396.8 538.3 398.4 540.6 400.0 542.9 402.2 544.8M411.4 527.7L412.2 530.5 413.1 533.2 412.9 536.1M589.1 348.3L589.2 349.9M589.1 348.3L591.3 345.6 592.5 342.4M589.2 349.9L592.1 353.5M593.4 354.0L592.1 353.5M593.4 354.0L595.8 353.0 598.4 352.1 600.7 350.8 602.9 349.4 604.7 347.3M602.4 342.1L605.1 344.4M604.7 347.3L605.1 344.4M581.5 340.8L581.6 340.9 583.5 342.7 585.6 344.3 587.7 345.9 589.1 348.3M577.9 352.6L580.6 351.4 583.2 349.9 586.1 349.2 589.2 349.9M582.7 363.9L584.6 361.9 586.5 359.7 588.3 357.6 589.9 355.3 592.1 353.5M597.1 360.2L594.8 357.4 593.4 354.0M610.2 356.2L608.7 354.1 606.8 352.1 605.2 350.1 604.7 347.3M611.6 340.2L609.5 341.7 607.2 342.8 605.1 344.4M431.3 531.9L431.8 532.2M431.3 531.9L430.3 527.6M431.8 532.2L434.5 532.1 437.2 531.5 439.8 531.8 442.5 532.3 445.2 532.6 447.9 532.4M430.3 527.6L431.6 525.4 432.8 523.1 434.4 521.1 436.5 519.5M436.5 519.5L439.2 519.5 442.0 519.5 444.7 519.6 447.4 519.6M447.9 532.4L449.4 530.1 451.1 527.9 451.6 525.1M447.4 519.6L449.9 522.1 451.6 525.1M421.4 539.6L423.3 538.0 425.4 536.6 427.7 535.4 429.4 533.6 431.3 531.9M438.2 548.7L437.7 547.0 437.4 544.3 437.0 541.6 435.6 539.3 434.2 537.0 433.0 534.6 431.8 532.2M422.6 522.5L424.9 524.6 427.1 526.8 430.3 527.6M449.0 537.6L448.9 537.5 448.4 535.0 447.9 532.4M434.5 507.7L434.6 510.7 434.9 513.7 435.7 516.6 436.5 519.5M449.0 510.8L448.3 513.7 447.6 516.6 447.4 519.6M460.5 523.9L457.5 523.7 454.4 523.6 451.6 525.1M193.1 124.4L193.0 125.7 192.9 128.2M192.9 128.2L190.6 129.3 188.0 130.1 186.1 131.8 184.3 133.7M175.4 133.0L176.7 133.1 179.2 133.3 181.7 133.6 184.3 133.7M246.8 155.6L246.6 156.1 246.2 158.7 246.4 161.3 245.8 163.9 245.6 166.6 245.6 169.2 245.7 170.8M185.3 173.0L185.3 172.9 186.8 170.8 188.2 168.8 189.6 166.7M201.3 179.3L201.2 179.1 200.4 176.6 200.3 174.0 200.4 171.3 200.1 168.7 198.5 166.4M189.6 166.7L192.6 167.1 195.6 167.1 198.5 166.4M178.5 158.4L180.9 159.3 183.7 159.5M189.6 166.7L187.4 164.5 184.9 162.6 183.7 159.5M227.4 191.1L227.1 189.8 226.6 187.4 226.1 184.9 225.6 182.5M205.2 181.6L206.4 180.6 208.9 179.6 211.2 178.3 213.1 176.5M213.1 176.5L215.8 177.3 218.7 177.7 221.1 179.1 223.5 180.4 225.6 182.5M240.3 173.6L240.2 173.5 237.5 172.8 234.7 172.5 232.0 172.0 229.2 171.7M225.6 182.5L226.9 179.9 228.0 177.3 228.7 174.5 229.2 171.7M190.3 153.2L192.8 154.1 195.3 155.5 197.8 156.4 200.7 156.2M190.3 153.2L190.0 149.5 188.7 146.0M189.7 144.5L188.7 146.0M189.7 144.5L192.7 144.3 195.8 144.4 198.7 142.9M200.7 156.2L201.3 153.0 202.3 149.9 203.4 146.8M198.7 142.9L201.3 144.6 203.4 146.8M183.7 159.5L185.6 157.1 187.5 154.8 190.3 153.2M198.5 166.4L200.8 164.5 202.1 162.0M202.1 162.0L201.2 159.1 200.7 156.2M178.5 149.4L180.8 147.9 183.2 146.6 185.9 145.9 188.7 146.0M184.3 133.7L185.9 136.2 186.9 139.1 188.2 141.8 189.7 144.5M192.9 128.2L195.1 130.6 197.8 132.2M197.8 132.2L198.1 134.9 198.4 137.6 198.8 140.2 198.7 142.9M240.3 133.6L239.9 133.7 237.4 134.4 235.0 135.4 232.5 135.6 230.0 136.0 227.5 136.6 225.0 136.9M225.0 136.9L222.9 135.3 220.4 134.0 218.8 131.9 217.0 130.1 216.8 129.8M197.8 132.2L200.5 131.9 203.2 132.0 205.9 132.2 208.5 131.9 211.0 130.9 213.6 129.8M203.4 146.8L206.5 146.0 209.6 144.8M209.6 144.8L210.5 142.3 211.0 139.8 211.2 137.2 211.7 134.6 212.5 132.2 213.6 129.8M214.1 129.3L213.6 129.8M225.0 136.9L224.2 140.0 223.7 143.0 224.2 146.1M244.3 151.9L243.1 152.0M243.1 152.0L240.5 151.0 237.7 150.4 234.8 150.2 231.9 150.1 229.2 149.2 226.6 147.8 224.2 146.1M209.6 144.8L211.8 146.2 214.1 147.6 216.5 148.8 218.6 150.4M224.2 146.1L221.6 148.6 218.6 150.4M208.7 162.7L210.8 164.9 212.9 167.1 215.1 169.2M208.7 162.7L210.7 160.8 213.1 159.2 215.1 157.3 217.2 155.5 218.7 153.0M215.1 169.2L217.8 168.1 220.7 167.2 223.4 166.2 226.5 166.7M218.7 153.0L220.6 154.9 222.8 156.6 224.7 158.6 226.4 160.6 227.2 163.5M226.5 166.7L227.2 163.5M202.1 162.0L205.4 162.9 208.7 162.7M213.1 176.5L213.5 174.0 213.9 171.5 215.1 169.2M218.6 150.4L218.7 153.0M229.2 171.7L227.4 169.4 226.5 166.7M243.1 152.0L240.9 153.7 238.5 155.2 236.1 156.7 233.6 157.9 231.2 159.4 229.0 161.1 227.2 163.5M177.0 127.0L180.2 125.6 183.4 124.4 186.7 124.0 190.0 124.0 193.3 124.4 197.1 124.5 200.7 125.6 204.5 125.7 207.9 126.7 211.1 128.0 214.4 129.4 218.1 130.2 221.9 130.6 225.6 129.4 229.3 128.2 232.8 127.9 236.0 126.5 239.3 125.7 243.0 124.4 246.7 123.2 249.9 121.5 252.9 119.5 255.8 117.4 259.1 115.8 261.9 114.3 264.1 112.0 267.7 109.4 271.5 107.1 275.2 105.1 279.0 103.3 283.9 102.1M283.9 102.1L284.3 105.2 285.6 108.2 285.6 111.4 286.4 114.5 287.7 118.0 289.9 121.0 291.4 124.4 293.5 127.3 296.3 129.4 298.8 131.9 301.7 134.6 305.0 136.8 304.4 140.6 303.8 144.3 303.9 147.6 304.1 150.9 303.8 154.2 306.7 157.6 308.7 161.7 311.4 163.9 313.7 166.6 314.8 169.6 317.0 172.0 318.5 176.0 320.0 180.0M239.3 125.7L241.7 129.4 240.5 133.1 239.3 136.8 240.0 140.7 241.7 144.3 242.8 148.0 244.2 151.7 245.4 154.5 247.7 156.6 249.2 159.2 253.1 161.4 256.6 164.1 260.2 165.8 264.1 166.6 266.9 169.3 269.0 172.5M105.5 441.5L108.9 440.6 112.0 439.0 115.1 437.6 118.0 436.0 120.0 432.7 121.0 429.0 121.2 425.9 120.5 423.0 120.0 420.0 119.8 416.6 120.1 413.3 121.0 410.0 120.8 406.6 121.0 403.2 120.4 399.9" fill="none" stroke="#ffffff" stroke-width="1.1" stroke-linejoin="round"/>
<polygon points="259.9,288.4 262.9,286.9 265.3,287.4 266.8,289.9 268.8,291.4 269.3,293.9 268.8,296.8 266.8,298.3 265.3,299.8 263.9,298.8 262.4,297.3 259.4,296.8 257.4,295.8 257.9,293.9 259.4,292.9 259.9,290.4 259.9,288.4" fill="#ececec"/>
<polygon points="545.1,450.4 546.5,453.2 547.2,456.7 548.3,460.2 548.6,463.7 549.0,467.9 549.3,472.1 550.0,476.3 547.9,478.5 545.1,479.2 542.3,479.2 539.5,478.5 536.7,479.9 533.2,479.5 530.4,479.2 528.3,478.5 526.9,476.3 527.6,473.5 529.0,471.4 531.1,470.7 533.9,470.0 536.7,467.9 538.1,465.1 539.5,462.3 541.6,459.5 543.0,456.7 543.7,453.2" fill="#888888"/>
<g fill="#7d7d7d"><ellipse cx="327.8" cy="716.8" rx="1.4" ry="1.8"/><ellipse cx="326.9" cy="740.4" rx="1.2" ry="1.6"/><polygon points="242.3,760 244.3,761 246.4,766 248.3,771.5 248.8,775.5 246.7,776.2 244.6,770.5 242.7,764.5"/><polygon points="162,508 166,507 169,510 170,514 167,517 164,515 163,511"/></g>
<g fill="#dfdfdf" stroke="#7d7d7d" stroke-width="1.3" stroke-linejoin="round"><polygon points="642.6,675.4 643.7,678.5 644.7,683.8 643.7,689.1 642.6,692.2 641.6,695.4 642.1,699.6 641.6,704.8 640.5,709.1 639.5,712.2 637.9,716.4 636.8,722.7 635.8,726.9 635.3,731.2 633.2,732.2 632.1,729.1 631.6,723.8 631.1,719.6 632.6,715.4 633.7,712.2 635.3,709.1 634.7,703.8 635.3,698.5 634.2,695.4 634.7,692.2 636.8,690.1 637.4,685.9 638.4,680.6 640.0,677.0 641.6,675.4"/><polygon points="642.6,709.1 645.3,708.0 644.7,712.2 644.2,717.5 643.2,720.6 641.6,719.6 641.6,715.4 642.1,712.2"/><polygon points="630.5,742.2 632.1,743.8 633.2,748.0 631.6,751.2 629.5,752.2 627.9,750.1 627.4,746.9 628.4,743.8"/></g>
<g fill="#7d7d7d"><circle cx="656.8" cy="645.8" r="0.9"/><circle cx="662.7" cy="708.9" r="1.1"/><circle cx="624.2" cy="726.4" r="1.4"/><circle cx="636.9" cy="783.6" r="1.5"/><circle cx="646.5" cy="805.3" r="1.8"/><circle cx="654.5" cy="809.6" r="2.2"/><circle cx="657.6" cy="799.7" r="0.8"/><circle cx="157" cy="750.7" r="0.7"/><circle cx="180.9" cy="744.8" r="0.8"/></g>
<g fill="#ebd9cf" stroke="none">
<polygon points="408.2,330.5 412.3,328.1 415.5,326.5 419.5,326.9 423.5,329.7 425.2,331.3 426.8,333.7 428.4,336.9 430.0,340.2 433.2,343.4 436.5,345.8 437.3,347.8 433.2,348.2 430.0,349.0 430.0,352.3 432.4,354.7 431.6,357.1 429.2,357.9 427.6,359.5 428.4,362.7 432.4,365.2 436.5,366.8 440.5,368.4 442.1,370.8 438.9,371.6 434.8,371.6 431.6,372.4 429.2,373.2 426.8,374.0 425.2,375.6 422.7,378.1 419.5,378.9 416.3,379.7 415.5,382.1 414.7,385.0 413.3,390.3 412.2,395.0 415.1,398.5 415.7,402.0 413.9,405.5 411.0,411.4 408.7,416.0 405.1,418.4 401.6,417.2 399.3,412.5 398.1,406.7 397.5,402.0 395.2,398.5 391.1,397.9 386.4,397.3 384.6,392.6 386.4,389.1 388.7,384.4 387.0,379.7 385.2,376.2 384.1,371.5 386.4,368.0 390.5,364.5 394.6,362.2 398.1,357.5 401.6,354.0 405.1,349.3 407.5,343.4 407.5,337.6"/><polygon points="371.3,418.9 374.5,420.8 378.4,419.8 382.2,420.8 386.1,420.5 390.0,421.4 393.8,420.8 397.7,418.9 400.0,417.6 404.6,419.0 409.7,416.4 413.6,414.5 414.9,416.4 418.9,420.0 421.9,424.0 425.8,426.9 427.8,428.9 428.3,432.9 428.8,436.9 430.8,439.9 433.8,441.8 436.3,443.8 434.8,448.3 431.8,450.3 428.8,452.3 427.3,454.7 425.3,458.2 421.9,460.2 418.9,463.2 416.7,467.6 414.7,472.6 412.7,477.6 411.5,483.0 411.0,487.3 405.9,489.9 399.4,491.2 393.0,493.8 389.1,497.6 387.8,502.8 387.8,509.2 389.1,515.7 390.4,520.0 394.0,521.0 392.0,524.0 385.0,528.0 380.0,525.0 376.0,514.0 372.0,507.0 365.0,506.0 353.0,509.5 347.6,513.4 346.4,520.5 343.4,516.9 342.7,511.8 344.0,505.4 344.7,500.2 343.4,495.1 344.0,489.9 346.6,483.5 349.2,477.0 351.9,469.1 353.9,465.9 356.4,462.7 358.4,459.5 360.3,456.2 363.5,454.3 367.4,455.0 371.3,453.7 373.8,451.1 374.5,447.9 375.8,444.6 378.4,442.1 381.6,440.1 384.1,437.6 384.8,434.3 383.5,432.4 380.3,430.5 377.1,428.5 373.8,427.9 370.6,428.5 370.6,426.0 372.6,423.4 370.6,422.1"/>
</g>
<path d="M434.0 344.9L432.3 344.9 429.7 345.9M427.3 348.8L429.7 345.9M427.3 348.8L429.2 351.3 429.2 351.3M430.6 354.1L431.1 355.9M427.3 348.8L424.5 348.6 421.8 348.6M421.8 348.6L418.8 351.3M419.6 359.7L419.6 356.9 419.3 354.1 418.8 351.3M419.6 359.7L421.6 361.5 424.0 362.7M427.3 361.4L425.8 362.6M424.0 362.7L425.8 362.6M418.8 351.3L416.3 351.1 413.7 350.8 411.1 351.1 408.5 351.2M408.5 351.2L408.0 348.7 408.3 346.2 408.3 343.7M421.8 348.6L420.1 345.6 418.9 342.3M408.3 341.1L409.9 339.9M418.9 342.3L415.8 341.8 412.8 341.3 409.9 339.9M411.9 362.4L412.7 365.9 412.8 369.5M419.6 359.7L416.9 360.1 414.2 360.8 411.9 362.4M424.0 362.7L422.3 365.4 420.8 368.4 419.1 371.1M419.1 371.1L416.0 369.9 412.8 369.5M409.9 339.9L411.2 336.6 412.0 333.1M412.0 333.1L410.9 330.8 410.7 330.0M425.5 333.2L424.5 332.9M422.9 330.3L423.1 331.4M424.5 332.9L423.1 331.4M429.7 345.9L429.0 342.9 428.3 340.0 427.5 337.1 427.5 336.9M418.9 342.3L419.9 339.7 421.0 337.2 422.3 334.7 424.5 332.9M412.0 333.1L414.9 333.1 417.7 333.3 420.5 332.8 423.1 331.4M439.6 370.6L439.5 370.5 438.5 368.5M425.8 362.6L427.9 364.9 430.1 367.1 431.0 370.2M437.5 368.0L435.8 368.8 433.5 369.7 431.0 370.2M419.1 371.1L420.9 373.0 421.7 375.4M431.0 370.2L430.3 372.0M421.7 375.4L424.7 374.7 425.0 374.7M421.7 375.4L421.4 377.6M411.6 383.0L411.2 380.4 410.9 377.8 410.3 375.3 408.3 373.3M411.6 383.0L414.3 383.3M412.8 369.5L410.8 371.7 408.3 373.3M410.9 421.2L411.8 418.7 412.4 416.2 412.6 415.9M410.9 421.2L408.4 420.4 405.8 419.8 405.2 419.6M412.0 407.6L410.8 406.4 408.7 404.8 407.0 402.9 405.8 400.5M398.5 403.7L398.6 403.7 400.8 402.4 402.9 400.9 405.6 400.4M405.6 400.4L405.8 400.5M412.7 396.9L410.3 397.8 408.0 399.1 405.8 400.5M402.4 388.1L404.5 386.4 406.5 384.6 408.7 383.2 411.6 383.0M402.4 388.1L402.8 390.6 403.2 393.1 403.4 395.7 404.6 398.0 405.6 400.4M408.5 351.2L406.7 353.2 405.1 355.3M411.9 362.4L409.8 360.9 408.1 359.1 405.9 357.7M405.1 355.3L405.9 357.7M359.0 460.0L359.2 459.8 360.8 457.4 361.0 456.7M408.3 373.3L405.5 372.6 402.7 372.2 400.0 371.6M405.9 357.7L404.8 360.4 404.1 363.3 402.8 366.0 401.1 368.4 399.7 371.0M400.0 371.6L399.7 371.0M399.7 371.0L397.1 369.4 394.1 368.2 391.8 366.1 391.0 365.1M405.1 355.3L402.0 355.1 401.7 355.0M406.2 477.3L403.3 477.0 400.4 476.4 397.5 476.6 394.6 476.6 391.7 476.9 388.8 476.5M406.2 477.3L408.1 480.3M408.1 480.3L406.8 482.5 405.0 484.3 403.4 486.3 401.3 487.9 399.6 489.7M399.6 489.7L396.6 488.9 393.5 488.5 390.8 486.8M390.8 486.8L390.5 484.2 390.7 481.5 390.5 478.8 388.8 476.5M373.4 426.5L373.2 427.2M373.4 426.5L373.3 425.9M373.3 425.9L371.8 425.8M376.1 421.2L375.2 423.6 373.3 425.9M408.2 480.3L410.0 482.6 410.7 483.2M408.2 480.3L410.6 479.8 411.4 479.6M408.1 480.3L408.2 480.3M405.5 469.6L406.1 472.1 406.9 474.7 406.2 477.3M408.5 465.1L406.5 467.0 405.5 469.6M417.4 463.1L417.7 463.8M408.5 465.1L411.4 464.3 414.5 464.1 417.4 463.1M397.9 375.7L394.9 376.8 392.1 378.2 388.9 378.8M397.9 375.7L398.7 378.1 399.9 380.4 400.6 382.8 401.0 385.4 401.8 387.8M401.8 387.8L398.8 388.2 395.6 388.0 392.7 389.0M392.7 389.0L390.4 387.0 389.1 385.4M388.3 381.0L388.9 378.8M402.4 388.1L401.8 387.8M400.0 371.6L397.9 375.7M389.9 396.9L390.0 396.5 391.4 394.2 392.0 391.6 392.7 389.0M388.9 378.8L386.5 376.6 386.1 376.1M434.9 443.7L434.7 443.8M435.1 444.8L434.7 443.8M417.4 463.1L418.4 460.8 419.7 458.6 420.7 456.3 421.1 453.7M425.5 456.3L423.4 455.6 421.1 453.7M404.6 452.8L404.9 452.3M404.9 452.3L407.5 452.7 410.2 453.3 412.9 453.3 415.7 453.0 418.4 452.8 421.0 453.6M408.5 465.1L407.8 462.6 407.0 460.2 406.2 457.7 405.6 455.2 404.6 452.8M421.0 453.6L421.1 453.7M386.2 436.0L387.0 438.7 387.1 441.5 387.0 444.3M386.2 436.0L388.2 434.3 389.9 432.3 391.7 430.4 393.9 429.1M393.9 429.1L396.3 430.5 398.8 431.5 401.3 432.5 404.0 433.0M387.0 444.3L387.2 444.4M387.2 444.4L389.9 444.3 392.7 444.8 395.4 444.6 398.1 444.5 400.8 444.2 403.4 442.8M404.0 433.0L405.1 436.5 405.0 440.2M403.4 442.8L405.0 440.2M376.2 445.7L377.9 446.2 380.2 447.2M373.4 426.5L374.4 427.2M385.4 435.5L386.2 436.0M380.2 447.2L383.4 445.3 387.0 444.3M392.5 421.8L393.1 423.4 393.9 426.1 393.9 429.1M410.9 421.2L411.2 423.2M411.2 423.2L409.4 425.6 408.0 428.3 406.5 431.0 404.0 433.0M393.1 458.8L391.9 456.5 390.8 454.1 390.2 451.5 389.8 448.9 388.6 446.6 387.2 444.4M404.6 452.8L402.2 453.8 399.7 454.7 397.3 455.6 395.1 457.1 393.1 458.8M404.9 452.3L404.8 449.1 404.2 446.0 403.4 442.8M399.6 489.7L399.7 490.3M381.0 495.6L382.8 493.6 384.7 491.7 386.6 490.0 388.6 488.3 390.8 486.8M382.0 498.2L381.0 495.6M382.0 498.2L384.2 499.8 386.6 500.9 387.4 501.1M383.8 526.4L385.7 526.0M376.9 514.1L378.6 514.7 381.0 515.8 383.0 517.6M385.7 526.0L385.0 523.1 384.1 520.3 383.0 517.6M386.4 526.3L385.7 526.0M387.9 513.6L387.0 514.3 385.0 516.0 383.0 517.6M382.0 498.2L380.6 500.6 379.4 503.1 378.6 505.8 377.0 508.1 375.5 510.4 375.1 510.9M416.8 441.3L417.8 439.0 419.3 437.0 420.5 434.7 422.3 432.9 423.9 430.9M416.8 441.3L417.8 443.7 419.4 445.8 421.3 447.8 421.8 450.4M421.8 450.4L424.0 448.9 426.4 447.8 428.9 446.9 431.1 445.3 433.1 443.5M433.1 443.5L432.3 441.8M427.9 436.3L426.9 435.4 425.2 433.5 424.6 430.8M424.6 430.8L423.9 430.9M411.2 423.2L413.6 425.0 416.1 426.5 418.4 428.5 420.9 430.1 423.9 430.9M405.0 440.2L407.9 441.0 410.8 442.1 413.8 441.9 416.8 441.3M421.0 453.6L421.8 450.4M434.7 443.8L433.1 443.5M426.8 429.0L424.6 430.8M388.5 476.2L385.5 476.5 382.4 476.8 379.3 477.1 376.2 476.8M388.5 476.2L388.8 473.4 389.0 470.6 389.1 467.8 390.1 465.2 391.7 462.7M391.7 462.7L391.6 462.5M391.6 462.5L388.9 461.9 386.2 460.8 383.5 459.9 380.7 459.8 377.8 460.7M372.8 473.2L374.5 475.0 376.2 476.8M372.8 473.2L372.9 470.6 373.5 468.1 373.8 465.6 374.2 463.0M374.2 463.0L377.8 460.7M388.8 476.5L388.5 476.2M381.0 495.6L378.0 493.4 375.1 491.0M375.1 491.0L375.7 488.2 376.0 485.4 375.8 482.5 375.7 479.7 376.2 476.8M405.5 469.6L403.1 468.7 400.4 468.2 398.3 466.7 396.0 465.6 393.7 464.5 391.7 462.7M393.1 458.8L391.6 462.5M380.2 447.2L379.6 449.9 378.8 452.5 378.1 455.2 377.7 457.9 377.8 460.7M359.4 475.6L362.0 474.8 364.7 474.1 367.3 473.5 370.0 473.2 372.8 473.2M354.1 467.1L354.7 467.8 356.4 470.4 357.6 473.2 359.4 475.6M362.9 455.6L363.5 456.3 365.2 458.3 367.5 459.4 369.5 460.9 371.5 462.5 374.2 463.0M346.1 499.8L348.5 501.4 350.7 503.3 352.6 505.6M346.1 499.8L347.0 496.9 347.6 494.0 348.0 491.0 348.9 488.1M352.6 505.6L355.0 504.8 357.7 504.7 360.2 504.3 362.6 503.0M348.9 488.1L352.2 487.6 355.3 486.2M355.3 486.2L357.7 487.8 360.4 489.0 362.9 490.6 364.4 493.4M362.6 503.0L362.7 499.7 362.7 496.4 364.4 493.4M351.7 509.4L351.7 508.3 352.6 505.6M364.1 505.4L363.9 505.2 362.6 503.0M359.4 475.6L358.5 478.3 357.6 481.0 356.8 483.7 355.3 486.2M346.3 486.5L346.6 486.7 348.9 488.1M375.1 491.0L372.4 491.6 369.7 491.9 367.0 492.7 364.4 493.4M346.1 499.8L345.5 500.2" fill="none" stroke="#fff2ea" stroke-width="1"/>
<g fill="none" stroke="#7d7d7d" stroke-width="1.7" stroke-linejoin="round" stroke-linecap="round">
<polyline points="221.5,193.0 225.7,191.9 228.9,190.8 231.8,189.0 232.6,186.5 233.0,183.9 234.3,181.5 236.3,179.2 238.0,176.8 239.3,174.1 241.8,172.9 244.3,171.7 246.7,170.3 249.1,169.1 251.7,168.9 254.1,167.9 256.7,168.9 259.3,170.0 261.6,171.6 264.0,173.1 266.6,173.9 269.0,175.3 271.5,175.7 274.0,176.1 276.5,176.0 279.0,176.6 281.6,177.1 284.0,177.9 286.4,179.0 289.0,179.4 291.3,180.7 293.8,181.5"/>
<polyline points="225.7,191.9 226.8,195.1 228.7,197.9 231.0,199.6 232.7,201.8 234.2,204.8 235.7,207.8 237.0,210.4 238.2,213.1 239.6,215.7 241.9,217.4 243.6,219.7 247.6,221.7 249.5,224.7 251.5,227.6 253.6,229.5 255.5,231.6 257.5,233.6 259.5,235.6 262.4,237.7 265.4,239.6 268.4,241.5 271.4,243.5 275.4,245.5 277.5,247.0"/>
<polyline points="277.5,247.0 277.8,243.3 278.3,239.6 278.4,236.9 279.4,234.3 279.3,231.6 280.3,228.6 281.3,225.7 284.3,224.2 287.3,222.7 289.9,221.9 292.6,222.0 295.2,221.7 298.3,221.8 301.2,222.7 306.1,222.0"/>
<polyline points="277.5,247.0 279.3,248.5 279.6,251.9 279.3,255.4 280.0,258.1 280.7,260.7 281.3,263.4 284.4,264.0 287.3,265.4 289.9,266.1 292.6,266.4 295.2,267.3 298.2,269.3 301.2,271.3 303.4,273.1 305.1,275.3 309.1,277.3 311.5,279.6 314.2,281.4 317.0,283.2 319.5,284.6 322.4,284.9 325.0,286.2 328.0,287.5 330.9,289.2 334.7,289.0"/>
<polyline points="277.5,247.0 274.6,248.6 271.4,249.5 269.6,252.6 267.4,255.4 266.5,258.0 266.3,260.8 265.4,263.4 265.4,266.7 264.3,270.0 264.4,273.3 264.8,275.9 264.2,278.4 264.6,281.0 265.8,283.9 266.3,286.9 268.0,290.0 269.3,293.9 268.8,296.8 271.8,298.8 273.3,301.8 273.8,304.8 273.3,309.7 273.8,312.7 272.8,315.0 271.4,315.0"/>
<polyline points="259.9,288.4 262.9,286.9 265.3,287.4 266.8,289.9 268.8,291.4 269.3,293.9 268.8,296.8 266.8,298.3 265.3,299.8 263.9,298.8 262.4,297.3 259.4,296.8 257.4,295.8 257.9,293.9 259.4,292.9 259.9,290.4 259.9,288.4"/>
<polyline points="255.5,231.6 256.9,234.1 257.6,236.9 258.5,239.6 258.6,242.6 258.5,245.5 256.1,247.1 253.5,248.5 249.6,251.5 245.6,253.4 242.6,257.4 239.9,259.2 237.6,261.4 235.1,261.9 232.6,262.2 230.2,262.9 227.7,263.4 225.1,263.1 222.4,263.1 219.8,263.4 217.1,262.8 214.5,261.8 211.8,261.4 209.2,260.5 206.5,260.2 203.9,259.4 200.8,259.2 197.9,258.4 195.3,258.5 192.6,258.2 190.0,258.0 187.5,256.8"/>
<polyline points="203.9,259.4 204.2,262.4 203.9,265.4 203.9,268.0 203.6,270.7 203.9,273.3 206.9,274.3 209.9,275.3 212.3,276.1 214.8,276.4 217.3,276.9 219.8,277.3 222.8,281.2 223.7,283.7 224.1,286.3 224.7,288.8 225.7,291.2 228.0,294.0 229.7,297.1 231.4,299.4 233.8,301.0 235.7,303.1 236.9,306.0 237.6,309.0 236.8,312.0 236.7,315.0 239.2,314.2 241.6,313.0 242.8,310.6 243.6,308.0 246.6,307.0 249.6,306.1 252.7,306.7 255.5,308.0 257.1,310.5 258.5,313.0 259.5,317.0 263.4,317.0 265.7,315.6 268.4,315.0 271.4,315.0"/>
<polyline points="271.4,315.0 269.4,319.0 269.8,322.5 269.8,326.0 272.0,327.7 273.7,329.9 275.2,332.4 276.7,334.9 277.7,337.9 275.0,339.5 271.8,341.8"/>
<polyline points="277.7,337.9 279.7,339.9 282.3,339.5 285.0,340.3 287.6,339.9 290.5,341.0 293.6,341.8 296.7,342.6 299.6,343.8 302.4,345.2 305.5,345.8 307.8,347.5 309.5,349.8 310.7,352.7 311.5,355.7 310.9,358.8 309.5,361.7 307.6,364.7 305.5,367.6 304.8,370.7 303.5,373.6 299.6,376.6 297.7,378.2 295.6,379.6 293.6,383.5 292.4,385.9 291.6,388.5 290.3,390.8 289.6,393.4 290.1,396.4 290.6,399.4 291.8,402.5 293.6,405.4 296.7,406.7 299.6,408.3 303.5,411.3 307.5,409.3 308.3,406.4 308.5,403.4 307.5,400.9 306.5,398.4 306.2,395.9 305.5,393.4 304.2,390.5 303.5,387.5 303.1,384.5 302.5,381.5 305.5,379.6 308.6,380.4 311.5,381.5 315.4,383.5 319.4,383.5 322.3,384.8 325.4,385.5 328.4,384.5 331.3,383.5 334.3,382.5 337.3,381.5 339.1,383.7 341.2,385.5 344.2,386.5 347.2,387.5 350.0,387.4 353.0,385.9 354.0,389.9 356.5,390.7 358.9,391.8 360.6,389.1 362.9,386.9 365.9,386.8 368.9,386.4 372.8,388.9 375.1,391.2 377.8,392.8 380.1,395.0 382.8,396.8 386.7,398.8 389.7,399.8 392.7,397.8"/>
<polyline points="271.8,341.8 270.1,344.1 267.9,345.9 265.8,347.8 264.2,350.1 261.8,351.6 259.9,353.7 257.8,355.6 255.7,357.5 253.9,359.7 252.2,362.9 249.9,365.7 249.7,368.7 248.9,371.6 250.5,374.6 251.9,377.6 254.8,379.2 257.9,380.5 260.5,379.9 263.2,380.2 265.8,379.6 269.8,381.5 270.4,384.5 270.8,387.5 268.2,388.2 265.8,389.5 262.9,389.1 259.9,389.5 258.9,392.4 257.9,395.4 258.5,398.5 259.9,401.4 260.0,404.4 259.9,407.3 256.8,408.7 253.9,410.3 250.9,410.0 247.9,410.3 244.9,410.5 242.0,411.3 239.0,411.4 237.3,413.7 235.0,415.4 233.2,417.5 231.0,419.3 228.9,417.4 227.0,415.4 229.3,412.6 231.0,409.4 231.8,406.3 233.0,403.4 232.7,400.4 233.0,397.5 229.0,395.5 226.1,395.6 223.1,395.5 221.4,393.7 220.1,391.5 217.1,389.6 213.2,390.5 210.2,393.5 209.5,396.5 209.2,399.5 208.6,402.4 208.2,405.4 209.6,408.3 210.2,411.4 210.4,414.4 211.2,417.3 211.8,420.3 212.2,423.3 211.5,426.3 211.2,429.3 209.4,432.4 207.2,435.2 203.2,437.2 201.4,440.3 199.3,443.2"/>
<polyline points="119.9,399.5 123.2,399.1 126.5,399.4 129.8,399.5 133.1,399.1 136.4,399.0 139.7,398.5 142.2,399.0 144.7,399.4 147.1,400.0 149.6,400.5 152.4,401.6 155.0,403.0 157.6,404.4 160.2,404.5 162.9,404.1 165.5,404.4 168.5,407.4 170.0,410.4 171.5,413.4 174.4,417.3 174.5,420.4 175.4,423.3 178.4,425.3 181.4,427.3 184.3,429.4 187.3,431.2 190.2,433.3 193.3,435.2 195.1,437.4 197.3,439.2 199.3,443.2"/>
<polyline points="199.3,443.2 198.6,446.1 198.3,449.1 196.7,452.0 195.3,455.1 193.3,459.0 193.2,462.1 192.3,465.0 193.3,469.0 191.8,469.9"/>
<polyline points="191.8,469.9 194.4,469.1 197.1,468.8 199.7,467.9 201.6,470.7 202.7,473.9 205.2,475.0 207.1,476.9 209.6,477.9 212.2,479.3 214.7,480.9 217.6,481.8 220.9,482.4 224.2,482.9 227.5,482.8 230.8,483.0 234.1,483.6 237.4,483.8 239.5,486.7 241.4,489.8 244.4,490.2 247.3,489.8 249.2,487.7 251.1,485.6 253.3,483.8 255.5,482.0 257.2,479.7 259.3,477.9 261.9,476.9 264.6,476.0 267.2,474.9 270.2,475.3 273.2,475.9 273.8,478.8 274.1,481.8 277.1,481.6 280.1,481.6 283.1,481.8 285.8,481.1 288.4,479.9 291.0,478.9 293.7,478.9 296.3,479.2 299.0,478.9 301.6,478.3 304.2,477.9 306.9,477.9 310.2,476.4 313.7,475.7 316.4,475.6 319.0,476.8 321.7,476.7 325.0,477.5 328.3,477.5 331.6,477.7 334.5,479.1 337.6,479.7 340.5,480.7 343.5,481.7 345.5,483.2 347.5,484.7"/>
<polyline points="191.8,469.9 188.8,471.9 185.8,473.9 187.2,476.8 187.8,479.9 190.4,480.1 193.1,479.7 195.7,479.9 192.7,481.7 189.8,483.8 187.5,486.6 185.8,489.8 187.0,492.7 187.8,495.7 186.8,498.7 185.8,501.7 182.8,502.1 179.9,502.7 177.7,505.0 175.9,507.6 173.8,510.5 171.9,513.6 167.9,515.6 165.8,513.7 164.0,511.6 162.0,509.6"/>
<polyline points="378.4,442.1 375.8,444.6 374.5,447.9 373.8,451.1 371.3,453.7 367.4,455.0 363.5,454.3 360.3,456.2 358.4,459.5 356.4,462.7 353.9,465.9 351.9,469.1 351.5,473.7 350.1,476.4 349.1,479.4 347.5,482.0 345.1,484.0 344.4,486.9 343.7,489.7 343.3,492.5 343.7,495.3 344.0,498.2 345.1,500.9 346.1,503.6 346.5,506.5 345.1,509.3 343.7,512.1 342.3,516.3 343.7,519.2 345.1,520.6 346.4,523.4 347.9,526.2 349.6,528.1 350.7,530.4 347.9,533.2 345.1,534.6 342.3,536.0 340.6,537.9 339.5,540.2 339.4,543.0 338.8,545.8 339.4,548.6 339.5,551.5"/>
<polyline points="392.7,397.8 396.6,400.0 397.6,404.0 398.6,408.0 399.6,412.0 400.5,416.0 400.0,417.6 397.7,418.9 393.8,420.8 390.0,421.4 386.1,420.5 382.2,420.8 378.4,419.8 374.5,420.8 371.3,418.9 370.6,422.1 372.6,423.4 370.6,426.0 370.6,428.5 373.8,427.9 377.1,428.5 380.3,430.5 383.5,432.4 384.8,434.3 384.1,437.6 381.6,440.1 378.4,442.1"/>
<polyline points="395.7,420.1 398.2,419.4 400.6,418.6 403.3,417.6 406.0,416.7 408.7,415.8 411.2,414.3 413.9,413.4 416.0,416.5 418.9,420.0 420.3,422.1 421.9,424.0 425.8,426.9 427.8,428.9 428.3,432.9 428.8,436.9 430.8,439.9 433.8,441.8 436.8,443.3 436.8,445.8 434.8,448.8 431.8,450.8 428.8,452.8 427.8,454.7 425.8,458.7 421.9,460.7 418.9,463.7 416.9,467.6 415.8,470.1 414.9,472.6 413.9,475.1 412.9,477.6 411.6,480.3 410.5,483.0 407.9,486.5 405.1,489.6 402.5,491.0 399.8,492.4 397.1,493.6 393.9,495.3 391.2,497.6 390.1,500.0 389.4,502.5 388.7,505.1 388.4,508.4 388.6,511.6 388.7,514.9 391.5,518.5 394.3,519.2 396.4,520.6 394.3,523.4 392.4,525.5 390.0,527.0 387.6,528.7 385.0,530.0 383.5,534.0 384.4,537.4 385.0,542.0 386.5,545.8 385.2,548.6 384.4,551.5 382.4,553.0 380.2,554.3 377.0,556.0 375.5,559.0 373.0,563.0 371.6,565.4 371.0,568.0 371.2,571.0 371.8,573.9"/>
<polyline points="425.4,327.0 426.3,329.4 426.9,331.9 428.3,334.0 429.7,336.2 431.8,338.0 433.2,340.4 435.0,342.8 436.7,345.3 438.1,347.0 433.9,348.1 431.1,350.2 430.4,353.0 432.5,355.1 431.8,357.2 429.0,359.3 431.1,362.1 434.6,364.2 438.1,366.3 441.6,369.2 443.7,372.0 440.2,372.0 436.7,372.7 433.2,373.4 429.7,374.1 426.9,375.5 424.0,378.3 422.2,380.2 420.0,381.5 417.9,383.6 416.6,386.7 414.9,389.6 414.5,392.2 415.2,394.9 414.9,397.5 415.2,400.0 415.9,402.5 419.5,402.8"/>
<polyline points="392.7,397.8 395.1,398.7 397.5,399.4 400.0,400.0 402.6,400.6 405.3,401.0 408.0,401.0 411.0,401.4 413.9,402.0 415.9,402.5"/>
<polyline points="415.9,402.5 418.5,402.1 421.1,401.5 423.8,401.5 426.8,401.1 429.8,400.5 432.9,401.7 435.7,403.4 438.8,404.7 441.7,406.4 444.4,406.2 447.0,405.2 449.6,404.4 452.3,403.6 454.9,402.5 457.6,401.5 460.1,399.9 463.0,399.2 465.5,397.5 468.5,397.1 471.5,396.5 474.6,397.6 477.4,399.5 480.3,400.9 483.4,401.5 486.4,402.9 489.3,404.4 491.4,402.5 493.3,400.5 496.3,399.9 499.3,399.5 500.2,396.5 501.2,393.5 503.4,390.7 505.2,387.6 507.0,385.4 509.2,383.6 511.6,382.7 514.1,382.6 516.6,381.9 519.1,381.6"/>
<polyline points="519.1,381.6 519.9,379.0 519.4,376.3 520.1,373.7 520.7,370.7 521.1,367.7 522.4,364.9 523.1,361.8 525.1,359.8 527.0,357.8 528.6,355.9 530.0,353.8 529.0,349.9 525.5,349.6"/>
<polyline points="519.1,381.6 519.1,384.3 519.3,386.9 519.1,389.6 518.6,392.3 517.4,394.8 517.1,397.5 515.9,400.1 515.0,402.7 514.1,405.4 512.7,408.4 511.2,411.4 508.9,413.1 507.2,415.4 504.1,416.5 501.2,418.3 498.1,419.4 495.3,421.3 492.3,422.3 489.3,423.3 486.4,424.9 483.4,426.3 480.5,427.6 477.4,428.3 475.1,429.9 472.5,431.2 472.7,434.3 473.5,437.2 476.6,439.0 479.4,441.2 482.2,443.5 485.4,445.1 488.3,447.2 491.3,449.1 492.0,452.2 493.3,455.1 494.3,458.1 495.3,461.0 497.1,463.2 499.3,465.0 501.2,467.1 503.2,469.0 505.0,471.2 507.2,472.9 511.2,474.9"/>
<polyline points="427.8,454.7 430.8,456.7 433.8,458.2 437.8,457.7 442.7,457.2 445.2,457.0 447.7,456.7 450.2,456.4 452.6,455.7 453.6,458.7 454.1,461.7 452.6,465.7 456.6,467.6 459.6,464.7 462.1,465.2 464.6,465.2 467.1,465.6 469.5,466.2 473.5,467.6 475.5,463.7 476.0,459.7 475.9,457.2 476.5,454.7 479.4,455.7 481.3,457.3 483.4,458.7 485.1,460.6 487.3,462.0 491.0,464.0 493.3,462.7 495.3,461.0"/>
<polyline points="339.5,551.5 337.2,550.4 335.3,548.7 334.1,546.4 332.5,544.4 332.5,541.6 332.5,538.8 331.8,536.0 331.1,533.2 328.8,532.1 326.9,530.4 324.1,529.8 321.2,529.7 318.4,529.6 315.6,529.0 312.8,529.5 310.0,530.4 307.8,528.8 306.1,526.7 303.8,525.4 301.2,524.2 298.5,523.5 295.9,522.4 291.9,521.4"/>
<polyline points="291.9,521.4 291.4,524.4 291.0,527.5 290.3,530.5 289.0,533.4 286.1,535.4 283.1,537.4 281.7,540.3 281.1,543.4 279.7,546.2 279.1,549.3 277.2,552.4 275.1,555.3 273.2,557.3 271.2,559.3 267.2,559.3 265.2,561.3 263.2,563.2 261.2,565.2 258.9,568.0 257.3,571.2 254.5,573.5 251.3,575.1 249.5,577.3 247.3,579.1 246.3,581.5 245.5,584.0 242.9,584.1 240.2,584.1 237.6,584.0 235.0,583.5 232.2,583.6 229.6,583.0 229.5,585.5 228.6,587.9 228.2,590.9 228.6,593.9 225.7,594.7 222.7,595.6 219.7,595.9 217.2,597.3 214.4,597.7 211.8,598.9 209.2,599.9 206.5,601.0 203.8,601.8 200.7,602.4 197.9,603.8 196.0,605.0 196.6,609.2 198.4,611.8 200.7,613.9 200.1,618.6 198.4,623.3 196.0,624.5"/>
<polyline points="182.5,624.0 186.7,624.0 190.2,627.5 193.7,625.7 196.0,624.5 195.5,627.4 195.4,630.3 195.6,633.3 196.6,636.2 196.6,639.1 196.0,642.0 192.5,645.5"/>
<polyline points="271.2,559.3 271.8,562.1 273.5,564.4 274.1,567.2 274.3,569.8 274.4,572.5 275.1,575.1 274.1,577.7 273.7,580.4 273.2,583.1 272.3,587.9 271.6,590.5 271.5,593.2 271.3,595.9 270.8,598.5 269.4,600.7 269.3,603.4 268.3,605.8 270.3,608.8 272.3,611.8 272.7,614.4 273.0,617.1 273.3,619.7"/>
<polyline points="273.3,619.7 276.3,620.1 279.3,620.5 282.2,621.5 285.2,621.7 287.6,620.6 290.2,619.9 292.6,618.7 295.1,617.7 297.7,616.8 300.4,616.2 303.1,615.7 305.8,615.4 308.5,614.7 311.0,613.7 312.2,611.1 313.8,608.6 315.9,606.5 317.0,603.8 320.0,602.6 323.1,602.5 326.0,601.6 328.4,601.0 330.9,600.6 332.9,596.6 335.9,593.7 339.9,592.7 342.4,592.2 344.8,591.7 348.8,591.7 352.8,590.7 355.7,588.7 359.7,586.7 363.7,584.7 366.6,582.8 368.6,578.8 370.6,574.8 371.8,573.9"/>
<polyline points="339.5,551.5 341.0,553.6 342.3,555.7 345.1,557.8 347.9,559.9 350.7,561.3 353.5,562.7 354.7,565.6 356.3,568.3 357.8,572.5 360.6,573.4 363.4,573.9 366.2,573.4 369.0,572.5 371.8,573.9"/>
<polyline points="371.8,573.9 373.6,571.8 377.6,568.9 381.5,567.4 385.5,566.4 387.5,562.9 388.1,560.3 389.5,557.9 391.5,555.0 394.4,558.9 397.4,560.9 400.0,557.0 401.3,554.9 403.0,553.0 405.1,551.1 407.0,549.0 409.1,547.2 411.0,545.1 413.0,543.2 416.1,542.4 419.0,541.2 420.7,543.5 422.9,545.2 425.8,546.4 428.9,547.2 431.9,546.5 434.8,545.2 437.3,544.1 440.0,543.2 442.9,544.0"/>
<polyline points="273.3,619.7 270.0,619.4 266.7,619.7 263.4,619.7 262.5,622.3 261.9,624.9 261.4,627.6 262.2,630.2 262.5,633.0 263.4,635.6 261.4,639.6 258.8,640.3 256.4,641.5 256.1,644.2 256.1,646.9 255.4,649.5 257.0,652.4 258.4,655.4 259.2,658.4 259.4,661.4 260.4,664.0 260.9,666.6 261.4,669.3 264.4,671.3 267.3,673.3 270.4,672.6 273.3,671.3 276.0,670.7 278.5,669.8 281.2,669.3 284.1,670.7 287.2,671.3 288.9,674.5 291.2,677.3 292.9,679.5 295.1,681.2 296.1,684.2 297.1,687.2 294.9,689.0 293.2,691.2"/>
<polyline points="293.2,691.2 296.1,689.9 299.1,689.2 301.6,689.0 304.0,688.0 306.5,687.5 309.0,687.2 311.4,686.3 314.1,686.5 316.6,686.0 319.0,685.2 321.7,684.8 324.3,683.9 326.9,683.2 329.4,681.6 332.1,680.5 334.8,679.3 337.3,678.1 340.0,677.3"/>
<polyline points="293.2,691.2 291.2,695.1 288.5,695.0 285.9,695.4 283.2,695.1 280.4,697.3 277.3,699.1 276.4,702.2 275.8,705.4 273.1,709.4 277.1,710.8 278.5,713.5 275.8,716.8 273.1,717.7 270.4,718.8 267.7,719.3 265.0,720.2 261.0,721.5 258.3,722.9 256.9,724.9 254.2,724.9 251.5,724.9 247.5,724.9"/>
<polyline points="247.5,724.9 244.8,721.5 242.7,720.0 240.8,718.2 238.0,717.5 235.4,716.2 232.6,715.1 230.0,713.5 225.7,711.0 223.7,708.0 221.7,705.1 219.4,703.4 217.7,701.1 215.6,699.7 213.7,698.1 211.8,697.1"/>
<polyline points="247.5,724.9 243.5,726.9 244.8,729.6 248.8,732.3 252.9,735.0 254.2,739.0 254.2,743.1 256.9,747.1 257.6,751.1 258.0,753.8 258.3,756.5 262.3,757.9 265.7,756.5 266.3,760.6 265.8,763.2 265.7,765.9 266.4,768.6 266.3,771.3 269.0,774.0 269.7,778.1 268.4,782.1 266.3,786.1 265.7,790.2 266.3,794.2 266.7,796.9 267.0,799.6 265.7,803.6 265.0,806.3"/>
<polyline points="619.9,339.2 624.8,338.6 627.3,338.1 629.9,338.2 632.3,337.4 637.2,337.4 639.7,337.9 642.2,338.2 644.7,338.6 648.4,338.8 652.1,338.6 655.2,338.2 658.3,337.4 660.3,335.7 662.0,333.6 663.9,331.8 665.8,329.9 668.1,327.3 670.7,325.0 674.4,322.5 676.9,321.9 679.4,321.2 681.8,320.2 684.4,320.0 687.2,319.1 689.7,317.5 692.7,317.1 695.3,315.6 697.8,314.9 700.3,314.3 702.7,313.3 705.2,312.6 707.8,312.1 710.5,312.1 713.2,312.0 712.0,315.0 710.2,317.6 710.8,320.5 711.2,323.5 712.4,326.2 714.1,328.5"/>
<polyline points="703.0,336.0 700.0,334.9 697.7,336.1 695.5,337.4 691.8,338.6 688.1,339.9 684.4,341.7 680.6,344.2 676.9,346.7 674.4,349.8 672.0,352.3 669.5,356.0 667.0,359.7 664.5,363.4 660.8,365.9 658.3,368.4 656.2,370.0 654.6,372.1 652.6,373.8 650.9,375.8 652.1,379.6 653.3,383.3"/>
<polyline points="653.3,383.3 656.0,381.7 658.3,379.6 660.9,378.5 663.3,377.1 666.4,376.2 669.5,375.8 672.6,375.1 675.7,375.2 678.1,374.1 680.6,373.3 681.9,375.8"/>
<polyline points="653.3,383.3 652.4,386.5 650.9,389.5 649.5,391.9 648.4,394.4 647.5,397.7 645.9,400.6 644.9,403.7 644.0,406.8 643.2,409.2 643.0,411.8 644.7,415.0 647.5,415.2 650.3,415.0"/>
<polyline points="567.2,365.5 570.5,364.9 573.9,365.2 577.3,364.3 580.8,364.3 583.4,364.9 586.1,364.3 588.7,365.2 591.3,365.2 594.1,366.1 597.1,366.1 600.0,366.9 603.7,365.9 607.4,364.0 609.9,362.2 612.4,362.6 614.9,362.8 617.4,363.2 619.9,363.4 623.6,362.8 623.0,367.1 623.6,370.9 626.0,371.8 628.5,372.1 632.3,374.6 634.1,378.3 636.0,382.0 637.0,384.5 633.0,386.0 629.8,387.0"/>
<polyline points="624.3,403.4 627.2,405.6 629.8,408.1 633.5,405.6 637.2,406.8 639.7,409.3 642.2,411.8 643.0,411.8"/>
<polyline points="624.3,403.4 625.4,406.8 626.0,410.4 626.2,412.9 626.1,415.5 626.5,418.0 626.3,420.7 626.6,423.4 626.0,426.0"/>
<polyline points="523.5,332.8 526.8,333.0 530.0,333.5 533.5,333.4 537.0,333.0 540.2,333.3 543.4,332.8"/>
<polyline points="567.2,343.7 567.0,346.8 567.0,350.0 566.4,353.3 566.5,356.6"/>
<polyline points="153.6,82.3 154.9,78.5 158.6,76.0 160.8,74.1 162.8,72.0 164.8,69.9 167.4,67.7 169.8,65.4 172.3,64.9 174.8,64.5 177.2,63.6 179.7,62.4 182.2,61.2 184.7,62.4 187.1,61.8 189.6,61.2 192.0,60.3 194.5,59.4 197.0,58.7 200.0,57.2 203.3,56.2 207.0,56.5 210.7,56.2 213.8,55.8 216.9,55.0 220.6,56.2 222.4,59.4 224.4,62.4 226.8,64.5 229.4,66.4 231.8,68.6 234.3,69.9 236.8,71.1 239.3,72.3 241.7,74.5 244.3,76.4 246.7,78.5 249.2,80.4 251.7,82.3 253.7,84.6 255.4,87.2 256.6,91.0 259.2,91.5 261.4,92.9 264.0,93.4 266.5,93.9 269.0,94.7 270.2,97.8 271.5,100.9 274.6,101.2 277.7,100.9 280.8,100.0 283.9,99.6 286.4,97.8 288.9,95.9 292.0,94.0 295.1,92.2 298.0,91.2 300.9,90.5 303.8,89.7 306.3,89.0 308.8,88.3 311.2,87.2 314.3,87.3 317.4,87.2 320.5,88.3 323.6,89.7 326.7,90.5 329.8,91.0 332.3,92.3 334.8,93.4 336.8,95.8 338.5,98.4 338.2,101.3 338.8,104.1 338.5,107.0 337.4,109.4 336.9,112.0 336.0,114.5 334.7,116.9 333.8,119.6 332.5,122.1 331.0,124.4 329.1,126.9 327.3,129.4 325.0,130.9 322.4,131.9 321.0,135.0 319.9,138.1 316.7,139.8 313.7,141.8 311.3,143.8 308.7,145.5 306.3,149.3 306.8,152.2 307.4,155.0 308.2,158.1 308.6,161.2 311.6,163.2 314.8,164.9 316.5,168.1 318.5,171.1 318.9,174.2 319.8,177.3 321.2,179.7 322.3,182.3 319.8,184.7 317.2,185.7 314.8,187.2 312.5,188.7 309.9,189.7 306.1,187.2 303.0,185.3 299.9,183.5 297.4,182.4 295.0,181.0 292.5,182.3 293.7,184.8 295.0,187.2 295.6,189.8 296.9,192.1 297.4,194.7 298.1,197.2 298.8,199.7 299.9,202.1 300.6,204.7 301.9,207.0 302.4,209.6 303.3,213.3 303.6,217.0 304.6,219.6 306.1,222.0 309.9,219.5 312.3,222.0 314.8,224.4 317.4,226.2 319.8,228.2 322.2,229.1 324.7,230.0 327.2,230.6 330.3,231.9 333.4,233.1 336.1,234.7 338.4,236.8 340.9,239.3 343.3,241.8 346.5,243.5 349.6,245.5 352.1,246.7 354.6,247.9 357.0,249.3 355.2,251.8 353.3,254.2 351.5,256.6 350.2,259.4 348.3,261.7 346.7,264.3 344.6,266.6 342.2,269.2 339.6,271.6 338.8,275.3 338.4,279.0 337.4,282.2 335.9,285.2 334.7,289.0 337.2,289.6 339.7,290.4 342.1,291.4 344.6,292.7 347.1,293.9 349.5,295.2 352.0,296.4 354.5,297.6 357.2,299.0 359.4,301.1 362.0,302.6 364.3,305.2 366.9,307.6 369.3,308.9 371.8,310.3 374.4,311.3 376.9,312.1 379.4,312.8 381.8,313.8 384.3,315.1 386.8,316.3 389.3,317.5 393.0,318.2 396.7,318.7 398.4,321.3 400.4,323.7 403.6,324.7 406.6,326.2 409.1,325.7 411.6,325.3 414.1,324.9 416.7,325.1 419.3,325.8 421.9,326.3 425.4,327.0 427.6,325.6 431.1,323.5 434.6,325.6 437.1,326.6 439.5,327.7 441.6,329.1 443.7,330.5 444.2,333.3 444.4,336.2 447.9,337.6 452.1,339.7 454.3,341.0 456.3,342.5 460.0,343.6 464.0,342.0 467.9,340.7 469.6,343.6 470.9,346.7 473.4,346.9 475.9,347.6 478.8,348.4 481.8,348.6 484.8,349.2 487.8,349.6 490.7,350.4 493.7,350.6 496.6,349.4 499.7,348.6 501.7,352.6 504.6,352.5 507.6,352.6 510.6,352.5 513.6,352.6 516.6,352.1 519.6,352.0 523.5,352.6 525.5,349.6 526.1,346.2 526.5,342.7 525.8,339.6 524.5,336.7 523.5,332.8 524.5,329.8 524.8,327.1 525.0,324.4 525.5,321.8 525.7,318.8 525.9,315.8 526.5,312.9 529.5,310.9 531.9,310.3 534.4,309.9 538.4,307.9 542.4,309.9 542.7,313.4 543.4,316.9 543.3,320.4 543.4,323.8 544.2,326.7 544.4,329.8 543.4,332.8 544.7,335.6 545.4,338.7 549.3,340.7 552.3,341.3 555.3,341.7 558.3,342.0 561.2,342.7 564.2,343.4 567.2,343.7 571.2,342.7 574.2,342.5 577.1,341.7 581.1,340.7 584.0,341.3 587.0,341.7 589.7,342.2 592.3,342.6 595.0,342.7 597.5,342.4 600.0,342.4 603.5,342.2 607.0,341.5 610.6,340.8 614.0,339.5 616.9,338.9 619.9,338.4 620.2,335.6 619.9,332.8 619.9,330.0 618.9,326.6 614.9,325.6 611.0,323.6 609.5,321.6 608.0,319.6 608.0,314.7 611.0,315.7 614.9,317.6 618.9,316.6 622.9,314.7 625.8,315.7 629.8,315.2 633.8,312.7 634.8,309.7 636.8,305.7 639.4,305.0 641.7,303.7 644.2,302.8 646.7,301.8 648.7,297.8 650.7,293.8 654.6,292.3 657.1,292.2 659.6,292.3 662.1,291.8 664.6,291.8 666.5,287.9 668.7,285.6 670.5,282.9 672.4,280.8 674.5,278.9 678.4,276.9 681.4,274.5 683.4,276.1 685.4,277.9 688.4,278.8 691.3,279.9 694.3,280.3 697.3,280.8 702.2,279.9 703.6,277.9 705.2,275.9 708.3,275.2 711.2,273.9 713.7,273.0 716.1,271.9 719.1,274.9 721.2,276.3 723.1,277.9 719.1,279.9 718.1,283.8 722.1,284.8 726.1,282.8 726.3,285.4 727.1,287.8 727.5,290.3 728.0,292.8 725.1,296.7 722.1,299.7 724.6,299.7 727.1,299.7 730.1,300.6 733.0,301.7 736.0,302.2 739.0,302.7 741.9,304.0 744.9,304.7 747.9,307.6 747.6,310.6 746.9,313.6 742.9,314.6 739.0,317.6 737.0,321.5 737.1,324.5 737.0,327.5 739.0,331.5 741.9,334.4 739.0,334.4 736.0,330.5 732.0,328.5 729.5,328.0 727.1,327.5 724.1,327.2 721.1,327.5 718.6,327.8 716.1,328.5 712.2,330.5 710.1,332.3 708.2,334.4 705.8,336.1 703.2,337.4 700.8,339.0 698.3,340.4 695.3,343.4 694.5,345.8 694.3,348.3 693.9,351.8 693.3,355.3 693.2,357.9 693.5,360.6 693.3,363.2 692.4,366.7 691.3,370.2 689.3,372.2 687.3,374.1 683.4,377.1 680.7,377.4 681.3,380.0 681.6,382.6 684.2,386.1 684.2,389.5 683.2,392.1 682.5,394.7 681.1,397.3 679.9,400.0 678.5,402.2 677.4,404.5 676.4,406.9 675.2,409.2 674.3,411.6 672.9,413.8 671.2,416.9 669.4,419.9 666.0,419.1 663.4,418.0 660.7,417.3 658.1,416.9 655.5,416.5 652.8,415.8 650.3,414.7 652.1,417.3 652.5,419.9 652.9,422.5 652.9,426.0 652.9,429.5 652.4,432.9 652.1,436.4 651.0,438.9 650.3,441.6 649.3,445.2 647.7,448.6 647.0,452.1 646.0,455.5 646.6,458.1 646.9,460.7 645.1,465.1 641.6,466.8 639.9,469.4 636.4,466.0 633.8,468.6 633.0,466.0 632.3,462.5 632.1,459.0 631.5,455.5 630.3,452.1 629.5,448.6 628.6,445.1 627.9,442.5 627.7,439.9 627.6,436.4 626.9,433.0 626.7,429.5 626.0,426.0 625.1,424.3 622.5,424.3 619.1,426.0 615.6,428.6 614.7,433.0 614.3,435.6 613.8,438.2 613.0,441.6 609.5,443.4 606.9,441.6 605.2,439.9 603.4,436.4 602.9,433.8 602.6,431.2 601.3,429.0 600.0,426.9 599.1,422.5 599.5,419.9 600.0,417.3 602.6,414.7 606.9,413.0 609.5,411.7 612.1,410.4 615.6,409.5 618.2,406.0 620.5,404.5 622.5,402.6 624.3,403.4 624.8,400.0 625.1,396.5 626.0,393.0 628.1,390.4 629.8,387.5 627.1,386.5 624.3,386.1 621.4,386.6 618.5,386.3 615.6,386.9 613.0,386.7 610.4,386.9 607.8,387.5 605.2,387.4 602.6,387.5 599.9,387.4 597.3,387.0 594.7,386.9 591.7,386.4 588.7,386.2 585.6,386.6 582.6,386.0 579.7,385.3 576.8,385.3 573.9,384.6 570.5,383.6 567.2,382.4 567.5,379.9 568.2,377.4 568.0,374.4 567.2,371.5 567.6,368.5 568.2,365.5 568.0,362.5 567.2,359.6 565.2,356.6 563.2,359.6 562.2,363.5 559.3,363.5 557.2,361.7 555.3,359.6 553.2,358.2 551.3,356.6 547.3,357.6 543.4,355.6 541.3,354.3 539.4,352.6 535.4,350.6 531.5,352.6 529.5,355.6 527.5,359.6 526.5,363.5 527.6,366.5 528.5,369.5 530.7,371.8 532.5,374.4 535.5,375.3 538.4,376.4 540.3,378.0 542.4,379.4 544.4,381.4 546.4,383.4 544.4,385.4 540.9,385.6 537.4,386.4 534.4,386.8 531.5,387.3 529.4,388.7 527.5,390.3 526.7,392.9 525.5,395.3 526.5,399.3 528.2,404.0 531.0,405.7 534.1,406.9 536.6,408.0 539.1,408.9 539.8,412.4 540.1,415.9 539.0,418.8 538.1,421.8 539.4,424.7 540.1,427.8 541.2,430.1 542.1,432.4 543.1,434.7 547.0,436.7 546.0,439.2 545.1,441.7 545.1,445.0 545.4,448.3 545.1,451.6 546.0,454.2 546.3,457.0 547.0,459.6 547.6,462.3 548.3,464.9 549.0,467.5 549.6,470.8 549.8,474.1 550.0,477.4 547.4,478.1 545.1,479.4 542.1,479.6 539.1,479.4 536.5,478.7 533.8,478.8 531.2,478.4 528.7,478.0 526.2,477.4 524.2,474.4 525.2,470.5 523.2,468.5 521.5,470.7 519.3,472.5 516.4,474.1 513.3,475.4 510.3,476.3 507.3,477.4 504.8,479.4 502.4,481.4 500.3,483.3 498.4,485.4 496.4,489.3 497.2,492.2 497.4,495.3 499.4,499.3 501.4,500.2 497.4,502.2 495.4,505.2 493.4,509.2 491.7,511.4 489.5,513.2 487.1,515.7 484.5,518.1 482.0,519.5 479.6,521.1 476.6,522.1 473.6,523.1 470.6,524.5 467.6,526.1 464.8,527.9 461.7,529.0 458.6,530.8 455.7,533.0 452.7,534.9 449.8,537.0 447.2,538.9 444.8,540.9 442.9,544.0 440.8,545.8 438.8,547.8 437.0,549.9 435.2,552.1 433.1,554.0 431.0,555.9 429.0,557.9 427.0,559.9 424.8,561.6 423.1,563.8 421.2,565.6 419.2,567.2 417.1,568.8 415.0,570.3 413.4,572.3 411.2,573.7 409.1,575.2 407.3,577.1 405.2,578.7 402.2,580.1 399.3,581.7 396.4,583.8 393.3,585.7 391.3,587.7 389.3,589.6 388.7,592.6 388.3,595.6 387.3,599.6 388.3,603.5 386.0,605.3 383.4,606.5 380.4,607.6 377.4,608.5 374.4,608.7 371.5,609.5 368.4,610.3 365.5,611.5 362.7,613.6 359.6,615.4 358.5,617.8 357.6,620.4 355.5,622.3 353.6,624.4 350.6,622.4 347.6,621.4 343.7,623.4 341.9,625.6 339.7,627.3 338.0,629.1 336.7,631.3 335.7,634.3 334.7,637.3 334.6,640.2 334.7,643.2 335.2,646.2 335.7,649.2 336.4,652.1 336.7,655.1 336.5,657.8 336.4,660.4 336.7,663.1 337.0,667.9 337.9,670.6 339.3,673.1 340.0,675.9 340.4,678.9 341.0,681.8 340.7,684.5 340.0,687.1 340.0,689.8 339.4,692.4 338.3,695.0 338.0,697.7 336.8,700.6 336.1,703.7 334.9,706.8 333.1,709.6 331.5,712.6 330.1,715.6 329.3,718.6 328.1,721.5 328.3,724.5 328.1,727.5 328.5,730.5 329.1,733.5 328.8,736.1 328.9,738.8 329.1,741.4 329.8,744.0 329.7,746.7 330.1,749.3 329.9,752.0 330.2,754.6 330.1,757.3 327.7,756.5 325.1,756.3 321.2,757.3 317.2,759.3 315.0,761.0 313.2,763.2 312.0,765.9 310.2,768.2 309.5,770.8 308.3,773.2 307.8,775.7 307.3,778.1 309.3,780.1 312.3,780.3 315.2,781.1 317.2,782.5 319.2,784.1 316.2,783.7 313.2,783.1 310.3,782.4 307.3,782.1 304.2,782.9 301.3,784.1 298.3,785.4 295.4,787.0 292.8,788.9 290.4,791.0 289.7,794.0 289.4,797.0 287.5,800.0 285.4,802.9 283.7,805.1 281.5,806.9 278.5,808.5 275.5,809.9 271.5,809.9 267.6,807.9 265.6,806.5 263.6,804.9 261.7,802.3 259.6,799.9 257.6,797.5 255.7,795.0 254.0,791.8 251.7,789.0 250.3,786.0 248.7,783.1 247.7,780.4 246.6,777.8 245.7,775.1 244.7,772.5 244.1,769.7 242.8,767.2 242.1,764.7 241.2,762.3 240.9,759.7 239.8,757.3 239.1,754.8 238.3,752.3 237.8,749.7 236.8,747.3 235.6,744.7 234.7,742.1 233.8,739.4 232.8,736.8 232.1,734.0 230.8,731.5 229.3,728.9 228.5,726.0 226.9,723.5 225.1,720.4 222.9,717.6 220.8,714.7 218.9,711.6 217.7,708.5 216.0,705.7 214.8,702.6 213.0,699.7 211.9,697.0 210.4,694.6 209.1,692.0 208.4,688.9 207.3,685.8 206.7,682.7 205.6,680.5 205.0,678.0 204.3,675.6 203.2,673.3 202.3,671.0 201.3,668.6 200.6,666.2 199.7,663.9 198.3,660.9 197.4,657.7 196.2,654.6 194.9,652.3 193.7,650.0 192.4,647.7 191.5,645.2 190.5,642.8 189.3,640.4 188.1,638.1 186.8,635.8 185.9,633.4 184.7,631.1 183.5,628.8 182.2,626.5 181.1,624.2 180.6,621.7 179.8,619.3 178.6,617.1 178.0,614.7 177.0,612.3 176.1,610.0 175.1,607.7 174.2,604.6 173.4,601.5 172.8,598.4 172.4,595.3 172.1,592.1 171.6,589.0 170.5,585.9 170.0,582.7 169.3,579.6 168.2,576.6 167.4,573.5 166.9,570.3 165.9,567.2 165.6,564.0 164.6,560.9 164.0,557.8 163.8,554.6 163.4,551.5 162.6,548.6 162.0,545.7 161.4,542.8 160.5,540.0 159.9,537.4 159.8,534.8 159.2,532.0 158.7,529.2 157.9,526.5 157.6,523.6 158.0,520.8 158.9,518.0 159.1,515.1 159.8,510.9 162.6,508.1 163.3,503.2 162.3,500.5 161.9,497.6 159.8,493.4 156.6,490.5 156.2,487.4 156.2,484.2 156.9,480.0 156.0,476.7 155.1,473.3 154.6,470.3 154.1,467.3 154.3,464.3 155.1,461.4 152.2,460.4 151.2,463.4 149.2,467.3 148.2,471.3 148.6,474.3 149.2,477.3 148.8,479.8 148.2,482.2 146.9,484.6 146.2,487.2 143.2,490.2 140.3,491.8 137.3,493.2 134.4,494.4 131.3,495.1 128.2,495.8 125.4,497.1 122.5,498.4 119.4,499.1 116.9,499.6 114.4,500.1 111.9,499.7 109.5,499.1 107.1,497.4 104.5,496.1 101.9,493.8 99.6,491.2 97.8,489.3 96.4,487.1 94.6,485.2 92.6,483.2 90.5,481.4 88.6,479.3 86.5,477.8 84.6,476.0 82.7,474.3 80.2,472.3 77.7,470.3 75.9,467.7 73.7,465.4 71.7,463.4 69.8,461.4 69.8,457.4 72.8,455.4 76.7,456.4 79.3,456.6 81.7,457.4 84.2,457.2 86.6,456.4 90.6,454.4 93.2,453.7 95.6,452.5 98.1,451.1 100.5,449.5 101.8,447.3 103.5,445.5 105.5,441.5 103.0,442.4 100.5,443.5 98.1,444.6 95.6,445.5 92.7,446.7 89.6,447.5 86.7,447.2 83.7,447.5 80.8,446.3 77.7,445.5 75.3,444.3 72.8,443.5 69.7,442.2 66.8,440.5 64.2,439.3 61.8,437.6 59.9,433.6 60.2,430.6 59.9,427.6 57.9,424.7 54.9,426.7 51.9,426.7 51.5,424.2 50.9,421.7 53.9,418.7 56.3,417.4 58.9,416.7 61.8,417.7 64.8,416.7 64.7,413.2 64.8,409.8 66.8,408.8 68.8,410.8 71.3,410.3 73.7,409.8 76.1,409.0 78.7,408.8 81.2,409.3 83.7,409.8 86.7,409.7 89.6,409.8 92.6,409.7 95.6,409.8 99.6,407.8 103.5,405.8 106.0,405.8 108.5,405.8 110.5,408.8 112.9,408.1 115.4,407.8 117.5,406.4 119.4,404.8 119.9,402.4 120.4,399.9 119.4,396.9 118.4,393.9 117.2,391.5 116.4,388.9 114.8,386.5 113.4,384.0 112.4,381.7 111.8,379.2 109.9,375.2 106.9,371.3 104.5,369.6 101.9,368.3 99.8,365.9 97.9,363.3 97.2,360.3 96.9,357.3 97.2,354.3 97.9,351.4 93.9,349.4 91.4,349.1 89.0,348.4 86.4,347.0 84.0,345.4 82.0,341.4 83.0,337.4 84.7,335.1 86.0,332.5 88.1,330.1 90.0,327.5 91.8,324.4 93.9,321.5 96.2,318.7 97.9,315.5 100.9,312.6 104.9,310.6 108.9,311.6 110.8,313.5 112.8,317.5 115.8,318.5 118.8,317.5 121.8,316.5 124.7,315.2 127.8,314.5 130.7,313.9 133.7,313.5 136.2,313.0 138.7,312.6 140.0,310.0 141.7,307.6 143.4,305.2 144.7,302.6 146.1,300.0 147.7,297.6 149.0,295.1 150.6,292.7 152.4,290.5 154.6,288.7 157.0,287.0 159.6,285.7 162.3,284.5 164.6,282.7 166.8,279.8 168.6,276.7 170.0,273.7 171.5,270.8 172.5,267.8 173.5,264.8 174.4,261.8 175.5,258.8 178.5,255.8 181.0,255.7 183.5,255.8 187.5,256.8 188.0,251.9 187.1,249.5 186.7,246.9 188.6,243.2 190.4,241.3 192.3,239.5 194.3,237.0 196.1,234.5 199.2,230.8 202.3,228.3 204.1,226.5 202.3,224.6 202.3,222.1 202.9,219.6 202.9,215.3 202.3,210.9 202.9,207.2 204.7,204.7 207.2,202.3 209.6,200.8 212.2,199.8 215.9,198.5 220.2,196.7 222.1,195.4 221.5,193.0 218.4,191.1 214.7,189.2 212.2,188.5 209.7,188.0 206.0,186.7 205.4,182.4 204.7,179.3 201.0,179.3 197.8,178.3 194.8,176.8 191.8,175.4 188.6,174.3 185.4,173.3 182.4,171.9 180.5,170.0 179.3,167.8 178.5,165.4 178.6,162.5 178.2,159.6 178.5,156.7 178.7,153.0 178.5,149.3 177.8,146.7 176.9,144.3 176.0,141.8 175.3,138.7 174.7,135.6 175.1,133.0 176.0,130.6 178.4,128.7 180.9,126.9 182.6,124.8 184.7,123.2 187.2,122.1 189.6,120.7 190.2,118.2 190.9,115.8 188.4,112.0 185.9,110.2 183.4,108.3 183.4,105.8 183.4,103.3 181.6,100.8 179.7,98.4 177.2,97.8 174.8,96.7 172.3,95.9 169.9,94.4 167.4,93.2 164.8,92.2 161.1,91.8 157.4,91.0 155.7,88.9 153.6,87.2 153.6,82.3"/>
</g>
<g fill="#e9b89c" stroke="none"><polygon points="339.4,543.9 339.4,543.9 340.5,548.6 340.5,548.6 340.5,548.6 342.9,552.1 342.9,552.1 342.9,552.1 347.4,555.4 347.5,555.5 347.6,555.7 347.8,555.8 351.7,561.5 351.7,561.5 351.7,561.5 353.4,562.6 353.4,562.6 353.4,562.6 353.8,562.4 353.9,562.4 354.1,562.3 354.3,562.3 354.5,562.3 354.6,562.3 354.8,562.3 355.0,562.3 355.2,562.4 355.3,562.4 355.5,562.5 355.6,562.6 355.8,562.8 355.9,562.9 356.0,563.0 356.1,563.2 356.2,563.3 356.2,563.5 356.3,563.7 356.3,563.8 356.3,564.0 356.3,564.2 356.3,564.4 355.8,567.3 355.8,567.3 355.8,567.3 356.9,572.0 356.9,572.0 356.9,572.0 360.5,573.7 360.5,573.7 360.5,573.7 365.1,573.2 365.1,573.2 365.1,573.2 367.5,569.6 367.5,569.5 369.8,565.0 369.8,565.0 372.2,560.4 372.2,560.2 375.1,555.6 375.1,555.6 375.1,555.6 374.6,555.3 374.5,555.2 374.4,555.1 374.2,554.9 374.1,554.8 374.1,554.7 374.0,554.5 373.9,554.3 373.9,554.2 373.8,554.0 373.8,553.8 373.8,553.6 373.9,553.5 373.9,553.3 374.0,553.1 374.0,553.0 374.6,551.9 374.7,551.7 374.8,551.6 374.9,551.5 375.0,551.3 375.2,551.2 375.3,551.1 375.5,551.1 375.6,551.0 375.8,550.9 376.0,550.9 376.1,550.9 376.3,550.9 376.3,550.9 376.3,550.9 379.2,549.7 379.2,549.7 379.2,549.7 382.7,547.4 382.7,547.4 382.7,547.4 383.9,542.7 383.9,542.7 383.9,542.7 383.3,536.9 383.3,536.9 383.3,536.9 381.5,532.2 381.5,532.2 381.5,532.2 380.5,531.4 380.4,531.3 380.2,531.2 380.1,531.0 380.0,530.9 380.0,530.7 379.9,530.6 379.8,530.4 379.8,530.3 379.8,530.1 379.8,529.9 379.8,529.8 380.4,525.1 380.4,525.1 380.4,525.1 379.2,520.5 379.2,520.5 379.2,520.5 376.9,516.4 376.9,516.4 376.9,516.4 374.9,515.2 374.7,515.1 374.6,515.0 374.5,514.9 374.4,514.7 374.3,514.6 374.2,514.4 374.1,514.3 374.1,514.1 374.0,514.0 374.0,513.8 374.0,513.6 374.0,513.5 374.0,513.3 374.5,511.1 374.5,511.1 374.5,511.1 373.3,507.6 373.3,507.6 373.3,507.6 369.8,507.0 369.8,507.0 365.1,506.4 365.1,506.4 365.1,506.4 360.6,508.2 360.4,508.2 353.4,509.9 353.4,509.9 353.4,509.9 347.6,513.4 347.6,513.4 347.6,513.4 346.4,520.5 346.4,520.5 346.4,520.5 348.2,524.0 348.2,524.0 348.2,524.0 348.4,524.1 348.6,524.2 348.7,524.3 348.8,524.4 349.0,524.5 349.1,524.7 349.2,524.8 349.2,525.0 349.3,525.1 350.5,528.7 350.5,528.7 350.5,528.7 352.2,532.0 352.3,532.2 352.3,532.3 352.4,532.5 352.4,532.7 352.4,532.9 352.4,533.0 352.4,533.2 352.3,533.4 352.3,533.5 352.2,533.7 352.1,533.8 352.0,534.0 351.9,534.1 351.8,534.2 351.6,534.3 351.5,534.4 351.3,534.5 351.2,534.6 351.0,534.6 350.8,534.6 350.6,534.6 350.5,534.6 350.3,534.6 350.1,534.6 350.0,534.5 349.9,534.5 349.9,534.5 349.9,534.5 345.2,535.1 345.2,535.1 345.2,535.1 340.5,539.2 340.5,539.2 340.5,539.2 339.4,543.9 339.4,543.9"/></g>
<g fill="#be643e" stroke="#fbe3d3" stroke-width="0.7" stroke-linejoin="round">
<polygon points="424.0,330.5 425.5,331.0 426.9,331.9 429.7,336.2 433.2,340.4 436.7,345.3 437.4,347.4 433.2,347.0 429.7,346.0 426.2,345.3 424.0,344.6 421.2,343.9 418.4,342.5 417.7,340.4 420.5,337.6 423.3,334.0"/><polygon points="417.0,352.3 419.1,349.5 421.2,346.7 424.0,344.9 426.9,348.1 429.7,350.2 431.1,353.0 432.5,355.1 431.1,357.2 429.0,359.0 426.2,358.6 423.3,357.2 420.5,355.1 417.7,353.7"/><polygon points="409.8,364.4 411.0,361.0 414.2,358.3 417.0,357.9 419.8,359.3 421.2,362.1 421.9,364.9 420.5,367.0 417.0,367.8 413.5,368.5 410.6,367.5"/><polygon points="397.6,379.9 398.6,376.9 401.6,376.0 405.6,377.4 407.6,379.9 406.6,382.9 403.6,384.4 399.6,384.9 398.1,382.9"/><polygon points="407.6,378.9 411.5,378.4 414.5,379.9 415.5,382.9 413.5,386.9 412.5,391.8 411.5,395.8 408.6,396.8 407.6,392.8 406.6,388.9 405.6,384.9 406.6,380.9"/><polygon points="385.7,385.9 387.7,384.9 394.7,384.9 399.6,385.9 402.6,385.4 405.6,387.4 406.6,390.8 407.6,394.8 403.6,394.8 399.6,395.3 396.6,396.3 393.7,396.8 389.7,398.8 386.7,397.8 385.2,394.8 385.2,389.9"/><polygon points="384.6,445.4 387.8,444.1 391.7,444.1 395.6,446.7 400.7,448.7 404.6,451.2 405.9,455.1 405.2,461.5 400.7,462.8 396.9,464.1 395.6,461.5 390.4,460.3 385.3,458.3 384.6,453.8 384.6,448.7"/><polygon points="365.1,516.4 369.8,515.2 373.9,514.6 376.9,516.4 379.2,520.5 380.4,525.1 379.8,529.8 376.9,532.2 372.2,534.5 369.8,536.9 367.5,535.7 366.9,531.0 367.5,526.3 364.6,523.4 364.0,520.5"/><polygon points="349.3,522.8 353.4,521.0 356.9,521.6 359.3,524.6 362.8,524.6 366.3,526.3 367.5,529.8 366.3,534.5 364.0,536.9 360.5,538.0 356.9,536.9 354.6,535.7 352.3,532.2 350.5,528.7 349.3,525.1"/><polygon points="340.5,539.2 345.2,535.1 349.9,534.5 354.6,536.3 358.1,537.4 361.0,538.6 361.6,541.5 361.0,546.2 361.0,550.9 359.9,555.6 356.9,559.1 355.8,561.5 353.4,562.6 351.7,561.5 347.6,555.6 342.9,552.1 340.5,548.6 339.4,543.9"/><polygon points="361.0,538.6 364.0,538.0 367.5,539.2 369.8,541.5 371.0,545.1 373.3,548.6 375.1,550.9 373.3,554.4 369.8,555.6 366.3,556.8 362.8,557.9 361.0,555.6 361.0,550.9 361.6,543.9"/><polygon points="355.2,560.3 359.3,557.4 362.8,557.9 369.8,555.6 373.3,554.4 375.1,555.6 372.2,560.3 369.8,565.0 367.5,569.6 365.1,573.2 360.5,573.7 356.9,572.0 355.8,567.3 356.4,563.8"/>
</g>
<g fill="#a63603" stroke="#fbe3d3" stroke-width="0.7" stroke-linejoin="round">
<polygon points="421.9,361.4 424.0,360.7 426.9,362.1 431.1,362.8 434.6,364.2 438.1,366.3 441.6,369.2 443.0,371.3 439.5,372.0 436.0,372.0 432.5,372.3 429.7,372.7 427.6,373.4 426.2,371.3 424.0,369.2 422.6,366.3 421.6,363.5"/><polygon points="396.6,396.8 400.6,395.3 405.6,395.8 410.5,397.3 414.5,399.8 415.0,402.8 413.5,407.7 411.5,413.7 408.6,417.6 404.6,418.6 401.6,416.6 399.6,411.7 398.6,406.7 397.6,401.8"/><polygon points="347.6,513.4 353.4,509.9 360.5,508.2 365.1,506.4 369.8,507.0 373.3,507.6 374.5,511.1 373.9,514.0 369.8,515.2 365.1,516.4 364.0,520.5 362.8,524.0 359.3,524.6 356.9,521.6 353.4,521.0 349.9,521.6 348.2,524.0 346.4,520.5"/><polygon points="369.8,536.9 372.2,534.5 376.9,531.6 379.2,530.4 381.5,532.2 383.3,536.9 383.9,542.7 382.7,547.4 379.2,549.7 376.3,550.9 374.5,548.6 372.2,546.2 369.8,543.9 368.7,540.4"/>
</g>
</svg>
<h1>DNA H (Kui) Gond Dhuria density interactive map</h1>
</body></html>
